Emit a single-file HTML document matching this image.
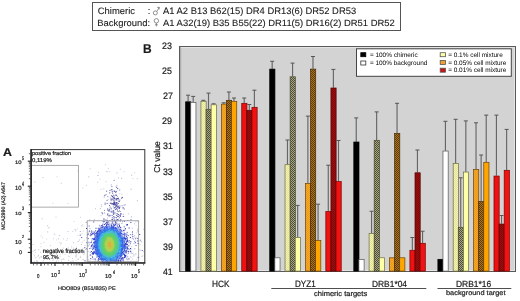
<!DOCTYPE html><html><head><meta charset="utf-8"><style>
*{margin:0;padding:0;box-sizing:border-box}
html,body{width:520px;height:301px;overflow:hidden;background:#fff}
body{position:relative;font-family:"Liberation Sans",sans-serif;color:#1a1a1a;text-rendering:geometricPrecision}
.t,.hl,.leg{filter:grayscale(1);-webkit-text-stroke:0.2px currentColor}
.hl{-webkit-text-stroke:0.1px currentColor}
.leg{-webkit-text-stroke:0}
svg{position:absolute;left:0;top:0}
.t{position:absolute;white-space:nowrap;line-height:1}
.hdr{position:absolute;left:91.5px;top:2.2px;width:309.8px;height:29.2px;border:1px solid #555;}
.hl{position:absolute;font-size:9.45px;white-space:nowrap;line-height:1}
.yl{position:absolute;font-size:8.5px;width:20px;text-align:right;line-height:1}
.leg{position:absolute;font-size:6.45px;line-height:1;white-space:nowrap;color:#000}
.xl{position:absolute;font-size:8.5px;line-height:1;white-space:nowrap;text-align:center}
.fs{position:absolute;font-size:4.6px;line-height:1;white-space:nowrap;color:#222}
.fa{position:absolute;font-size:5.5px;line-height:1;white-space:nowrap;color:#222}
.fa sup{font-size:4px;position:relative;top:-1px;vertical-align:top}
</style></head><body>
<div class="hdr"></div>
<div class="hl" style="left:97.72px;top:6.90px;font-size:9.45px;font-weight:normal;transform-origin:0 0;transform:scale(1.000,0.985);">Chimeric</div>
<div class="hl" style="left:147.71px;top:7.14px;font-size:9.45px;font-weight:normal;transform-origin:0 0;transform:scale(1.000,0.985);">:</div>
<div class="hl" style="left:162.67px;top:7.02px;font-size:9.45px;font-weight:normal;transform-origin:0 0;transform:scale(0.995,0.985);">A1 A2 B13 B62(15) DR4 DR13(6) DR52 DR53</div>
<div class="hl" style="left:97.19px;top:18.62px;font-size:9.45px;font-weight:normal;transform-origin:0 0;transform:scale(1.000,0.969);">Background:</div>
<div class="hl" style="left:162.83px;top:18.61px;font-size:9.45px;font-weight:normal;transform-origin:0 0;transform:scale(0.998,0.969);">A1 A32(19) B35 B55(22) DR11(5) DR16(2) DR51 DR52</div>
<svg width="520" height="40" viewBox="0 0 520 40" style="position:absolute;left:0;top:0">
<g fill="none" stroke="#777" stroke-width="0.8">
<circle cx="155.3" cy="12.9" r="2.0"/>
<line x1="156.8" y1="11.4" x2="159.2" y2="7.4"/>
<path d="M157.2 7.6 L159.3 7.2 L159.1 9.4"/>
<circle cx="156.4" cy="20.8" r="2.2"/>
<line x1="156.4" y1="23" x2="156.4" y2="26.4"/>
<line x1="154.9" y1="24.8" x2="157.9" y2="24.8"/>
</g></svg>
<svg class="flow" width="520" height="301" viewBox="0 0 520 301">
<defs>
<radialGradient id="lg0" cx="0.5" cy="0.5" r="0.5"><stop offset="0" stop-color="#2850e8"/><stop offset="0.72" stop-color="#2850e8"/><stop offset="1" stop-color="#2850e8" stop-opacity="0"/></radialGradient>
<radialGradient id="lg1" cx="0.5" cy="0.5" r="0.5"><stop offset="0" stop-color="#48b0f0"/><stop offset="0.72" stop-color="#48b0f0"/><stop offset="1" stop-color="#48b0f0" stop-opacity="0"/></radialGradient>
<radialGradient id="lg2" cx="0.5" cy="0.5" r="0.5"><stop offset="0" stop-color="#58d070"/><stop offset="0.72" stop-color="#58d070"/><stop offset="1" stop-color="#58d070" stop-opacity="0"/></radialGradient>
<radialGradient id="lg3" cx="0.5" cy="0.5" r="0.5"><stop offset="0" stop-color="#b0d050"/><stop offset="0.72" stop-color="#b0d050"/><stop offset="1" stop-color="#b0d050" stop-opacity="0"/></radialGradient>
<radialGradient id="lg4" cx="0.5" cy="0.5" r="0.5"><stop offset="0" stop-color="#d8b048"/><stop offset="0.72" stop-color="#d8b048"/><stop offset="1" stop-color="#d8b048" stop-opacity="0"/></radialGradient>
</defs>
<rect x="30.9" y="149.6" width="113.9" height="113.5" fill="#fff" stroke="#333" stroke-width="1"/>
<rect x="82.6" y="226.2" width="1" height="1" fill="#dadae2"/>
<rect x="82.5" y="247.9" width="1" height="1" fill="#d2d2dc"/>
<rect x="52.9" y="238.2" width="1" height="1" fill="#d2d2dc"/>
<rect x="42.8" y="260.3" width="1" height="1" fill="#bcbed2"/>
<rect x="48.1" y="227.4" width="1" height="1" fill="#c8c8d6"/>
<rect x="98.4" y="253.5" width="1" height="1" fill="#dadae2"/>
<rect x="139.4" y="248.8" width="1" height="1" fill="#d2d2dc"/>
<rect x="101.5" y="242.7" width="1" height="1" fill="#c8c8d6"/>
<rect x="39.0" y="257.5" width="1" height="1" fill="#c8c8d6"/>
<rect x="118.7" y="250.3" width="1" height="1" fill="#bcbed2"/>
<rect x="81.3" y="250.8" width="1" height="1" fill="#bcbed2"/>
<rect x="87.8" y="244.9" width="1" height="1" fill="#c8c8d6"/>
<rect x="83.1" y="251.7" width="1" height="1" fill="#c8c8d6"/>
<rect x="110.9" y="203.9" width="1" height="1" fill="#bcbed2"/>
<rect x="116.5" y="257.9" width="1" height="1" fill="#c8c8d6"/>
<rect x="76.8" y="261.8" width="1" height="1" fill="#bcbed2"/>
<rect x="75.3" y="230.3" width="1" height="1" fill="#c8c8d6"/>
<rect x="56.1" y="253.5" width="1" height="1" fill="#c8c8d6"/>
<rect x="84.5" y="245.1" width="1" height="1" fill="#c8c8d6"/>
<rect x="95.2" y="260.0" width="1" height="1" fill="#d2d2dc"/>
<rect x="118.7" y="261.2" width="1" height="1" fill="#bcbed2"/>
<rect x="34.1" y="254.9" width="1" height="1" fill="#dadae2"/>
<rect x="116.5" y="252.7" width="1" height="1" fill="#c8c8d6"/>
<rect x="33.6" y="253.5" width="1" height="1" fill="#dadae2"/>
<rect x="120.8" y="252.5" width="1" height="1" fill="#dadae2"/>
<rect x="88.8" y="242.5" width="1" height="1" fill="#d2d2dc"/>
<rect x="78.9" y="249.4" width="1" height="1" fill="#d2d2dc"/>
<rect x="32.5" y="250.7" width="1" height="1" fill="#bcbed2"/>
<rect x="143.1" y="251.2" width="1" height="1" fill="#c8c8d6"/>
<rect x="37.1" y="260.8" width="1" height="1" fill="#d2d2dc"/>
<rect x="56.0" y="260.6" width="1" height="1" fill="#bcbed2"/>
<rect x="124.5" y="232.9" width="1" height="1" fill="#dadae2"/>
<rect x="40.5" y="243.1" width="1" height="1" fill="#d2d2dc"/>
<rect x="34.1" y="250.0" width="1" height="1" fill="#bcbed2"/>
<rect x="73.6" y="221.0" width="1" height="1" fill="#dadae2"/>
<rect x="124.7" y="249.6" width="1" height="1" fill="#d2d2dc"/>
<rect x="128.5" y="258.1" width="1" height="1" fill="#d2d2dc"/>
<rect x="123.1" y="253.1" width="1" height="1" fill="#d2d2dc"/>
<rect x="112.8" y="249.1" width="1" height="1" fill="#d2d2dc"/>
<rect x="108.6" y="242.0" width="1" height="1" fill="#dadae2"/>
<rect x="130.2" y="247.9" width="1" height="1" fill="#c8c8d6"/>
<rect x="44.5" y="251.3" width="1" height="1" fill="#bcbed2"/>
<rect x="58.8" y="258.4" width="1" height="1" fill="#dadae2"/>
<rect x="64.9" y="249.5" width="1" height="1" fill="#d2d2dc"/>
<rect x="135.5" y="253.4" width="1" height="1" fill="#dadae2"/>
<rect x="94.4" y="260.8" width="1" height="1" fill="#c8c8d6"/>
<rect x="63.5" y="252.1" width="1" height="1" fill="#c8c8d6"/>
<rect x="40.1" y="256.4" width="1" height="1" fill="#dadae2"/>
<rect x="81.8" y="252.3" width="1" height="1" fill="#bcbed2"/>
<rect x="91.3" y="258.2" width="1" height="1" fill="#d2d2dc"/>
<rect x="42.6" y="250.1" width="1" height="1" fill="#bcbed2"/>
<rect x="105.3" y="247.9" width="1" height="1" fill="#d2d2dc"/>
<rect x="97.8" y="245.0" width="1" height="1" fill="#bcbed2"/>
<rect x="110.1" y="253.2" width="1" height="1" fill="#c8c8d6"/>
<rect x="34.8" y="249.3" width="1" height="1" fill="#bcbed2"/>
<rect x="67.8" y="247.4" width="1" height="1" fill="#c8c8d6"/>
<rect x="40.7" y="235.5" width="1" height="1" fill="#d2d2dc"/>
<rect x="120.4" y="254.2" width="1" height="1" fill="#bcbed2"/>
<rect x="71.4" y="247.6" width="1" height="1" fill="#dadae2"/>
<rect x="137.1" y="228.5" width="1" height="1" fill="#c8c8d6"/>
<rect x="128.2" y="240.7" width="1" height="1" fill="#dadae2"/>
<rect x="74.5" y="251.6" width="1" height="1" fill="#c8c8d6"/>
<rect x="99.9" y="240.8" width="1" height="1" fill="#bcbed2"/>
<rect x="130.0" y="250.4" width="1" height="1" fill="#bcbed2"/>
<rect x="75.5" y="260.0" width="1" height="1" fill="#dadae2"/>
<rect x="83.7" y="239.8" width="1" height="1" fill="#c8c8d6"/>
<rect x="89.9" y="247.5" width="1" height="1" fill="#c8c8d6"/>
<rect x="85.7" y="260.8" width="1" height="1" fill="#d2d2dc"/>
<rect x="138.6" y="239.7" width="1" height="1" fill="#dadae2"/>
<rect x="60.8" y="242.8" width="1" height="1" fill="#c8c8d6"/>
<rect x="73.2" y="247.6" width="1" height="1" fill="#d2d2dc"/>
<rect x="116.0" y="243.8" width="1" height="1" fill="#bcbed2"/>
<rect x="105.6" y="228.6" width="1" height="1" fill="#bcbed2"/>
<rect x="77.3" y="249.3" width="1" height="1" fill="#bcbed2"/>
<rect x="54.4" y="234.2" width="1" height="1" fill="#d2d2dc"/>
<rect x="130.0" y="249.1" width="1" height="1" fill="#dadae2"/>
<rect x="56.8" y="251.8" width="1" height="1" fill="#d2d2dc"/>
<rect x="87.5" y="256.5" width="1" height="1" fill="#c8c8d6"/>
<rect x="111.3" y="249.1" width="1" height="1" fill="#d2d2dc"/>
<rect x="44.9" y="257.9" width="1" height="1" fill="#dadae2"/>
<rect x="62.9" y="258.2" width="1" height="1" fill="#dadae2"/>
<rect x="106.9" y="245.0" width="1" height="1" fill="#dadae2"/>
<rect x="67.9" y="255.6" width="1" height="1" fill="#c8c8d6"/>
<rect x="107.6" y="250.0" width="1" height="1" fill="#bcbed2"/>
<rect x="95.7" y="251.2" width="1" height="1" fill="#c8c8d6"/>
<rect x="103.5" y="234.0" width="1" height="1" fill="#dadae2"/>
<rect x="82.8" y="230.5" width="1" height="1" fill="#d2d2dc"/>
<rect x="118.8" y="257.2" width="1" height="1" fill="#c8c8d6"/>
<rect x="141.5" y="256.0" width="1" height="1" fill="#bcbed2"/>
<rect x="138.7" y="256.7" width="1" height="1" fill="#d2d2dc"/>
<rect x="54.5" y="251.6" width="1" height="1" fill="#c8c8d6"/>
<rect x="116.1" y="260.4" width="1" height="1" fill="#c8c8d6"/>
<rect x="52.3" y="259.9" width="1" height="1" fill="#d2d2dc"/>
<rect x="76.0" y="246.6" width="1" height="1" fill="#d2d2dc"/>
<rect x="42.1" y="237.3" width="1" height="1" fill="#d2d2dc"/>
<rect x="82.4" y="250.9" width="1" height="1" fill="#d2d2dc"/>
<rect x="101.8" y="248.1" width="1" height="1" fill="#bcbed2"/>
<rect x="83.8" y="253.2" width="1" height="1" fill="#d2d2dc"/>
<rect x="43.4" y="241.8" width="1" height="1" fill="#c8c8d6"/>
<rect x="56.1" y="239.4" width="1" height="1" fill="#dadae2"/>
<rect x="141.1" y="241.2" width="1" height="1" fill="#bcbed2"/>
<rect x="61.4" y="259.1" width="1" height="1" fill="#c8c8d6"/>
<rect x="71.0" y="246.2" width="1" height="1" fill="#dadae2"/>
<rect x="117.6" y="253.0" width="1" height="1" fill="#dadae2"/>
<rect x="134.4" y="255.3" width="1" height="1" fill="#dadae2"/>
<rect x="121.1" y="228.6" width="1" height="1" fill="#d2d2dc"/>
<rect x="91.5" y="247.4" width="1" height="1" fill="#dadae2"/>
<rect x="48.9" y="227.2" width="1" height="1" fill="#dadae2"/>
<rect x="137.3" y="220.7" width="1" height="1" fill="#c8c8d6"/>
<rect x="116.4" y="260.2" width="1" height="1" fill="#dadae2"/>
<rect x="90.8" y="255.2" width="1" height="1" fill="#d2d2dc"/>
<rect x="90.4" y="235.5" width="1" height="1" fill="#bcbed2"/>
<rect x="67.0" y="238.0" width="1" height="1" fill="#d2d2dc"/>
<rect x="66.2" y="239.8" width="1" height="1" fill="#d2d2dc"/>
<rect x="139.8" y="240.2" width="1" height="1" fill="#d2d2dc"/>
<rect x="78.0" y="258.7" width="1" height="1" fill="#c8c8d6"/>
<rect x="88.2" y="258.9" width="1" height="1" fill="#c8c8d6"/>
<rect x="89.6" y="259.6" width="1" height="1" fill="#dadae2"/>
<rect x="92.7" y="253.4" width="1" height="1" fill="#c8c8d6"/>
<rect x="109.0" y="261.5" width="1" height="1" fill="#c8c8d6"/>
<rect x="135.6" y="225.1" width="1" height="1" fill="#dadae2"/>
<rect x="62.3" y="252.3" width="1" height="1" fill="#dadae2"/>
<rect x="87.1" y="242.6" width="1" height="1" fill="#dadae2"/>
<rect x="90.6" y="231.2" width="1" height="1" fill="#c8c8d6"/>
<rect x="53.6" y="233.5" width="1" height="1" fill="#d2d2dc"/>
<rect x="110.3" y="236.0" width="1" height="1" fill="#c8c8d6"/>
<rect x="36.4" y="260.6" width="1" height="1" fill="#bcbed2"/>
<rect x="68.1" y="259.9" width="1" height="1" fill="#bcbed2"/>
<rect x="59.5" y="242.1" width="1" height="1" fill="#c8c8d6"/>
<rect x="126.9" y="262.0" width="1" height="1" fill="#bcbed2"/>
<rect x="112.0" y="251.6" width="1" height="1" fill="#c8c8d6"/>
<rect x="74.1" y="228.8" width="1" height="1" fill="#dadae2"/>
<rect x="123.9" y="246.3" width="1" height="1" fill="#d2d2dc"/>
<rect x="91.1" y="248.0" width="1" height="1" fill="#d2d2dc"/>
<rect x="58.2" y="260.3" width="1" height="1" fill="#d2d2dc"/>
<rect x="67.4" y="231.1" width="1" height="1" fill="#bcbed2"/>
<rect x="131.2" y="252.0" width="1" height="1" fill="#d2d2dc"/>
<rect x="130.8" y="234.4" width="1" height="1" fill="#d2d2dc"/>
<rect x="131.0" y="257.2" width="1" height="1" fill="#dadae2"/>
<rect x="43.2" y="256.7" width="1" height="1" fill="#dadae2"/>
<rect x="92.6" y="258.9" width="1" height="1" fill="#c8c8d6"/>
<rect x="43.1" y="251.2" width="1" height="1" fill="#bcbed2"/>
<rect x="133.5" y="253.8" width="1" height="1" fill="#bcbed2"/>
<rect x="88.2" y="260.4" width="1" height="1" fill="#d2d2dc"/>
<rect x="121.4" y="258.4" width="1" height="1" fill="#dadae2"/>
<rect x="48.7" y="261.7" width="1" height="1" fill="#d2d2dc"/>
<rect x="45.1" y="257.4" width="1" height="1" fill="#bcbed2"/>
<rect x="135.2" y="253.3" width="1" height="1" fill="#c8c8d6"/>
<rect x="96.7" y="245.0" width="1" height="1" fill="#c8c8d6"/>
<rect x="117.2" y="242.9" width="1" height="1" fill="#bcbed2"/>
<rect x="75.7" y="247.9" width="1" height="1" fill="#d2d2dc"/>
<rect x="99.0" y="255.0" width="1" height="1" fill="#c8c8d6"/>
<rect x="102.7" y="251.1" width="1" height="1" fill="#dadae2"/>
<rect x="82.7" y="259.2" width="1" height="1" fill="#bcbed2"/>
<rect x="77.3" y="258.6" width="1" height="1" fill="#c8c8d6"/>
<rect x="68.3" y="252.5" width="1" height="1" fill="#c8c8d6"/>
<rect x="121.3" y="252.6" width="1" height="1" fill="#dadae2"/>
<rect x="95.6" y="229.7" width="1" height="1" fill="#d2d2dc"/>
<rect x="88.3" y="231.6" width="1" height="1" fill="#bcbed2"/>
<rect x="63.4" y="258.8" width="1" height="1" fill="#c8c8d6"/>
<rect x="115.0" y="256.6" width="1" height="1" fill="#dadae2"/>
<rect x="47.2" y="231.4" width="1" height="1" fill="#bcbed2"/>
<rect x="130.0" y="252.2" width="1" height="1" fill="#d2d2dc"/>
<rect x="77.4" y="234.8" width="1" height="1" fill="#d2d2dc"/>
<rect x="40.2" y="251.7" width="1" height="1" fill="#c8c8d6"/>
<rect x="130.9" y="246.1" width="1" height="1" fill="#c8c8d6"/>
<rect x="58.1" y="238.4" width="1" height="1" fill="#bcbed2"/>
<rect x="56.4" y="253.5" width="1" height="1" fill="#dadae2"/>
<rect x="95.6" y="245.6" width="1" height="1" fill="#dadae2"/>
<rect x="103.6" y="258.6" width="1" height="1" fill="#c8c8d6"/>
<rect x="116.9" y="258.5" width="1" height="1" fill="#c8c8d6"/>
<rect x="114.3" y="261.6" width="1" height="1" fill="#bcbed2"/>
<rect x="81.6" y="233.3" width="1" height="1" fill="#dadae2"/>
<rect x="33.6" y="261.2" width="1" height="1" fill="#bcbed2"/>
<rect x="60.2" y="244.3" width="1" height="1" fill="#dadae2"/>
<rect x="139.7" y="250.1" width="1" height="1" fill="#c8c8d6"/>
<rect x="103.2" y="259.6" width="1" height="1" fill="#c8c8d6"/>
<rect x="75.3" y="255.8" width="1" height="1" fill="#d2d2dc"/>
<rect x="75.2" y="229.2" width="1" height="1" fill="#c8c8d6"/>
<rect x="80.0" y="255.8" width="1" height="1" fill="#dadae2"/>
<rect x="79.1" y="239.5" width="1" height="1" fill="#bcbed2"/>
<rect x="91.2" y="258.3" width="1" height="1" fill="#dadae2"/>
<rect x="105.1" y="249.2" width="1" height="1" fill="#bcbed2"/>
<rect x="35.4" y="256.9" width="1" height="1" fill="#d2d2dc"/>
<rect x="97.4" y="250.4" width="1" height="1" fill="#dadae2"/>
<rect x="38.3" y="249.2" width="1" height="1" fill="#bcbed2"/>
<rect x="115.4" y="213.7" width="1" height="1" fill="#bcbed2"/>
<rect x="40.6" y="246.3" width="1" height="1" fill="#d2d2dc"/>
<rect x="80.0" y="216.8" width="1" height="1" fill="#d2d2dc"/>
<rect x="37.4" y="255.7" width="1" height="1" fill="#c8c8d6"/>
<rect x="136.3" y="258.8" width="1" height="1" fill="#d2d2dc"/>
<rect x="99.3" y="243.3" width="1" height="1" fill="#c8c8d6"/>
<rect x="38.0" y="254.7" width="1" height="1" fill="#c8c8d6"/>
<rect x="72.0" y="257.9" width="1" height="1" fill="#d2d2dc"/>
<rect x="46.2" y="238.5" width="1" height="1" fill="#dadae2"/>
<rect x="99.1" y="253.2" width="1" height="1" fill="#dadae2"/>
<rect x="72.8" y="260.9" width="1" height="1" fill="#d2d2dc"/>
<rect x="138.0" y="230.9" width="1" height="1" fill="#d2d2dc"/>
<rect x="58.8" y="235.0" width="1" height="1" fill="#bcbed2"/>
<rect x="62.9" y="238.5" width="1" height="1" fill="#d2d2dc"/>
<rect x="102.6" y="261.9" width="1" height="1" fill="#d2d2dc"/>
<rect x="88.1" y="251.1" width="1" height="1" fill="#d2d2dc"/>
<rect x="129.9" y="256.3" width="1" height="1" fill="#bcbed2"/>
<rect x="61.2" y="260.6" width="1" height="1" fill="#c8c8d6"/>
<rect x="101.5" y="245.1" width="1" height="1" fill="#c8c8d6"/>
<rect x="116.2" y="249.4" width="1" height="1" fill="#d2d2dc"/>
<rect x="93.5" y="250.9" width="1" height="1" fill="#dadae2"/>
<rect x="71.7" y="250.0" width="1" height="1" fill="#bcbed2"/>
<rect x="70.5" y="261.0" width="1" height="1" fill="#c8c8d6"/>
<rect x="121.4" y="229.7" width="1" height="1" fill="#dadae2"/>
<rect x="122.1" y="241.4" width="1" height="1" fill="#d2d2dc"/>
<rect x="81.7" y="241.7" width="1" height="1" fill="#bcbed2"/>
<rect x="75.7" y="256.4" width="1" height="1" fill="#bcbed2"/>
<rect x="64.7" y="254.1" width="1" height="1" fill="#d2d2dc"/>
<rect x="79.8" y="256.9" width="1" height="1" fill="#bcbed2"/>
<rect x="41.1" y="256.5" width="1" height="1" fill="#c8c8d6"/>
<rect x="80.3" y="233.7" width="1" height="1" fill="#dadae2"/>
<rect x="65.5" y="249.2" width="1" height="1" fill="#c8c8d6"/>
<rect x="40.8" y="256.4" width="1" height="1" fill="#c8c8d6"/>
<rect x="109.5" y="237.7" width="1" height="1" fill="#dadae2"/>
<rect x="112.8" y="257.3" width="1" height="1" fill="#d2d2dc"/>
<rect x="56.7" y="249.1" width="1" height="1" fill="#bcbed2"/>
<rect x="73.0" y="242.3" width="1" height="1" fill="#bcbed2"/>
<rect x="81.0" y="244.1" width="1" height="1" fill="#bcbed2"/>
<rect x="83.2" y="254.1" width="1" height="1" fill="#d2d2dc"/>
<rect x="41.7" y="218.3" width="1" height="1" fill="#bcbed2"/>
<rect x="35.1" y="252.1" width="1" height="1" fill="#d2d2dc"/>
<rect x="114.3" y="241.9" width="1" height="1" fill="#bcbed2"/>
<rect x="120.8" y="230.8" width="1" height="1" fill="#d2d2dc"/>
<rect x="52.0" y="253.9" width="1" height="1" fill="#dadae2"/>
<rect x="130.1" y="261.4" width="1" height="1" fill="#c8c8d6"/>
<rect x="92.7" y="258.6" width="1" height="1" fill="#bcbed2"/>
<rect x="139.6" y="244.2" width="1" height="1" fill="#c8c8d6"/>
<rect x="96.9" y="237.1" width="1" height="1" fill="#bcbed2"/>
<rect x="119.8" y="256.0" width="1" height="1" fill="#c8c8d6"/>
<rect x="132.1" y="258.6" width="1" height="1" fill="#c8c8d6"/>
<rect x="35.3" y="257.7" width="1" height="1" fill="#dadae2"/>
<rect x="59.6" y="255.8" width="1" height="1" fill="#d2d2dc"/>
<rect x="86.6" y="249.2" width="1" height="1" fill="#dadae2"/>
<rect x="76.1" y="253.6" width="1" height="1" fill="#bcbed2"/>
<rect x="121.9" y="257.5" width="1" height="1" fill="#dadae2"/>
<rect x="92.0" y="254.1" width="1" height="1" fill="#c8c8d6"/>
<rect x="110.9" y="247.1" width="1" height="1" fill="#bcbed2"/>
<rect x="127.1" y="253.2" width="1" height="1" fill="#dadae2"/>
<rect x="124.9" y="229.4" width="1" height="1" fill="#c8c8d6"/>
<rect x="90.5" y="234.6" width="1" height="1" fill="#c8c8d6"/>
<rect x="121.4" y="246.5" width="1" height="1" fill="#d2d2dc"/>
<rect x="59.7" y="253.7" width="1" height="1" fill="#d2d2dc"/>
<rect x="142.3" y="254.8" width="1" height="1" fill="#d2d2dc"/>
<rect x="75.6" y="254.8" width="1" height="1" fill="#bcbed2"/>
<rect x="62.8" y="247.6" width="1" height="1" fill="#c8c8d6"/>
<rect x="66.1" y="249.5" width="1" height="1" fill="#d2d2dc"/>
<rect x="118.5" y="259.5" width="1" height="1" fill="#dadae2"/>
<rect x="34.3" y="256.6" width="1" height="1" fill="#dadae2"/>
<rect x="133.2" y="254.2" width="1" height="1" fill="#d2d2dc"/>
<rect x="72.2" y="260.3" width="1" height="1" fill="#d2d2dc"/>
<rect x="98.9" y="242.1" width="1" height="1" fill="#dadae2"/>
<rect x="52.9" y="258.5" width="1" height="1" fill="#bcbed2"/>
<rect x="77.0" y="228.2" width="1" height="1" fill="#dadae2"/>
<rect x="127.0" y="240.8" width="1" height="1" fill="#dadae2"/>
<rect x="130.8" y="253.2" width="1" height="1" fill="#d0d0e0"/>
<rect x="105.6" y="239.1" width="1" height="1" fill="#c8c8dc"/>
<rect x="85.9" y="184.9" width="1" height="1" fill="#c8c8dc"/>
<rect x="56.5" y="176.3" width="1" height="1" fill="#d0d0e0"/>
<rect x="140.6" y="241.4" width="1" height="1" fill="#d0d0e0"/>
<rect x="119.8" y="168.8" width="1" height="1" fill="#c8c8dc"/>
<rect x="131.3" y="249.2" width="1" height="1" fill="#d0d0e0"/>
<rect x="82.3" y="187.4" width="1" height="1" fill="#d0d0e0"/>
<rect x="99.6" y="178.6" width="1" height="1" fill="#c8c8dc"/>
<rect x="118.0" y="177.4" width="1" height="1" fill="#c8c8dc"/>
<rect x="103.0" y="260.9" width="1" height="1" fill="#d0d0e0"/>
<rect x="89.6" y="168.3" width="1" height="1" fill="#c8c8dc"/>
<rect x="32.6" y="244.0" width="1" height="1" fill="#c8c8dc"/>
<rect x="123.6" y="171.2" width="1" height="1" fill="#d0d0e0"/>
<rect x="100.6" y="215.1" width="1" height="1" fill="#d0d0e0"/>
<rect x="109.3" y="171.3" width="1" height="1" fill="#d0d0e0"/>
<rect x="34.5" y="181.6" width="1" height="1" fill="#c8c8dc"/>
<rect x="134.1" y="172.1" width="1" height="1" fill="#d0d0e0"/>
<rect x="55.5" y="216.6" width="1" height="1" fill="#d0d0e0"/>
<rect x="49.9" y="245.1" width="1" height="1" fill="#d0d0e0"/>
<rect x="67.5" y="203.0" width="1" height="1" fill="#d0d0e0"/>
<rect x="143.0" y="228.8" width="1" height="1" fill="#c8c8dc"/>
<rect x="72.3" y="230.8" width="1" height="1" fill="#c8c8dc"/>
<rect x="106.4" y="229.7" width="1" height="1" fill="#c8c8dc"/>
<rect x="104.9" y="164.3" width="1" height="1" fill="#d0d0e0"/>
<rect x="111.3" y="209.9" width="1" height="1" fill="#d0d0e0"/>
<rect x="95.0" y="208.2" width="1" height="1" fill="#c8c8dc"/>
<rect x="127.3" y="246.3" width="1" height="1" fill="#c8c8dc"/>
<rect x="132.4" y="178.1" width="1" height="1" fill="#d0d0e0"/>
<rect x="136.4" y="236.9" width="1" height="1" fill="#d0d0e0"/>
<rect x="116.1" y="217.8" width="1" height="1" fill="#c8c8dc"/>
<rect x="60.8" y="182.8" width="1" height="1" fill="#c8c8dc"/>
<rect x="68.9" y="256.2" width="1" height="1" fill="#d0d0e0"/>
<rect x="112.7" y="195.8" width="1" height="1" fill="#d0d0e0"/>
<rect x="42.6" y="177.0" width="1" height="1" fill="#c8c8dc"/>
<rect x="47.0" y="225.2" width="1" height="1" fill="#c8c8dc"/>
<rect x="52.3" y="202.7" width="1" height="1" fill="#d0d0e0"/>
<rect x="98.1" y="172.0" width="1" height="1" fill="#c8c8dc"/>
<rect x="36.0" y="260.4" width="1" height="1" fill="#d0d0e0"/>
<rect x="77.5" y="170.3" width="1" height="1" fill="#d0d0e0"/>
<rect x="116.4" y="184.9" width="1" height="1" fill="#b0b4d8"/>
<rect x="106.8" y="244.6" width="1" height="1" fill="#a0a6d4"/>
<rect x="80.9" y="225.4" width="1" height="1" fill="#c4c6dc"/>
<rect x="113.2" y="203.9" width="1" height="1" fill="#c4c6dc"/>
<rect x="100.5" y="188.8" width="1" height="1" fill="#c4c6dc"/>
<rect x="130.9" y="216.4" width="1" height="1" fill="#a0a6d4"/>
<rect x="104.2" y="228.1" width="1" height="1" fill="#b0b4d8"/>
<rect x="120.4" y="219.0" width="1" height="1" fill="#b0b4d8"/>
<rect x="87.1" y="245.0" width="1" height="1" fill="#c4c6dc"/>
<rect x="108.7" y="234.2" width="1" height="1" fill="#a0a6d4"/>
<rect x="112.9" y="218.2" width="1" height="1" fill="#a0a6d4"/>
<rect x="82.1" y="224.4" width="1" height="1" fill="#c4c6dc"/>
<rect x="122.9" y="260.7" width="1" height="1" fill="#c4c6dc"/>
<rect x="126.0" y="261.8" width="1" height="1" fill="#c4c6dc"/>
<rect x="114.4" y="256.7" width="1" height="1" fill="#c4c6dc"/>
<rect x="102.6" y="229.0" width="1" height="1" fill="#b0b4d8"/>
<rect x="119.7" y="205.5" width="1" height="1" fill="#a0a6d4"/>
<rect x="121.2" y="196.9" width="1" height="1" fill="#a0a6d4"/>
<rect x="107.3" y="208.9" width="1" height="1" fill="#c4c6dc"/>
<rect x="136.8" y="178.2" width="1" height="1" fill="#c4c6dc"/>
<rect x="93.9" y="219.4" width="1" height="1" fill="#a0a6d4"/>
<rect x="105.5" y="181.3" width="1" height="1" fill="#c4c6dc"/>
<rect x="133.9" y="223.3" width="1" height="1" fill="#b0b4d8"/>
<rect x="108.8" y="255.6" width="1" height="1" fill="#b0b4d8"/>
<rect x="103.3" y="188.4" width="1" height="1" fill="#c4c6dc"/>
<rect x="136.9" y="200.2" width="1" height="1" fill="#b0b4d8"/>
<rect x="116.5" y="172.4" width="1" height="1" fill="#b0b4d8"/>
<rect x="125.1" y="204.1" width="1" height="1" fill="#c4c6dc"/>
<rect x="124.1" y="247.2" width="1" height="1" fill="#a0a6d4"/>
<rect x="126.7" y="224.7" width="1" height="1" fill="#c4c6dc"/>
<rect x="110.8" y="184.4" width="1" height="1" fill="#a0a6d4"/>
<rect x="107.8" y="168.2" width="1" height="1" fill="#c4c6dc"/>
<rect x="97.2" y="181.8" width="1" height="1" fill="#c4c6dc"/>
<rect x="121.1" y="177.8" width="1" height="1" fill="#b0b4d8"/>
<rect x="99.4" y="227.2" width="1" height="1" fill="#b0b4d8"/>
<rect x="105.2" y="235.0" width="1" height="1" fill="#b0b4d8"/>
<rect x="97.5" y="174.9" width="1" height="1" fill="#a0a6d4"/>
<rect x="118.7" y="204.9" width="1" height="1" fill="#c4c6dc"/>
<rect x="124.3" y="204.5" width="1" height="1" fill="#a0a6d4"/>
<rect x="101.3" y="212.1" width="1" height="1" fill="#a0a6d4"/>
<rect x="123.5" y="204.7" width="1" height="1" fill="#a0a6d4"/>
<rect x="88.3" y="176.4" width="1" height="1" fill="#b0b4d8"/>
<rect x="123.2" y="215.9" width="1" height="1" fill="#a0a6d4"/>
<rect x="101.1" y="205.8" width="1" height="1" fill="#b0b4d8"/>
<rect x="108.1" y="235.4" width="1" height="1" fill="#a0a6d4"/>
<rect x="113.9" y="236.0" width="1" height="1" fill="#c4c6dc"/>
<rect x="100.0" y="250.6" width="1" height="1" fill="#b0b4d8"/>
<rect x="130.6" y="188.7" width="1" height="1" fill="#a0a6d4"/>
<rect x="111.3" y="259.3" width="1" height="1" fill="#a0a6d4"/>
<rect x="136.4" y="232.4" width="1" height="1" fill="#c4c6dc"/>
<rect x="123.8" y="228.7" width="1" height="1" fill="#b0b4d8"/>
<rect x="101.3" y="250.3" width="1" height="1" fill="#c4c6dc"/>
<rect x="128.8" y="249.0" width="1" height="1" fill="#a0a6d4"/>
<rect x="106.0" y="219.7" width="1" height="1" fill="#b0b4d8"/>
<rect x="113.8" y="220.0" width="1" height="1" fill="#b0b4d8"/>
<rect x="131.2" y="174.6" width="1" height="1" fill="#b0b4d8"/>
<rect x="121.5" y="257.2" width="1" height="1" fill="#b0b4d8"/>
<rect x="121.3" y="193.7" width="1" height="1" fill="#c4c6dc"/>
<rect x="106.5" y="171.1" width="1" height="1" fill="#a0a6d4"/>
<rect x="121.0" y="244.1" width="1" height="1" fill="#a0a6d4"/>
<rect x="112.1" y="195.9" width="1" height="1" fill="#7070b4"/>
<rect x="111.4" y="186.1" width="1" height="1" fill="#7070b4"/>
<rect x="100.8" y="204.2" width="1" height="1" fill="#c4c4dc"/>
<rect x="112.7" y="210.3" width="1" height="1" fill="#5c5cac"/>
<rect x="117.5" y="199.4" width="1" height="1" fill="#4a4aa4"/>
<rect x="107.6" y="199.0" width="1" height="1" fill="#c4c4dc"/>
<rect x="113.1" y="220.8" width="1" height="1" fill="#b0b0d4"/>
<rect x="111.4" y="221.3" width="1" height="1" fill="#9a9aca"/>
<rect x="111.0" y="199.4" width="1" height="1" fill="#4a4aa4"/>
<rect x="109.3" y="215.5" width="1" height="1" fill="#7070b4"/>
<rect x="106.9" y="217.6" width="1" height="1" fill="#c4c4dc"/>
<rect x="123.7" y="208.5" width="1" height="1" fill="#5c5cac"/>
<rect x="121.6" y="205.3" width="1" height="1" fill="#8484c0"/>
<rect x="111.6" y="191.3" width="1" height="1" fill="#5c5cac"/>
<rect x="119.8" y="220.9" width="1" height="1" fill="#7070b4"/>
<rect x="117.8" y="198.2" width="1" height="1" fill="#5c5cac"/>
<rect x="111.2" y="211.2" width="1" height="1" fill="#c4c4dc"/>
<rect x="117.2" y="215.9" width="1" height="1" fill="#4a4aa4"/>
<rect x="113.1" y="213.9" width="1" height="1" fill="#5c5cac"/>
<rect x="117.7" y="216.0" width="1" height="1" fill="#7070b4"/>
<rect x="110.9" y="195.3" width="1" height="1" fill="#4a4aa4"/>
<rect x="107.1" y="209.2" width="1" height="1" fill="#9a9aca"/>
<rect x="113.8" y="190.9" width="1" height="1" fill="#9a9aca"/>
<rect x="112.5" y="203.3" width="1" height="1" fill="#7070b4"/>
<rect x="109.6" y="208.6" width="1" height="1" fill="#c4c4dc"/>
<rect x="111.9" y="198.7" width="1" height="1" fill="#5c5cac"/>
<rect x="109.8" y="203.0" width="1" height="1" fill="#5c5cac"/>
<rect x="110.6" y="223.7" width="1" height="1" fill="#4a4aa4"/>
<rect x="119.5" y="214.8" width="1" height="1" fill="#4a4aa4"/>
<rect x="107.4" y="222.4" width="1" height="1" fill="#8484c0"/>
<rect x="119.2" y="189.6" width="1" height="1" fill="#7070b4"/>
<rect x="116.3" y="204.8" width="1" height="1" fill="#8484c0"/>
<rect x="104.3" y="219.0" width="1" height="1" fill="#c4c4dc"/>
<rect x="111.6" y="215.1" width="1" height="1" fill="#9a9aca"/>
<rect x="103.6" y="218.0" width="1" height="1" fill="#c4c4dc"/>
<rect x="111.9" y="197.3" width="1" height="1" fill="#9a9aca"/>
<rect x="109.1" y="209.0" width="1" height="1" fill="#7070b4"/>
<rect x="104.9" y="219.1" width="1" height="1" fill="#c4c4dc"/>
<rect x="111.8" y="217.4" width="1" height="1" fill="#c4c4dc"/>
<rect x="120.1" y="213.6" width="1" height="1" fill="#8484c0"/>
<rect x="116.8" y="202.2" width="1" height="1" fill="#4a4aa4"/>
<rect x="127.9" y="213.3" width="1" height="1" fill="#c4c4dc"/>
<rect x="107.8" y="221.3" width="1" height="1" fill="#9a9aca"/>
<rect x="119.7" y="211.0" width="1" height="1" fill="#8484c0"/>
<rect x="110.6" y="211.3" width="1" height="1" fill="#4a4aa4"/>
<rect x="106.1" y="190.7" width="1" height="1" fill="#5c5cac"/>
<rect x="102.1" y="213.2" width="1" height="1" fill="#5c5cac"/>
<rect x="109.4" y="214.8" width="1" height="1" fill="#4a4aa4"/>
<rect x="117.1" y="204.4" width="1" height="1" fill="#9a9aca"/>
<rect x="113.8" y="217.9" width="1" height="1" fill="#c4c4dc"/>
<rect x="111.1" y="202.4" width="1" height="1" fill="#c4c4dc"/>
<rect x="111.2" y="211.5" width="1" height="1" fill="#8484c0"/>
<rect x="117.0" y="201.9" width="1" height="1" fill="#c4c4dc"/>
<rect x="120.4" y="214.0" width="1" height="1" fill="#8484c0"/>
<rect x="110.5" y="189.6" width="1" height="1" fill="#5c5cac"/>
<rect x="115.6" y="217.0" width="1" height="1" fill="#4a4aa4"/>
<rect x="113.4" y="195.1" width="1" height="1" fill="#5c5cac"/>
<rect x="107.3" y="196.1" width="1" height="1" fill="#8484c0"/>
<rect x="113.0" y="211.8" width="1" height="1" fill="#8484c0"/>
<rect x="112.1" y="221.5" width="1" height="1" fill="#5c5cac"/>
<rect x="109.2" y="192.4" width="1" height="1" fill="#4a4aa4"/>
<rect x="109.2" y="223.4" width="1" height="1" fill="#b0b0d4"/>
<rect x="113.0" y="223.9" width="1" height="1" fill="#5c5cac"/>
<rect x="104.6" y="203.7" width="1" height="1" fill="#4a4aa4"/>
<rect x="112.8" y="212.7" width="1" height="1" fill="#5c5cac"/>
<rect x="118.7" y="206.5" width="1" height="1" fill="#7070b4"/>
<rect x="116.4" y="222.8" width="1" height="1" fill="#5c5cac"/>
<rect x="110.9" y="207.9" width="1" height="1" fill="#b0b0d4"/>
<rect x="111.3" y="223.9" width="1" height="1" fill="#c4c4dc"/>
<rect x="103.2" y="221.4" width="1" height="1" fill="#5c5cac"/>
<rect x="104.0" y="209.9" width="1" height="1" fill="#8484c0"/>
<rect x="119.2" y="207.0" width="1" height="1" fill="#4a4aa4"/>
<rect x="111.3" y="200.1" width="1" height="1" fill="#9a9aca"/>
<rect x="115.7" y="219.5" width="1" height="1" fill="#8484c0"/>
<rect x="114.2" y="199.5" width="1" height="1" fill="#7070b4"/>
<rect x="118.9" y="210.3" width="1" height="1" fill="#8484c0"/>
<rect x="105.8" y="223.9" width="1" height="1" fill="#5c5cac"/>
<rect x="101.7" y="212.4" width="1" height="1" fill="#8484c0"/>
<rect x="112.1" y="190.8" width="1" height="1" fill="#7070b4"/>
<rect x="106.9" y="214.7" width="1" height="1" fill="#9a9aca"/>
<rect x="112.7" y="198.3" width="1" height="1" fill="#b0b0d4"/>
<rect x="118.8" y="217.3" width="1" height="1" fill="#7070b4"/>
<rect x="119.3" y="193.3" width="1" height="1" fill="#c4c4dc"/>
<rect x="115.8" y="206.3" width="1" height="1" fill="#c4c4dc"/>
<rect x="114.2" y="201.3" width="1" height="1" fill="#7070b4"/>
<rect x="109.2" y="220.3" width="1" height="1" fill="#8484c0"/>
<rect x="115.9" y="191.7" width="1" height="1" fill="#c4c4dc"/>
<rect x="108.0" y="221.3" width="1" height="1" fill="#b0b0d4"/>
<rect x="111.4" y="189.0" width="1" height="1" fill="#4a4aa4"/>
<rect x="115.1" y="198.6" width="1" height="1" fill="#9a9aca"/>
<rect x="117.6" y="214.0" width="1" height="1" fill="#8484c0"/>
<rect x="113.6" y="210.5" width="1" height="1" fill="#b0b0d4"/>
<rect x="112.3" y="195.6" width="1" height="1" fill="#b0b0d4"/>
<rect x="108.3" y="209.6" width="1" height="1" fill="#8484c0"/>
<rect x="114.1" y="196.3" width="1" height="1" fill="#b0b0d4"/>
<rect x="117.0" y="209.5" width="1" height="1" fill="#5c5cac"/>
<rect x="115.3" y="207.3" width="1" height="1" fill="#7070b4"/>
<rect x="109.8" y="206.7" width="1" height="1" fill="#9a9aca"/>
<rect x="114.0" y="200.1" width="1" height="1" fill="#b0b0d4"/>
<rect x="112.9" y="210.6" width="1" height="1" fill="#4a4aa4"/>
<rect x="117.8" y="219.6" width="1" height="1" fill="#b0b0d4"/>
<rect x="112.9" y="190.2" width="1" height="1" fill="#c4c4dc"/>
<rect x="110.4" y="200.1" width="1" height="1" fill="#c4c4dc"/>
<rect x="102.6" y="221.0" width="1" height="1" fill="#5c5cac"/>
<rect x="111.5" y="219.0" width="1" height="1" fill="#4a4aa4"/>
<rect x="122.5" y="207.5" width="1" height="1" fill="#4a4aa4"/>
<rect x="116.9" y="210.8" width="1" height="1" fill="#b0b0d4"/>
<rect x="111.1" y="203.1" width="1" height="1" fill="#5c5cac"/>
<rect x="115.6" y="222.4" width="1" height="1" fill="#7070b4"/>
<rect x="122.7" y="216.0" width="1" height="1" fill="#5c5cac"/>
<rect x="111.9" y="211.8" width="1" height="1" fill="#c4c4dc"/>
<rect x="103.7" y="196.5" width="1" height="1" fill="#9a9aca"/>
<rect x="115.5" y="202.0" width="1" height="1" fill="#4a4aa4"/>
<rect x="107.3" y="221.8" width="1" height="1" fill="#4a4aa4"/>
<rect x="117.8" y="206.5" width="1" height="1" fill="#4a4aa4"/>
<rect x="114.8" y="207.0" width="1" height="1" fill="#c4c4dc"/>
<rect x="107.1" y="213.7" width="1" height="1" fill="#7070b4"/>
<rect x="114.0" y="190.7" width="1" height="1" fill="#4a4aa4"/>
<rect x="118.1" y="205.8" width="1" height="1" fill="#7070b4"/>
<rect x="106.7" y="219.8" width="1" height="1" fill="#5c5cac"/>
<rect x="108.1" y="215.3" width="1" height="1" fill="#7070b4"/>
<rect x="115.6" y="186.1" width="1" height="1" fill="#b0b0d4"/>
<rect x="113.4" y="222.7" width="1" height="1" fill="#9a9aca"/>
<rect x="104.1" y="212.5" width="1" height="1" fill="#9a9aca"/>
<rect x="110.9" y="208.3" width="1" height="1" fill="#8484c0"/>
<rect x="122.8" y="207.1" width="1" height="1" fill="#8484c0"/>
<rect x="116.2" y="187.0" width="1" height="1" fill="#7070b4"/>
<rect x="117.8" y="211.0" width="1" height="1" fill="#8484c0"/>
<rect x="114.8" y="223.5" width="1" height="1" fill="#5c5cac"/>
<rect x="115.5" y="202.1" width="1" height="1" fill="#5c5cac"/>
<rect x="119.0" y="201.0" width="1" height="1" fill="#8484c0"/>
<rect x="113.9" y="179.8" width="1" height="1" fill="#9a9aca"/>
<rect x="108.2" y="210.9" width="1" height="1" fill="#9a9aca"/>
<rect x="105.2" y="220.0" width="1" height="1" fill="#c4c4dc"/>
<rect x="113.8" y="216.6" width="1" height="1" fill="#4a4aa4"/>
<rect x="106.9" y="221.5" width="1" height="1" fill="#7070b4"/>
<rect x="114.0" y="219.6" width="1" height="1" fill="#5c5cac"/>
<rect x="118.9" y="223.2" width="1" height="1" fill="#c4c4dc"/>
<rect x="109.8" y="197.1" width="1" height="1" fill="#c4c4dc"/>
<rect x="120.5" y="213.1" width="1" height="1" fill="#7070b4"/>
<rect x="107.1" y="208.3" width="1" height="1" fill="#8484c0"/>
<rect x="118.3" y="201.1" width="1" height="1" fill="#5c5cac"/>
<rect x="109.5" y="206.4" width="1" height="1" fill="#b0b0d4"/>
<rect x="104.3" y="194.9" width="1" height="1" fill="#4a4aa4"/>
<rect x="118.2" y="223.8" width="1" height="1" fill="#7070b4"/>
<rect x="105.5" y="194.0" width="1" height="1" fill="#8484c0"/>
<rect x="111.8" y="211.5" width="1" height="1" fill="#9a9aca"/>
<rect x="110.3" y="221.0" width="1" height="1" fill="#c4c4dc"/>
<rect x="109.3" y="210.6" width="1" height="1" fill="#b0b0d4"/>
<rect x="117.8" y="219.3" width="1" height="1" fill="#8484c0"/>
<rect x="109.8" y="201.9" width="1" height="1" fill="#b0b0d4"/>
<rect x="109.0" y="205.0" width="1" height="1" fill="#7070b4"/>
<rect x="114.6" y="220.8" width="1" height="1" fill="#5c5cac"/>
<rect x="120.0" y="213.2" width="1" height="1" fill="#8484c0"/>
<rect x="119.6" y="215.3" width="1" height="1" fill="#7070b4"/>
<rect x="120.0" y="219.4" width="1" height="1" fill="#5c5cac"/>
<rect x="110.2" y="199.3" width="1" height="1" fill="#b0b0d4"/>
<rect x="110.5" y="198.4" width="1" height="1" fill="#4a4aa4"/>
<rect x="109.0" y="210.2" width="1" height="1" fill="#5c5cac"/>
<rect x="104.7" y="202.5" width="1" height="1" fill="#7070b4"/>
<rect x="108.8" y="208.5" width="1" height="1" fill="#b0b0d4"/>
<rect x="106.7" y="223.8" width="1" height="1" fill="#4a4aa4"/>
<rect x="122.0" y="196.9" width="1" height="1" fill="#5c5cac"/>
<rect x="112.7" y="203.3" width="1" height="1" fill="#b0b0d4"/>
<rect x="114.4" y="212.3" width="1" height="1" fill="#4a4aa4"/>
<rect x="105.6" y="220.2" width="1" height="1" fill="#c4c4dc"/>
<rect x="109.1" y="210.6" width="1" height="1" fill="#c4c4dc"/>
<rect x="116.4" y="221.1" width="1" height="1" fill="#b0b0d4"/>
<rect x="107.4" y="203.2" width="1" height="1" fill="#c4c4dc"/>
<rect x="116.9" y="195.9" width="1" height="1" fill="#9a9aca"/>
<rect x="110.3" y="207.4" width="1" height="1" fill="#c4c4dc"/>
<rect x="104.0" y="221.0" width="1" height="1" fill="#8484c0"/>
<rect x="121.2" y="197.9" width="1" height="1" fill="#7070b4"/>
<rect x="122.2" y="221.3" width="1" height="1" fill="#8484c0"/>
<rect x="112.9" y="194.5" width="1" height="1" fill="#9a9aca"/>
<rect x="113.5" y="213.2" width="1" height="1" fill="#7070b4"/>
<rect x="111.7" y="214.9" width="1" height="1" fill="#8484c0"/>
<rect x="116.3" y="199.3" width="1" height="1" fill="#9a9aca"/>
<rect x="114.6" y="202.2" width="1" height="1" fill="#c4c4dc"/>
<rect x="113.4" y="204.3" width="1" height="1" fill="#4a4aa4"/>
<rect x="113.1" y="180.0" width="1" height="1" fill="#c4c4dc"/>
<rect x="115.2" y="199.4" width="1" height="1" fill="#c4c4dc"/>
<rect x="117.7" y="208.1" width="1" height="1" fill="#9a9aca"/>
<rect x="113.7" y="207.6" width="1" height="1" fill="#4a4aa4"/>
<rect x="106.5" y="200.0" width="1" height="1" fill="#7070b4"/>
<rect x="106.6" y="202.9" width="1" height="1" fill="#7070b4"/>
<rect x="119.6" y="221.0" width="1" height="1" fill="#c4c4dc"/>
<rect x="111.8" y="222.7" width="1" height="1" fill="#4a4aa4"/>
<rect x="115.8" y="198.0" width="1" height="1" fill="#4a4aa4"/>
<rect x="113.0" y="216.2" width="1" height="1" fill="#7070b4"/>
<rect x="112.8" y="206.3" width="1" height="1" fill="#9a9aca"/>
<rect x="107.6" y="210.0" width="1" height="1" fill="#5c5cac"/>
<rect x="109.3" y="189.9" width="1" height="1" fill="#7070b4"/>
<rect x="120.8" y="219.7" width="1" height="1" fill="#c4c4dc"/>
<rect x="106.0" y="222.3" width="1" height="1" fill="#9a9aca"/>
<rect x="112.3" y="220.1" width="1" height="1" fill="#c4c4dc"/>
<rect x="114.0" y="219.5" width="1" height="1" fill="#8484c0"/>
<rect x="99.8" y="207.9" width="1" height="1" fill="#b0b0d4"/>
<rect x="118.9" y="208.1" width="1" height="1" fill="#4a4aa4"/>
<rect x="107.4" y="213.5" width="1" height="1" fill="#5c5cac"/>
<rect x="117.9" y="197.7" width="1" height="1" fill="#5656a8"/>
<rect x="112.0" y="196.0" width="1" height="1" fill="#4a4aa4"/>
<rect x="113.4" y="197.4" width="1" height="1" fill="#4a4aa4"/>
<rect x="119.3" y="199.6" width="1" height="1" fill="#4a4aa4"/>
<rect x="114.1" y="198.1" width="1" height="1" fill="#3c3c9c"/>
<rect x="113.6" y="201.8" width="1" height="1" fill="#5656a8"/>
<rect x="116.2" y="205.5" width="1" height="1" fill="#3c3c9c"/>
<rect x="115.8" y="203.3" width="1" height="1" fill="#3c3c9c"/>
<rect x="115.9" y="199.3" width="1" height="1" fill="#3c3c9c"/>
<rect x="115.1" y="209.1" width="1" height="1" fill="#4a4aa4"/>
<rect x="117.8" y="214.2" width="1" height="1" fill="#3c3c9c"/>
<rect x="115.2" y="205.7" width="1" height="1" fill="#3c3c9c"/>
<rect x="114.0" y="202.1" width="1" height="1" fill="#4a4aa4"/>
<rect x="117.2" y="188.1" width="1" height="1" fill="#3c3c9c"/>
<rect x="115.0" y="191.6" width="1" height="1" fill="#3c3c9c"/>
<rect x="114.3" y="202.9" width="1" height="1" fill="#4a4aa4"/>
<rect x="114.4" y="207.0" width="1" height="1" fill="#3c3c9c"/>
<rect x="112.6" y="203.3" width="1" height="1" fill="#3c3c9c"/>
<rect x="117.3" y="207.1" width="1" height="1" fill="#4a4aa4"/>
<rect x="114.6" y="203.7" width="1" height="1" fill="#5656a8"/>
<rect x="112.2" y="192.7" width="1" height="1" fill="#5656a8"/>
<rect x="113.3" y="197.1" width="1" height="1" fill="#5656a8"/>
<rect x="114.5" y="204.7" width="1" height="1" fill="#5656a8"/>
<rect x="113.0" y="199.6" width="1" height="1" fill="#5656a8"/>
<rect x="115.8" y="190.8" width="1" height="1" fill="#5656a8"/>
<rect x="117.7" y="203.0" width="1" height="1" fill="#5656a8"/>
<rect x="116.2" y="215.0" width="1" height="1" fill="#5656a8"/>
<rect x="113.4" y="197.5" width="1" height="1" fill="#5656a8"/>
<rect x="115.2" y="203.9" width="1" height="1" fill="#4a4aa4"/>
<rect x="116.8" y="205.9" width="1" height="1" fill="#4a4aa4"/>
<rect x="113.3" y="201.6" width="1" height="1" fill="#5656a8"/>
<rect x="115.5" y="194.5" width="1" height="1" fill="#3c3c9c"/>
<rect x="114.2" y="204.1" width="1" height="1" fill="#4a4aa4"/>
<rect x="115.8" y="205.0" width="1" height="1" fill="#5656a8"/>
<rect x="113.9" y="202.8" width="1" height="1" fill="#3c3c9c"/>
<rect x="112.7" y="204.1" width="1" height="1" fill="#4a4aa4"/>
<rect x="116.6" y="213.1" width="1" height="1" fill="#5656a8"/>
<rect x="117.0" y="198.0" width="1" height="1" fill="#4a4aa4"/>
<rect x="115.7" y="194.9" width="1" height="1" fill="#4a4aa4"/>
<rect x="116.5" y="203.6" width="1" height="1" fill="#5656a8"/>
<rect x="116.0" y="202.2" width="1" height="1" fill="#4a4aa4"/>
<rect x="112.7" y="203.6" width="1" height="1" fill="#3c3c9c"/>
<rect x="116.0" y="208.3" width="1" height="1" fill="#3c3c9c"/>
<rect x="112.5" y="203.0" width="1" height="1" fill="#3c3c9c"/>
<rect x="113.9" y="203.0" width="1" height="1" fill="#4a4aa4"/>
<rect x="113.9" y="253.4" width="1" height="1" fill="#5058bc"/>
<rect x="117.2" y="242.4" width="1" height="1" fill="#5058bc"/>
<rect x="114.8" y="249.2" width="1" height="1" fill="#6a70c4"/>
<rect x="126.5" y="247.7" width="1" height="1" fill="#6a70c4"/>
<rect x="113.0" y="242.0" width="1" height="1" fill="#a0a4d4"/>
<rect x="113.7" y="259.4" width="1" height="1" fill="#a0a4d4"/>
<rect x="123.9" y="241.9" width="1" height="1" fill="#6a70c4"/>
<rect x="94.1" y="258.5" width="1" height="1" fill="#a0a4d4"/>
<rect x="102.9" y="258.7" width="1" height="1" fill="#5058bc"/>
<rect x="105.1" y="238.2" width="1" height="1" fill="#3a40b8"/>
<rect x="111.9" y="249.7" width="1" height="1" fill="#a0a4d4"/>
<rect x="106.5" y="243.0" width="1" height="1" fill="#5058bc"/>
<rect x="129.8" y="261.9" width="1" height="1" fill="#8488cc"/>
<rect x="102.3" y="237.9" width="1" height="1" fill="#2630b0"/>
<rect x="127.0" y="244.0" width="1" height="1" fill="#a0a4d4"/>
<rect x="104.7" y="222.7" width="1" height="1" fill="#b8bada"/>
<rect x="104.0" y="247.9" width="1" height="1" fill="#a0a4d4"/>
<rect x="108.3" y="255.1" width="1" height="1" fill="#8488cc"/>
<rect x="98.7" y="251.1" width="1" height="1" fill="#8488cc"/>
<rect x="113.1" y="247.9" width="1" height="1" fill="#8488cc"/>
<rect x="107.0" y="236.8" width="1" height="1" fill="#8488cc"/>
<rect x="113.8" y="248.3" width="1" height="1" fill="#5058bc"/>
<rect x="113.8" y="243.2" width="1" height="1" fill="#a0a4d4"/>
<rect x="83.7" y="251.7" width="1" height="1" fill="#6a70c4"/>
<rect x="113.2" y="255.3" width="1" height="1" fill="#3a40b8"/>
<rect x="105.4" y="245.8" width="1" height="1" fill="#6a70c4"/>
<rect x="101.8" y="257.1" width="1" height="1" fill="#a0a4d4"/>
<rect x="118.6" y="241.9" width="1" height="1" fill="#a0a4d4"/>
<rect x="125.1" y="245.7" width="1" height="1" fill="#2630b0"/>
<rect x="104.2" y="247.6" width="1" height="1" fill="#b8bada"/>
<rect x="109.3" y="256.0" width="1" height="1" fill="#5058bc"/>
<rect x="128.4" y="258.1" width="1" height="1" fill="#b8bada"/>
<rect x="97.2" y="237.0" width="1" height="1" fill="#2630b0"/>
<rect x="101.9" y="246.7" width="1" height="1" fill="#b8bada"/>
<rect x="102.1" y="252.6" width="1" height="1" fill="#a0a4d4"/>
<rect x="94.4" y="235.4" width="1" height="1" fill="#b8bada"/>
<rect x="111.8" y="243.8" width="1" height="1" fill="#a0a4d4"/>
<rect x="111.9" y="248.0" width="1" height="1" fill="#3a40b8"/>
<rect x="99.6" y="246.6" width="1" height="1" fill="#a0a4d4"/>
<rect x="107.0" y="241.3" width="1" height="1" fill="#3a40b8"/>
<rect x="92.3" y="257.1" width="1" height="1" fill="#a0a4d4"/>
<rect x="104.0" y="243.1" width="1" height="1" fill="#2630b0"/>
<rect x="121.1" y="249.5" width="1" height="1" fill="#6a70c4"/>
<rect x="116.1" y="219.8" width="1" height="1" fill="#8488cc"/>
<rect x="117.3" y="244.0" width="1" height="1" fill="#5058bc"/>
<rect x="116.1" y="232.9" width="1" height="1" fill="#2630b0"/>
<rect x="109.2" y="239.9" width="1" height="1" fill="#3a40b8"/>
<rect x="126.5" y="240.1" width="1" height="1" fill="#b8bada"/>
<rect x="109.0" y="236.1" width="1" height="1" fill="#b8bada"/>
<rect x="122.2" y="242.2" width="1" height="1" fill="#2630b0"/>
<rect x="103.3" y="247.1" width="1" height="1" fill="#5058bc"/>
<rect x="127.0" y="224.1" width="1" height="1" fill="#2630b0"/>
<rect x="118.6" y="251.7" width="1" height="1" fill="#8488cc"/>
<rect x="103.9" y="243.4" width="1" height="1" fill="#b8bada"/>
<rect x="105.4" y="242.9" width="1" height="1" fill="#3a40b8"/>
<rect x="112.8" y="247.9" width="1" height="1" fill="#8488cc"/>
<rect x="105.5" y="254.1" width="1" height="1" fill="#3a40b8"/>
<rect x="109.6" y="255.9" width="1" height="1" fill="#2630b0"/>
<rect x="124.7" y="243.6" width="1" height="1" fill="#3a40b8"/>
<rect x="97.5" y="240.1" width="1" height="1" fill="#b8bada"/>
<rect x="126.2" y="232.6" width="1" height="1" fill="#8488cc"/>
<rect x="97.8" y="242.7" width="1" height="1" fill="#8488cc"/>
<rect x="127.1" y="240.5" width="1" height="1" fill="#2630b0"/>
<rect x="108.0" y="245.3" width="1" height="1" fill="#3a40b8"/>
<rect x="111.0" y="239.4" width="1" height="1" fill="#a0a4d4"/>
<rect x="107.8" y="238.3" width="1" height="1" fill="#8488cc"/>
<rect x="100.8" y="236.9" width="1" height="1" fill="#6a70c4"/>
<rect x="95.5" y="227.8" width="1" height="1" fill="#2630b0"/>
<rect x="101.9" y="250.4" width="1" height="1" fill="#3a40b8"/>
<rect x="109.0" y="249.8" width="1" height="1" fill="#6a70c4"/>
<rect x="103.1" y="255.7" width="1" height="1" fill="#a0a4d4"/>
<rect x="124.1" y="243.9" width="1" height="1" fill="#3a40b8"/>
<rect x="97.1" y="239.1" width="1" height="1" fill="#2630b0"/>
<rect x="101.8" y="250.2" width="1" height="1" fill="#a0a4d4"/>
<rect x="102.8" y="240.0" width="1" height="1" fill="#2630b0"/>
<rect x="97.6" y="249.9" width="1" height="1" fill="#5058bc"/>
<rect x="103.2" y="236.5" width="1" height="1" fill="#2630b0"/>
<rect x="130.2" y="250.9" width="1" height="1" fill="#2630b0"/>
<rect x="115.3" y="253.7" width="1" height="1" fill="#5058bc"/>
<rect x="102.8" y="249.1" width="1" height="1" fill="#2630b0"/>
<rect x="108.7" y="241.8" width="1" height="1" fill="#5058bc"/>
<rect x="101.1" y="245.3" width="1" height="1" fill="#a0a4d4"/>
<rect x="91.0" y="241.5" width="1" height="1" fill="#5058bc"/>
<rect x="84.5" y="260.4" width="1" height="1" fill="#2630b0"/>
<rect x="105.3" y="234.9" width="1" height="1" fill="#3a40b8"/>
<rect x="99.1" y="255.6" width="1" height="1" fill="#5058bc"/>
<rect x="113.6" y="238.1" width="1" height="1" fill="#b8bada"/>
<rect x="100.9" y="239.4" width="1" height="1" fill="#6a70c4"/>
<rect x="123.7" y="257.0" width="1" height="1" fill="#5058bc"/>
<rect x="114.2" y="246.1" width="1" height="1" fill="#5058bc"/>
<rect x="91.7" y="233.9" width="1" height="1" fill="#6a70c4"/>
<rect x="102.7" y="236.0" width="1" height="1" fill="#2630b0"/>
<rect x="105.5" y="260.7" width="1" height="1" fill="#2630b0"/>
<rect x="102.9" y="249.3" width="1" height="1" fill="#5058bc"/>
<rect x="104.7" y="253.0" width="1" height="1" fill="#b8bada"/>
<rect x="114.7" y="252.0" width="1" height="1" fill="#5058bc"/>
<rect x="127.7" y="251.0" width="1" height="1" fill="#2630b0"/>
<rect x="105.6" y="247.3" width="1" height="1" fill="#3a40b8"/>
<rect x="124.1" y="237.6" width="1" height="1" fill="#2630b0"/>
<rect x="96.5" y="233.3" width="1" height="1" fill="#3a40b8"/>
<rect x="108.3" y="243.9" width="1" height="1" fill="#a0a4d4"/>
<rect x="99.1" y="245.8" width="1" height="1" fill="#a0a4d4"/>
<rect x="134.9" y="242.0" width="1" height="1" fill="#2630b0"/>
<rect x="111.6" y="248.6" width="1" height="1" fill="#a0a4d4"/>
<rect x="109.5" y="233.8" width="1" height="1" fill="#6a70c4"/>
<rect x="100.3" y="226.8" width="1" height="1" fill="#6a70c4"/>
<rect x="101.4" y="260.7" width="1" height="1" fill="#2630b0"/>
<rect x="124.1" y="220.8" width="1" height="1" fill="#5058bc"/>
<rect x="102.1" y="232.5" width="1" height="1" fill="#2630b0"/>
<rect x="106.0" y="233.9" width="1" height="1" fill="#a0a4d4"/>
<rect x="123.5" y="240.5" width="1" height="1" fill="#b8bada"/>
<rect x="112.3" y="255.5" width="1" height="1" fill="#8488cc"/>
<rect x="114.6" y="251.8" width="1" height="1" fill="#6a70c4"/>
<rect x="121.4" y="246.8" width="1" height="1" fill="#6a70c4"/>
<rect x="114.9" y="260.8" width="1" height="1" fill="#6a70c4"/>
<rect x="91.8" y="245.2" width="1" height="1" fill="#6a70c4"/>
<rect x="96.2" y="243.6" width="1" height="1" fill="#8488cc"/>
<rect x="109.1" y="237.9" width="1" height="1" fill="#8488cc"/>
<rect x="108.5" y="246.2" width="1" height="1" fill="#b8bada"/>
<rect x="114.9" y="253.2" width="1" height="1" fill="#8488cc"/>
<rect x="115.1" y="228.7" width="1" height="1" fill="#6a70c4"/>
<rect x="89.7" y="235.0" width="1" height="1" fill="#5058bc"/>
<rect x="110.3" y="238.3" width="1" height="1" fill="#a0a4d4"/>
<rect x="119.6" y="243.3" width="1" height="1" fill="#a0a4d4"/>
<rect x="93.2" y="245.5" width="1" height="1" fill="#5058bc"/>
<rect x="107.6" y="230.2" width="1" height="1" fill="#5058bc"/>
<rect x="127.7" y="235.1" width="1" height="1" fill="#5058bc"/>
<rect x="96.3" y="256.6" width="1" height="1" fill="#6a70c4"/>
<rect x="112.9" y="242.3" width="1" height="1" fill="#3a40b8"/>
<rect x="134.3" y="240.8" width="1" height="1" fill="#6a70c4"/>
<rect x="105.0" y="248.1" width="1" height="1" fill="#3a40b8"/>
<rect x="109.5" y="239.4" width="1" height="1" fill="#5058bc"/>
<rect x="102.8" y="244.5" width="1" height="1" fill="#a0a4d4"/>
<rect x="105.3" y="249.7" width="1" height="1" fill="#6a70c4"/>
<rect x="106.1" y="250.0" width="1" height="1" fill="#b8bada"/>
<rect x="103.3" y="251.8" width="1" height="1" fill="#3a40b8"/>
<rect x="111.1" y="237.0" width="1" height="1" fill="#3a40b8"/>
<rect x="121.5" y="230.7" width="1" height="1" fill="#5058bc"/>
<rect x="123.6" y="257.4" width="1" height="1" fill="#8488cc"/>
<rect x="102.5" y="251.7" width="1" height="1" fill="#2630b0"/>
<rect x="126.9" y="239.2" width="1" height="1" fill="#5058bc"/>
<rect x="92.5" y="231.5" width="1" height="1" fill="#5058bc"/>
<rect x="117.7" y="251.1" width="1" height="1" fill="#3a40b8"/>
<rect x="100.8" y="242.6" width="1" height="1" fill="#5058bc"/>
<rect x="106.0" y="258.2" width="1" height="1" fill="#5058bc"/>
<rect x="100.3" y="245.3" width="1" height="1" fill="#5058bc"/>
<rect x="116.9" y="219.1" width="1" height="1" fill="#3a40b8"/>
<rect x="114.2" y="239.9" width="1" height="1" fill="#b8bada"/>
<rect x="103.5" y="242.9" width="1" height="1" fill="#2630b0"/>
<rect x="91.4" y="239.6" width="1" height="1" fill="#8488cc"/>
<rect x="109.4" y="227.4" width="1" height="1" fill="#8488cc"/>
<rect x="110.8" y="236.1" width="1" height="1" fill="#2630b0"/>
<rect x="91.5" y="253.0" width="1" height="1" fill="#a0a4d4"/>
<rect x="111.3" y="236.7" width="1" height="1" fill="#6a70c4"/>
<rect x="105.3" y="235.2" width="1" height="1" fill="#3a40b8"/>
<rect x="122.2" y="240.0" width="1" height="1" fill="#8488cc"/>
<rect x="105.9" y="221.8" width="1" height="1" fill="#2630b0"/>
<rect x="114.7" y="242.9" width="1" height="1" fill="#a0a4d4"/>
<rect x="109.0" y="235.2" width="1" height="1" fill="#2630b0"/>
<rect x="121.3" y="253.0" width="1" height="1" fill="#2630b0"/>
<rect x="113.1" y="254.4" width="1" height="1" fill="#5058bc"/>
<rect x="112.2" y="241.7" width="1" height="1" fill="#a0a4d4"/>
<rect x="106.2" y="239.3" width="1" height="1" fill="#6a70c4"/>
<rect x="79.8" y="231.0" width="1" height="1" fill="#a0a4d4"/>
<rect x="140.2" y="239.7" width="1" height="1" fill="#8488cc"/>
<rect x="97.5" y="241.4" width="1" height="1" fill="#a0a4d4"/>
<rect x="115.0" y="256.8" width="1" height="1" fill="#5058bc"/>
<rect x="89.5" y="228.2" width="1" height="1" fill="#a0a4d4"/>
<rect x="114.5" y="248.1" width="1" height="1" fill="#3a40b8"/>
<rect x="121.1" y="250.5" width="1" height="1" fill="#8488cc"/>
<rect x="132.3" y="235.8" width="1" height="1" fill="#2630b0"/>
<rect x="115.8" y="251.5" width="1" height="1" fill="#5058bc"/>
<rect x="111.2" y="253.1" width="1" height="1" fill="#3a40b8"/>
<rect x="137.2" y="240.5" width="1" height="1" fill="#3a40b8"/>
<rect x="126.4" y="224.5" width="1" height="1" fill="#2630b0"/>
<rect x="93.5" y="232.1" width="1" height="1" fill="#a0a4d4"/>
<rect x="87.2" y="234.3" width="1" height="1" fill="#5058bc"/>
<rect x="113.9" y="242.6" width="1" height="1" fill="#8488cc"/>
<rect x="116.9" y="250.4" width="1" height="1" fill="#5058bc"/>
<rect x="111.8" y="243.9" width="1" height="1" fill="#2630b0"/>
<rect x="113.8" y="250.2" width="1" height="1" fill="#8488cc"/>
<rect x="94.4" y="242.7" width="1" height="1" fill="#b8bada"/>
<rect x="107.1" y="240.5" width="1" height="1" fill="#5058bc"/>
<rect x="128.0" y="252.6" width="1" height="1" fill="#6a70c4"/>
<rect x="115.3" y="234.8" width="1" height="1" fill="#5058bc"/>
<rect x="111.6" y="255.3" width="1" height="1" fill="#b8bada"/>
<rect x="109.6" y="247.9" width="1" height="1" fill="#5058bc"/>
<rect x="99.1" y="242.9" width="1" height="1" fill="#a0a4d4"/>
<rect x="99.4" y="257.3" width="1" height="1" fill="#6a70c4"/>
<rect x="112.4" y="250.1" width="1" height="1" fill="#5058bc"/>
<rect x="101.7" y="246.8" width="1" height="1" fill="#5058bc"/>
<rect x="116.3" y="259.7" width="1" height="1" fill="#8488cc"/>
<rect x="108.5" y="257.9" width="1" height="1" fill="#5058bc"/>
<rect x="107.2" y="243.5" width="1" height="1" fill="#5058bc"/>
<rect x="110.5" y="253.8" width="1" height="1" fill="#5058bc"/>
<rect x="108.9" y="237.1" width="1" height="1" fill="#2630b0"/>
<rect x="113.0" y="231.2" width="1" height="1" fill="#2630b0"/>
<rect x="104.0" y="232.6" width="1" height="1" fill="#6a70c4"/>
<rect x="111.8" y="255.6" width="1" height="1" fill="#3a40b8"/>
<rect x="102.0" y="252.0" width="1" height="1" fill="#2630b0"/>
<rect x="120.8" y="243.8" width="1" height="1" fill="#3a40b8"/>
<rect x="94.4" y="252.5" width="1" height="1" fill="#3a40b8"/>
<rect x="98.7" y="261.0" width="1" height="1" fill="#6a70c4"/>
<rect x="121.7" y="236.7" width="1" height="1" fill="#a0a4d4"/>
<rect x="137.7" y="256.9" width="1" height="1" fill="#2630b0"/>
<rect x="112.2" y="245.4" width="1" height="1" fill="#2630b0"/>
<rect x="103.4" y="247.4" width="1" height="1" fill="#2630b0"/>
<rect x="135.2" y="238.2" width="1" height="1" fill="#5058bc"/>
<rect x="113.4" y="249.1" width="1" height="1" fill="#b8bada"/>
<rect x="103.3" y="218.6" width="1" height="1" fill="#3a40b8"/>
<rect x="110.8" y="261.6" width="1" height="1" fill="#3a40b8"/>
<rect x="123.1" y="232.6" width="1" height="1" fill="#a0a4d4"/>
<rect x="98.8" y="247.5" width="1" height="1" fill="#2630b0"/>
<rect x="115.1" y="241.6" width="1" height="1" fill="#b8bada"/>
<rect x="116.0" y="247.6" width="1" height="1" fill="#5058bc"/>
<rect x="106.8" y="239.5" width="1" height="1" fill="#5058bc"/>
<rect x="111.8" y="249.6" width="1" height="1" fill="#8488cc"/>
<rect x="88.4" y="241.7" width="1" height="1" fill="#6a70c4"/>
<rect x="110.5" y="231.1" width="1" height="1" fill="#2630b0"/>
<rect x="116.5" y="248.3" width="1" height="1" fill="#2630b0"/>
<rect x="137.0" y="230.3" width="1" height="1" fill="#a0a4d4"/>
<rect x="102.6" y="244.3" width="1" height="1" fill="#5058bc"/>
<rect x="105.9" y="240.5" width="1" height="1" fill="#6a70c4"/>
<rect x="117.6" y="216.1" width="1" height="1" fill="#6a70c4"/>
<rect x="106.2" y="244.7" width="1" height="1" fill="#3a40b8"/>
<rect x="139.2" y="234.0" width="1" height="1" fill="#2630b0"/>
<rect x="95.3" y="250.0" width="1" height="1" fill="#8488cc"/>
<rect x="115.9" y="246.6" width="1" height="1" fill="#3a40b8"/>
<rect x="92.0" y="256.4" width="1" height="1" fill="#2630b0"/>
<rect x="121.3" y="246.3" width="1" height="1" fill="#6a70c4"/>
<rect x="106.2" y="241.9" width="1" height="1" fill="#2630b0"/>
<rect x="110.2" y="246.3" width="1" height="1" fill="#5058bc"/>
<rect x="119.7" y="242.8" width="1" height="1" fill="#b8bada"/>
<rect x="101.3" y="237.3" width="1" height="1" fill="#6a70c4"/>
<rect x="112.6" y="249.8" width="1" height="1" fill="#8488cc"/>
<rect x="99.0" y="238.9" width="1" height="1" fill="#8488cc"/>
<rect x="101.8" y="240.1" width="1" height="1" fill="#6a70c4"/>
<rect x="123.7" y="226.4" width="1" height="1" fill="#3a40b8"/>
<rect x="94.9" y="247.3" width="1" height="1" fill="#5058bc"/>
<rect x="112.0" y="219.0" width="1" height="1" fill="#5058bc"/>
<rect x="110.8" y="259.0" width="1" height="1" fill="#3a40b8"/>
<rect x="106.3" y="234.9" width="1" height="1" fill="#a0a4d4"/>
<rect x="123.8" y="254.1" width="1" height="1" fill="#5058bc"/>
<rect x="103.8" y="245.2" width="1" height="1" fill="#a0a4d4"/>
<rect x="121.6" y="238.3" width="1" height="1" fill="#6a70c4"/>
<rect x="102.7" y="229.6" width="1" height="1" fill="#6a70c4"/>
<rect x="107.6" y="258.8" width="1" height="1" fill="#a0a4d4"/>
<rect x="105.8" y="242.9" width="1" height="1" fill="#5058bc"/>
<rect x="96.2" y="244.7" width="1" height="1" fill="#a0a4d4"/>
<rect x="111.1" y="246.5" width="1" height="1" fill="#8488cc"/>
<rect x="104.9" y="246.1" width="1" height="1" fill="#b8bada"/>
<rect x="123.9" y="249.0" width="1" height="1" fill="#6a70c4"/>
<rect x="112.0" y="236.4" width="1" height="1" fill="#a0a4d4"/>
<rect x="97.3" y="244.2" width="1" height="1" fill="#8488cc"/>
<rect x="113.6" y="246.0" width="1" height="1" fill="#b8bada"/>
<rect x="99.9" y="245.5" width="1" height="1" fill="#b8bada"/>
<rect x="102.5" y="233.3" width="1" height="1" fill="#3a40b8"/>
<rect x="98.8" y="231.1" width="1" height="1" fill="#6a70c4"/>
<rect x="119.9" y="215.7" width="1" height="1" fill="#3a40b8"/>
<rect x="101.3" y="226.5" width="1" height="1" fill="#a0a4d4"/>
<rect x="108.0" y="253.6" width="1" height="1" fill="#3a40b8"/>
<rect x="119.1" y="252.9" width="1" height="1" fill="#a0a4d4"/>
<rect x="123.0" y="246.4" width="1" height="1" fill="#5058bc"/>
<rect x="93.1" y="247.4" width="1" height="1" fill="#a0a4d4"/>
<rect x="132.0" y="231.0" width="1" height="1" fill="#a0a4d4"/>
<rect x="130.3" y="222.0" width="1" height="1" fill="#3a40b8"/>
<rect x="116.3" y="237.6" width="1" height="1" fill="#3a40b8"/>
<rect x="94.1" y="232.4" width="1" height="1" fill="#5058bc"/>
<rect x="125.4" y="243.1" width="1" height="1" fill="#3a40b8"/>
<rect x="109.3" y="228.1" width="1" height="1" fill="#6a70c4"/>
<rect x="122.7" y="230.6" width="1" height="1" fill="#b8bada"/>
<rect x="109.4" y="243.7" width="1" height="1" fill="#5058bc"/>
<rect x="124.8" y="239.0" width="1" height="1" fill="#6a70c4"/>
<rect x="112.2" y="261.6" width="1" height="1" fill="#2630b0"/>
<rect x="116.1" y="245.4" width="1" height="1" fill="#b8bada"/>
<rect x="117.7" y="243.5" width="1" height="1" fill="#8488cc"/>
<rect x="112.2" y="227.8" width="1" height="1" fill="#8488cc"/>
<rect x="97.7" y="249.7" width="1" height="1" fill="#a0a4d4"/>
<rect x="115.8" y="259.2" width="1" height="1" fill="#a0a4d4"/>
<rect x="110.1" y="239.4" width="1" height="1" fill="#5058bc"/>
<rect x="132.1" y="233.8" width="1" height="1" fill="#5058bc"/>
<rect x="94.6" y="241.5" width="1" height="1" fill="#5058bc"/>
<rect x="128.7" y="240.1" width="1" height="1" fill="#5058bc"/>
<rect x="115.6" y="249.4" width="1" height="1" fill="#6a70c4"/>
<rect x="114.1" y="246.5" width="1" height="1" fill="#a0a4d4"/>
<rect x="96.7" y="241.7" width="1" height="1" fill="#a0a4d4"/>
<rect x="100.0" y="243.0" width="1" height="1" fill="#8488cc"/>
<rect x="101.3" y="253.3" width="1" height="1" fill="#6a70c4"/>
<rect x="112.8" y="246.0" width="1" height="1" fill="#5058bc"/>
<rect x="118.2" y="233.9" width="1" height="1" fill="#3a40b8"/>
<rect x="102.4" y="249.0" width="1" height="1" fill="#6a70c4"/>
<rect x="113.4" y="242.3" width="1" height="1" fill="#6a70c4"/>
<rect x="93.4" y="251.3" width="1" height="1" fill="#b8bada"/>
<rect x="95.0" y="230.0" width="1" height="1" fill="#8488cc"/>
<rect x="116.6" y="239.7" width="1" height="1" fill="#8488cc"/>
<rect x="107.8" y="245.3" width="1" height="1" fill="#2630b0"/>
<rect x="116.7" y="261.9" width="1" height="1" fill="#2630b0"/>
<rect x="103.9" y="239.9" width="1" height="1" fill="#5058bc"/>
<rect x="112.9" y="230.3" width="1" height="1" fill="#5058bc"/>
<rect x="113.2" y="245.5" width="1" height="1" fill="#2630b0"/>
<rect x="104.4" y="246.7" width="1" height="1" fill="#6a70c4"/>
<rect x="112.4" y="252.4" width="1" height="1" fill="#2630b0"/>
<rect x="108.7" y="244.3" width="1" height="1" fill="#6a70c4"/>
<rect x="105.2" y="233.4" width="1" height="1" fill="#3a40b8"/>
<rect x="122.9" y="244.1" width="1" height="1" fill="#b8bada"/>
<rect x="109.0" y="233.3" width="1" height="1" fill="#a0a4d4"/>
<rect x="105.3" y="247.0" width="1" height="1" fill="#8488cc"/>
<rect x="112.1" y="247.2" width="1" height="1" fill="#6a70c4"/>
<rect x="100.1" y="250.7" width="1" height="1" fill="#a0a4d4"/>
<rect x="99.4" y="252.3" width="1" height="1" fill="#2630b0"/>
<rect x="111.7" y="252.5" width="1" height="1" fill="#a0a4d4"/>
<rect x="94.1" y="245.7" width="1" height="1" fill="#5058bc"/>
<rect x="124.1" y="237.5" width="1" height="1" fill="#5058bc"/>
<rect x="106.7" y="251.8" width="1" height="1" fill="#b8bada"/>
<rect x="106.7" y="230.3" width="1" height="1" fill="#a0a4d4"/>
<rect x="90.1" y="258.1" width="1" height="1" fill="#5058bc"/>
<rect x="114.4" y="245.5" width="1" height="1" fill="#5058bc"/>
<rect x="99.0" y="247.8" width="1" height="1" fill="#6a70c4"/>
<rect x="112.9" y="255.8" width="1" height="1" fill="#3a40b8"/>
<rect x="101.0" y="236.6" width="1" height="1" fill="#5058bc"/>
<rect x="105.8" y="241.2" width="1" height="1" fill="#a0a4d4"/>
<rect x="86.1" y="248.2" width="1" height="1" fill="#6a70c4"/>
<rect x="100.1" y="230.6" width="1" height="1" fill="#8488cc"/>
<rect x="129.4" y="241.6" width="1" height="1" fill="#6a70c4"/>
<rect x="112.8" y="241.7" width="1" height="1" fill="#3a40b8"/>
<rect x="104.1" y="261.4" width="1" height="1" fill="#8488cc"/>
<rect x="99.9" y="230.9" width="1" height="1" fill="#6a70c4"/>
<rect x="111.6" y="253.5" width="1" height="1" fill="#8488cc"/>
<rect x="111.2" y="230.9" width="1" height="1" fill="#a0a4d4"/>
<rect x="99.5" y="259.0" width="1" height="1" fill="#2630b0"/>
<rect x="115.1" y="236.0" width="1" height="1" fill="#6a70c4"/>
<rect x="108.5" y="259.6" width="1" height="1" fill="#3a40b8"/>
<rect x="115.8" y="237.5" width="1" height="1" fill="#3a40b8"/>
<rect x="109.2" y="232.8" width="1" height="1" fill="#6a70c4"/>
<rect x="90.9" y="234.3" width="1" height="1" fill="#b8bada"/>
<rect x="106.9" y="241.2" width="1" height="1" fill="#a0a4d4"/>
<rect x="106.9" y="234.8" width="1" height="1" fill="#5058bc"/>
<rect x="101.7" y="240.5" width="1" height="1" fill="#a0a4d4"/>
<rect x="104.5" y="234.3" width="1" height="1" fill="#3a40b8"/>
<rect x="115.6" y="244.0" width="1" height="1" fill="#b8bada"/>
<rect x="91.3" y="234.3" width="1" height="1" fill="#8488cc"/>
<rect x="118.2" y="241.8" width="1" height="1" fill="#8488cc"/>
<rect x="113.0" y="232.1" width="1" height="1" fill="#6a70c4"/>
<rect x="103.8" y="247.5" width="1" height="1" fill="#8488cc"/>
<rect x="121.6" y="248.2" width="1" height="1" fill="#8488cc"/>
<rect x="124.3" y="243.7" width="1" height="1" fill="#5058bc"/>
<rect x="97.7" y="259.3" width="1" height="1" fill="#2630b0"/>
<rect x="123.8" y="245.3" width="1" height="1" fill="#3a40b8"/>
<rect x="101.5" y="225.3" width="1" height="1" fill="#6a70c4"/>
<rect x="107.6" y="238.6" width="1" height="1" fill="#8488cc"/>
<rect x="106.9" y="243.9" width="1" height="1" fill="#5058bc"/>
<rect x="100.0" y="251.2" width="1" height="1" fill="#b8bada"/>
<rect x="117.4" y="241.1" width="1" height="1" fill="#3a40b8"/>
<rect x="134.3" y="248.3" width="1" height="1" fill="#a0a4d4"/>
<rect x="114.6" y="227.2" width="1" height="1" fill="#5058bc"/>
<rect x="113.3" y="245.0" width="1" height="1" fill="#8488cc"/>
<rect x="130.3" y="248.1" width="1" height="1" fill="#b8bada"/>
<rect x="101.6" y="258.0" width="1" height="1" fill="#5058bc"/>
<rect x="106.1" y="235.0" width="1" height="1" fill="#3a40b8"/>
<rect x="119.5" y="230.4" width="1" height="1" fill="#2630b0"/>
<rect x="89.8" y="251.7" width="1" height="1" fill="#8488cc"/>
<rect x="106.7" y="257.3" width="1" height="1" fill="#5058bc"/>
<rect x="110.8" y="252.2" width="1" height="1" fill="#8488cc"/>
<rect x="102.4" y="258.9" width="1" height="1" fill="#5058bc"/>
<rect x="115.1" y="222.2" width="1" height="1" fill="#3a40b8"/>
<rect x="121.4" y="222.9" width="1" height="1" fill="#a0a4d4"/>
<rect x="110.5" y="232.1" width="1" height="1" fill="#8488cc"/>
<rect x="107.2" y="237.1" width="1" height="1" fill="#5058bc"/>
<rect x="115.1" y="238.8" width="1" height="1" fill="#5058bc"/>
<rect x="121.9" y="249.2" width="1" height="1" fill="#a0a4d4"/>
<rect x="126.4" y="249.4" width="1" height="1" fill="#2630b0"/>
<rect x="111.2" y="228.0" width="1" height="1" fill="#8488cc"/>
<rect x="119.5" y="246.0" width="1" height="1" fill="#8488cc"/>
<rect x="90.9" y="231.6" width="1" height="1" fill="#2630b0"/>
<rect x="112.6" y="233.5" width="1" height="1" fill="#a0a4d4"/>
<rect x="98.4" y="235.3" width="1" height="1" fill="#2630b0"/>
<rect x="100.6" y="229.8" width="1" height="1" fill="#5058bc"/>
<rect x="128.3" y="250.8" width="1" height="1" fill="#3a40b8"/>
<rect x="99.4" y="240.6" width="1" height="1" fill="#5058bc"/>
<rect x="135.5" y="245.0" width="1" height="1" fill="#5058bc"/>
<rect x="109.3" y="246.5" width="1" height="1" fill="#5058bc"/>
<rect x="103.3" y="247.9" width="1" height="1" fill="#3a40b8"/>
<rect x="126.3" y="258.4" width="1" height="1" fill="#6a70c4"/>
<rect x="106.1" y="238.1" width="1" height="1" fill="#8488cc"/>
<rect x="124.0" y="232.5" width="1" height="1" fill="#8488cc"/>
<rect x="113.2" y="233.2" width="1" height="1" fill="#a0a4d4"/>
<rect x="97.5" y="244.5" width="1" height="1" fill="#6a70c4"/>
<rect x="103.5" y="251.1" width="1" height="1" fill="#6a70c4"/>
<rect x="95.4" y="242.0" width="1" height="1" fill="#b8bada"/>
<rect x="116.7" y="224.4" width="1" height="1" fill="#5058bc"/>
<rect x="119.0" y="245.8" width="1" height="1" fill="#2630b0"/>
<rect x="107.5" y="242.0" width="1" height="1" fill="#6a70c4"/>
<rect x="107.7" y="251.5" width="1" height="1" fill="#b8bada"/>
<rect x="122.4" y="238.0" width="1" height="1" fill="#6a70c4"/>
<rect x="102.6" y="227.5" width="1" height="1" fill="#6a70c4"/>
<rect x="120.8" y="251.5" width="1" height="1" fill="#3a40b8"/>
<rect x="135.3" y="221.4" width="1" height="1" fill="#b8bada"/>
<rect x="111.7" y="240.8" width="1" height="1" fill="#3a40b8"/>
<rect x="99.2" y="242.4" width="1" height="1" fill="#6a70c4"/>
<rect x="99.5" y="243.6" width="1" height="1" fill="#b8bada"/>
<rect x="106.8" y="254.5" width="1" height="1" fill="#2630b0"/>
<rect x="103.9" y="243.4" width="1" height="1" fill="#b8bada"/>
<rect x="116.2" y="253.3" width="1" height="1" fill="#a0a4d4"/>
<rect x="109.5" y="232.5" width="1" height="1" fill="#6a70c4"/>
<rect x="97.3" y="237.0" width="1" height="1" fill="#2630b0"/>
<rect x="103.2" y="241.1" width="1" height="1" fill="#6a70c4"/>
<rect x="109.1" y="236.3" width="1" height="1" fill="#6a70c4"/>
<rect x="112.0" y="256.2" width="1" height="1" fill="#8488cc"/>
<rect x="122.7" y="213.8" width="1" height="1" fill="#a0a4d4"/>
<rect x="108.0" y="243.4" width="1" height="1" fill="#a0a4d4"/>
<rect x="105.0" y="238.1" width="1" height="1" fill="#2630b0"/>
<rect x="109.9" y="254.0" width="1" height="1" fill="#3a40b8"/>
<rect x="123.6" y="240.8" width="1" height="1" fill="#2630b0"/>
<rect x="116.7" y="243.5" width="1" height="1" fill="#3a40b8"/>
<rect x="116.7" y="228.3" width="1" height="1" fill="#b8bada"/>
<rect x="114.7" y="253.2" width="1" height="1" fill="#a0a4d4"/>
<rect x="111.3" y="238.7" width="1" height="1" fill="#3a40b8"/>
<rect x="96.9" y="231.0" width="1" height="1" fill="#6a70c4"/>
<rect x="89.1" y="219.4" width="1" height="1" fill="#b8bada"/>
<rect x="115.9" y="258.8" width="1" height="1" fill="#8488cc"/>
<rect x="126.8" y="245.2" width="1" height="1" fill="#b8bada"/>
<rect x="99.0" y="240.3" width="1" height="1" fill="#b8bada"/>
<rect x="103.1" y="235.4" width="1" height="1" fill="#a0a4d4"/>
<rect x="114.7" y="256.3" width="1" height="1" fill="#2630b0"/>
<rect x="110.0" y="253.4" width="1" height="1" fill="#3a40b8"/>
<rect x="107.5" y="240.9" width="1" height="1" fill="#3a40b8"/>
<rect x="105.6" y="234.4" width="1" height="1" fill="#b8bada"/>
<rect x="106.5" y="239.7" width="1" height="1" fill="#a0a4d4"/>
<rect x="101.6" y="231.0" width="1" height="1" fill="#6a70c4"/>
<rect x="118.7" y="240.7" width="1" height="1" fill="#2630b0"/>
<rect x="121.9" y="249.1" width="1" height="1" fill="#6a70c4"/>
<rect x="115.7" y="250.3" width="1" height="1" fill="#2630b0"/>
<rect x="141.7" y="250.0" width="1" height="1" fill="#5058bc"/>
<rect x="98.7" y="240.6" width="1" height="1" fill="#8488cc"/>
<rect x="99.6" y="232.7" width="1" height="1" fill="#3a40b8"/>
<rect x="95.9" y="244.5" width="1" height="1" fill="#b8bada"/>
<rect x="99.4" y="232.3" width="1" height="1" fill="#6a70c4"/>
<rect x="116.2" y="260.9" width="1" height="1" fill="#2630b0"/>
<rect x="81.2" y="237.1" width="1" height="1" fill="#3a40b8"/>
<rect x="114.2" y="256.0" width="1" height="1" fill="#b8bada"/>
<rect x="99.1" y="248.7" width="1" height="1" fill="#3a40b8"/>
<rect x="110.7" y="226.9" width="1" height="1" fill="#2630b0"/>
<rect x="106.9" y="247.8" width="1" height="1" fill="#5058bc"/>
<rect x="111.1" y="247.1" width="1" height="1" fill="#2630b0"/>
<rect x="110.3" y="260.4" width="1" height="1" fill="#3a40b8"/>
<rect x="112.4" y="246.3" width="1" height="1" fill="#b8bada"/>
<rect x="114.5" y="230.6" width="1" height="1" fill="#3a40b8"/>
<rect x="107.7" y="251.5" width="1" height="1" fill="#2630b0"/>
<rect x="105.2" y="246.2" width="1" height="1" fill="#8488cc"/>
<rect x="112.8" y="250.3" width="1" height="1" fill="#8488cc"/>
<rect x="112.5" y="233.6" width="1" height="1" fill="#6a70c4"/>
<rect x="96.9" y="239.1" width="1" height="1" fill="#6a70c4"/>
<rect x="119.3" y="244.8" width="1" height="1" fill="#8488cc"/>
<rect x="129.9" y="248.0" width="1" height="1" fill="#2630b0"/>
<rect x="91.5" y="253.5" width="1" height="1" fill="#b8bada"/>
<rect x="98.2" y="253.1" width="1" height="1" fill="#a0a4d4"/>
<rect x="117.0" y="252.5" width="1" height="1" fill="#a0a4d4"/>
<rect x="128.6" y="227.5" width="1" height="1" fill="#2630b0"/>
<rect x="112.2" y="242.8" width="1" height="1" fill="#5058bc"/>
<rect x="106.9" y="252.4" width="1" height="1" fill="#b8bada"/>
<rect x="124.6" y="254.9" width="1" height="1" fill="#a0a4d4"/>
<rect x="113.9" y="254.6" width="1" height="1" fill="#b8bada"/>
<rect x="104.6" y="251.5" width="1" height="1" fill="#8488cc"/>
<rect x="128.1" y="242.2" width="1" height="1" fill="#b8bada"/>
<rect x="103.2" y="231.0" width="1" height="1" fill="#a0a4d4"/>
<rect x="133.1" y="238.5" width="1" height="1" fill="#8488cc"/>
<rect x="116.5" y="238.8" width="1" height="1" fill="#3a40b8"/>
<rect x="118.3" y="230.9" width="1" height="1" fill="#8488cc"/>
<rect x="116.6" y="253.3" width="1" height="1" fill="#8488cc"/>
<rect x="126.2" y="254.7" width="1" height="1" fill="#a0a4d4"/>
<rect x="124.4" y="250.4" width="1" height="1" fill="#5058bc"/>
<rect x="102.4" y="250.1" width="1" height="1" fill="#a0a4d4"/>
<rect x="130.5" y="219.2" width="1" height="1" fill="#5058bc"/>
<rect x="114.7" y="256.6" width="1" height="1" fill="#8488cc"/>
<rect x="114.0" y="257.8" width="1" height="1" fill="#5058bc"/>
<rect x="108.8" y="239.1" width="1" height="1" fill="#a0a4d4"/>
<rect x="119.7" y="244.6" width="1" height="1" fill="#5058bc"/>
<rect x="96.0" y="247.0" width="1" height="1" fill="#2630b0"/>
<rect x="126.1" y="251.5" width="1" height="1" fill="#3a40b8"/>
<rect x="111.7" y="238.0" width="1" height="1" fill="#6a70c4"/>
<rect x="126.1" y="224.3" width="1" height="1" fill="#6a70c4"/>
<rect x="107.7" y="258.5" width="1" height="1" fill="#3a40b8"/>
<rect x="102.1" y="261.2" width="1" height="1" fill="#6a70c4"/>
<rect x="93.9" y="240.8" width="1" height="1" fill="#b8bada"/>
<rect x="93.2" y="221.5" width="1" height="1" fill="#3a40b8"/>
<rect x="104.3" y="240.1" width="1" height="1" fill="#2630b0"/>
<rect x="89.8" y="254.5" width="1" height="1" fill="#8488cc"/>
<rect x="107.6" y="230.3" width="1" height="1" fill="#a0a4d4"/>
<rect x="98.9" y="256.8" width="1" height="1" fill="#5058bc"/>
<rect x="111.9" y="246.2" width="1" height="1" fill="#6a70c4"/>
<rect x="105.5" y="236.9" width="1" height="1" fill="#5058bc"/>
<rect x="87.8" y="238.1" width="1" height="1" fill="#5058bc"/>
<rect x="113.1" y="243.1" width="1" height="1" fill="#a0a4d4"/>
<rect x="117.6" y="245.8" width="1" height="1" fill="#2630b0"/>
<rect x="90.1" y="233.4" width="1" height="1" fill="#3a40b8"/>
<rect x="103.5" y="243.4" width="1" height="1" fill="#8488cc"/>
<rect x="102.4" y="223.7" width="1" height="1" fill="#2630b0"/>
<rect x="97.8" y="255.9" width="1" height="1" fill="#5058bc"/>
<rect x="120.3" y="235.2" width="1" height="1" fill="#8488cc"/>
<rect x="109.6" y="248.2" width="1" height="1" fill="#8488cc"/>
<rect x="118.7" y="243.1" width="1" height="1" fill="#b8bada"/>
<rect x="106.7" y="255.8" width="1" height="1" fill="#3a40b8"/>
<rect x="122.5" y="245.3" width="1" height="1" fill="#5058bc"/>
<rect x="84.3" y="247.2" width="1" height="1" fill="#3a40b8"/>
<rect x="105.4" y="244.2" width="1" height="1" fill="#3a40b8"/>
<rect x="102.4" y="252.6" width="1" height="1" fill="#2630b0"/>
<rect x="129.8" y="243.3" width="1" height="1" fill="#5058bc"/>
<rect x="123.5" y="251.2" width="1" height="1" fill="#6a70c4"/>
<rect x="113.2" y="234.1" width="1" height="1" fill="#a0a4d4"/>
<rect x="97.9" y="245.6" width="1" height="1" fill="#6a70c4"/>
<rect x="112.3" y="240.9" width="1" height="1" fill="#2630b0"/>
<rect x="120.5" y="247.7" width="1" height="1" fill="#2630b0"/>
<rect x="137.1" y="238.1" width="1" height="1" fill="#6a70c4"/>
<rect x="116.5" y="253.8" width="1" height="1" fill="#8488cc"/>
<rect x="110.2" y="250.7" width="1" height="1" fill="#a0a4d4"/>
<rect x="106.3" y="254.6" width="1" height="1" fill="#3a40b8"/>
<rect x="109.3" y="243.6" width="1" height="1" fill="#3a40b8"/>
<rect x="103.3" y="245.1" width="1" height="1" fill="#3a40b8"/>
<rect x="127.2" y="259.2" width="1" height="1" fill="#a0a4d4"/>
<rect x="125.3" y="251.0" width="1" height="1" fill="#3a40b8"/>
<rect x="105.8" y="250.6" width="1" height="1" fill="#2630b0"/>
<rect x="108.7" y="247.9" width="1" height="1" fill="#a0a4d4"/>
<rect x="121.8" y="259.5" width="1" height="1" fill="#2630b0"/>
<rect x="79.7" y="234.7" width="1" height="1" fill="#5058bc"/>
<rect x="85.1" y="248.9" width="1" height="1" fill="#b8bada"/>
<rect x="111.2" y="223.9" width="1" height="1" fill="#8488cc"/>
<rect x="115.2" y="256.1" width="1" height="1" fill="#5058bc"/>
<rect x="116.2" y="240.7" width="1" height="1" fill="#a0a4d4"/>
<rect x="121.0" y="241.5" width="1" height="1" fill="#3a40b8"/>
<rect x="124.5" y="239.7" width="1" height="1" fill="#5058bc"/>
<rect x="120.5" y="248.7" width="1" height="1" fill="#b8bada"/>
<rect x="130.3" y="241.2" width="1" height="1" fill="#3a40b8"/>
<rect x="118.6" y="255.2" width="1" height="1" fill="#8488cc"/>
<rect x="115.1" y="238.3" width="1" height="1" fill="#8488cc"/>
<rect x="86.1" y="242.1" width="1" height="1" fill="#8488cc"/>
<rect x="108.6" y="225.9" width="1" height="1" fill="#5058bc"/>
<rect x="98.8" y="224.8" width="1" height="1" fill="#a0a4d4"/>
<rect x="110.1" y="248.4" width="1" height="1" fill="#8488cc"/>
<rect x="115.2" y="248.3" width="1" height="1" fill="#b8bada"/>
<rect x="89.8" y="254.6" width="1" height="1" fill="#6a70c4"/>
<rect x="102.1" y="252.4" width="1" height="1" fill="#3a40b8"/>
<rect x="111.8" y="259.3" width="1" height="1" fill="#3a40b8"/>
<rect x="121.8" y="256.9" width="1" height="1" fill="#8488cc"/>
<rect x="77.7" y="240.9" width="1" height="1" fill="#b8bada"/>
<rect x="91.1" y="230.3" width="1" height="1" fill="#6a70c4"/>
<rect x="95.5" y="253.3" width="1" height="1" fill="#5058bc"/>
<rect x="126.4" y="234.3" width="1" height="1" fill="#2630b0"/>
<rect x="102.9" y="236.3" width="1" height="1" fill="#5058bc"/>
<rect x="101.0" y="241.3" width="1" height="1" fill="#a0a4d4"/>
<rect x="99.5" y="225.5" width="1" height="1" fill="#6a70c4"/>
<rect x="108.0" y="241.5" width="1" height="1" fill="#6a70c4"/>
<rect x="107.3" y="249.1" width="1" height="1" fill="#b8bada"/>
<rect x="95.7" y="236.0" width="1" height="1" fill="#a0a4d4"/>
<rect x="119.7" y="256.7" width="1" height="1" fill="#a0a4d4"/>
<rect x="117.0" y="248.7" width="1" height="1" fill="#b8bada"/>
<rect x="104.3" y="244.8" width="1" height="1" fill="#2630b0"/>
<rect x="101.6" y="254.4" width="1" height="1" fill="#3a40b8"/>
<rect x="117.7" y="220.2" width="1" height="1" fill="#b8bada"/>
<rect x="106.1" y="262.0" width="1" height="1" fill="#2630b0"/>
<rect x="113.2" y="258.3" width="1" height="1" fill="#b8bada"/>
<rect x="105.9" y="250.9" width="1" height="1" fill="#2630b0"/>
<rect x="105.2" y="246.7" width="1" height="1" fill="#a0a4d4"/>
<rect x="107.8" y="243.3" width="1" height="1" fill="#6a70c4"/>
<rect x="96.4" y="247.1" width="1" height="1" fill="#5058bc"/>
<rect x="121.1" y="247.0" width="1" height="1" fill="#5058bc"/>
<rect x="109.1" y="250.4" width="1" height="1" fill="#8488cc"/>
<rect x="129.9" y="234.1" width="1" height="1" fill="#8488cc"/>
<rect x="116.9" y="251.5" width="1" height="1" fill="#a0a4d4"/>
<rect x="121.8" y="252.0" width="1" height="1" fill="#2630b0"/>
<rect x="102.2" y="244.3" width="1" height="1" fill="#8488cc"/>
<rect x="87.8" y="233.5" width="1" height="1" fill="#2630b0"/>
<rect x="110.2" y="228.7" width="1" height="1" fill="#6a70c4"/>
<rect x="116.1" y="251.6" width="1" height="1" fill="#2630b0"/>
<rect x="117.1" y="255.8" width="1" height="1" fill="#6a70c4"/>
<rect x="115.9" y="227.4" width="1" height="1" fill="#a0a4d4"/>
<rect x="92.8" y="231.7" width="1" height="1" fill="#b8bada"/>
<rect x="111.7" y="240.2" width="1" height="1" fill="#3a40b8"/>
<rect x="108.8" y="222.6" width="1" height="1" fill="#b8bada"/>
<rect x="104.9" y="255.5" width="1" height="1" fill="#6a70c4"/>
<rect x="116.7" y="257.0" width="1" height="1" fill="#a0a4d4"/>
<rect x="111.3" y="234.8" width="1" height="1" fill="#b8bada"/>
<rect x="103.3" y="254.4" width="1" height="1" fill="#6a70c4"/>
<rect x="104.5" y="243.1" width="1" height="1" fill="#3a40b8"/>
<rect x="117.6" y="248.2" width="1" height="1" fill="#b8bada"/>
<rect x="99.8" y="228.4" width="1" height="1" fill="#3a40b8"/>
<rect x="97.5" y="251.4" width="1" height="1" fill="#3a40b8"/>
<rect x="106.4" y="245.9" width="1" height="1" fill="#2630b0"/>
<rect x="106.9" y="239.8" width="1" height="1" fill="#3a40b8"/>
<rect x="97.2" y="236.4" width="1" height="1" fill="#8488cc"/>
<rect x="108.6" y="244.1" width="1" height="1" fill="#3a40b8"/>
<rect x="115.1" y="235.3" width="1" height="1" fill="#3a40b8"/>
<rect x="92.7" y="246.9" width="1" height="1" fill="#6a70c4"/>
<rect x="117.8" y="261.1" width="1" height="1" fill="#b8bada"/>
<rect x="94.1" y="245.0" width="1" height="1" fill="#a0a4d4"/>
<rect x="114.4" y="249.0" width="1" height="1" fill="#3a40b8"/>
<rect x="113.7" y="242.0" width="1" height="1" fill="#2630b0"/>
<rect x="103.5" y="245.4" width="1" height="1" fill="#5058bc"/>
<rect x="117.3" y="249.4" width="1" height="1" fill="#b8bada"/>
<rect x="105.7" y="225.8" width="1" height="1" fill="#6a70c4"/>
<rect x="112.0" y="243.9" width="1" height="1" fill="#b8bada"/>
<rect x="100.7" y="253.3" width="1" height="1" fill="#a0a4d4"/>
<rect x="131.8" y="237.7" width="1" height="1" fill="#8488cc"/>
<rect x="107.3" y="238.5" width="1" height="1" fill="#8488cc"/>
<rect x="101.2" y="251.3" width="1" height="1" fill="#2630b0"/>
<rect x="86.2" y="237.3" width="1" height="1" fill="#a0a4d4"/>
<rect x="129.9" y="237.1" width="1" height="1" fill="#2630b0"/>
<rect x="116.5" y="248.3" width="1" height="1" fill="#2630b0"/>
<rect x="107.1" y="250.0" width="1" height="1" fill="#8488cc"/>
<rect x="103.2" y="230.4" width="1" height="1" fill="#5058bc"/>
<rect x="111.8" y="249.1" width="1" height="1" fill="#2630b0"/>
<rect x="91.0" y="251.0" width="1" height="1" fill="#3a40b8"/>
<rect x="106.1" y="225.3" width="1" height="1" fill="#2630b0"/>
<rect x="112.9" y="254.7" width="1" height="1" fill="#6a70c4"/>
<rect x="111.6" y="226.7" width="1" height="1" fill="#5058bc"/>
<rect x="122.2" y="248.0" width="1" height="1" fill="#2630b0"/>
<rect x="89.3" y="248.0" width="1" height="1" fill="#5058bc"/>
<rect x="113.2" y="242.9" width="1" height="1" fill="#5058bc"/>
<rect x="86.0" y="228.0" width="1" height="1" fill="#2630b0"/>
<rect x="116.5" y="250.9" width="1" height="1" fill="#6a70c4"/>
<rect x="123.0" y="251.2" width="1" height="1" fill="#5058bc"/>
<rect x="118.5" y="234.7" width="1" height="1" fill="#2630b0"/>
<rect x="113.4" y="234.1" width="1" height="1" fill="#2630b0"/>
<rect x="91.8" y="233.0" width="1" height="1" fill="#2630b0"/>
<rect x="99.5" y="250.4" width="1" height="1" fill="#8488cc"/>
<rect x="105.0" y="251.2" width="1" height="1" fill="#2630b0"/>
<rect x="110.9" y="235.2" width="1" height="1" fill="#5058bc"/>
<rect x="98.3" y="241.3" width="1" height="1" fill="#8488cc"/>
<rect x="98.7" y="242.0" width="1" height="1" fill="#6a70c4"/>
<rect x="104.6" y="235.7" width="1" height="1" fill="#6a70c4"/>
<rect x="110.9" y="239.9" width="1" height="1" fill="#8488cc"/>
<rect x="118.5" y="247.4" width="1" height="1" fill="#5058bc"/>
<rect x="114.1" y="251.3" width="1" height="1" fill="#b8bada"/>
<rect x="107.1" y="244.8" width="1" height="1" fill="#2630b0"/>
<rect x="101.4" y="253.7" width="1" height="1" fill="#8488cc"/>
<rect x="115.7" y="254.3" width="1" height="1" fill="#6a70c4"/>
<rect x="112.6" y="230.8" width="1" height="1" fill="#6a70c4"/>
<rect x="118.7" y="250.7" width="1" height="1" fill="#5058bc"/>
<rect x="89.0" y="244.1" width="1" height="1" fill="#b8bada"/>
<rect x="102.8" y="226.2" width="1" height="1" fill="#3a40b8"/>
<rect x="103.5" y="233.6" width="1" height="1" fill="#8488cc"/>
<rect x="126.9" y="231.9" width="1" height="1" fill="#8488cc"/>
<rect x="119.0" y="224.8" width="1" height="1" fill="#2630b0"/>
<rect x="120.1" y="226.7" width="1" height="1" fill="#8488cc"/>
<rect x="88.9" y="230.6" width="1" height="1" fill="#2630b0"/>
<rect x="104.4" y="241.1" width="1" height="1" fill="#2630b0"/>
<rect x="115.9" y="242.4" width="1" height="1" fill="#8488cc"/>
<rect x="109.8" y="239.1" width="1" height="1" fill="#a0a4d4"/>
<rect x="117.6" y="244.8" width="1" height="1" fill="#a0a4d4"/>
<rect x="96.6" y="256.2" width="1" height="1" fill="#b8bada"/>
<rect x="108.7" y="249.0" width="1" height="1" fill="#a0a4d4"/>
<rect x="83.6" y="250.6" width="1" height="1" fill="#8488cc"/>
<rect x="122.3" y="239.1" width="1" height="1" fill="#2630b0"/>
<rect x="101.3" y="247.5" width="1" height="1" fill="#3a40b8"/>
<rect x="128.4" y="258.5" width="1" height="1" fill="#6a70c4"/>
<rect x="118.3" y="252.9" width="1" height="1" fill="#5058bc"/>
<rect x="96.6" y="240.3" width="1" height="1" fill="#3a40b8"/>
<rect x="103.5" y="254.3" width="1" height="1" fill="#6a70c4"/>
<rect x="103.3" y="243.6" width="1" height="1" fill="#5058bc"/>
<rect x="134.2" y="235.2" width="1" height="1" fill="#b8bada"/>
<rect x="113.3" y="237.5" width="1" height="1" fill="#3a40b8"/>
<rect x="91.6" y="246.4" width="1" height="1" fill="#a0a4d4"/>
<rect x="119.3" y="244.0" width="1" height="1" fill="#2630b0"/>
<rect x="137.6" y="242.9" width="1" height="1" fill="#2630b0"/>
<rect x="106.5" y="240.3" width="1" height="1" fill="#2630b0"/>
<rect x="115.0" y="221.6" width="1" height="1" fill="#5058bc"/>
<rect x="97.5" y="241.0" width="1" height="1" fill="#5058bc"/>
<rect x="127.4" y="241.4" width="1" height="1" fill="#6a70c4"/>
<rect x="116.8" y="251.9" width="1" height="1" fill="#8488cc"/>
<rect x="111.8" y="217.1" width="1" height="1" fill="#8488cc"/>
<rect x="104.1" y="236.2" width="1" height="1" fill="#a0a4d4"/>
<rect x="115.2" y="250.9" width="1" height="1" fill="#3a40b8"/>
<rect x="118.1" y="260.6" width="1" height="1" fill="#2630b0"/>
<rect x="134.3" y="236.8" width="1" height="1" fill="#b8bada"/>
<rect x="95.2" y="253.1" width="1" height="1" fill="#5058bc"/>
<rect x="105.3" y="242.7" width="1" height="1" fill="#a0a4d4"/>
<rect x="126.8" y="237.3" width="1" height="1" fill="#2630b0"/>
<rect x="113.3" y="245.6" width="1" height="1" fill="#a0a4d4"/>
<rect x="109.4" y="241.1" width="1" height="1" fill="#8488cc"/>
<rect x="121.9" y="243.8" width="1" height="1" fill="#a0a4d4"/>
<rect x="112.5" y="253.6" width="1" height="1" fill="#6a70c4"/>
<rect x="98.3" y="256.1" width="1" height="1" fill="#2630b0"/>
<rect x="110.2" y="233.8" width="1" height="1" fill="#a0a4d4"/>
<rect x="113.6" y="232.9" width="1" height="1" fill="#3a40b8"/>
<rect x="116.7" y="254.1" width="1" height="1" fill="#b8bada"/>
<rect x="104.1" y="242.9" width="1" height="1" fill="#2630b0"/>
<rect x="135.1" y="242.5" width="1" height="1" fill="#b8bada"/>
<rect x="110.6" y="252.2" width="1" height="1" fill="#6a70c4"/>
<rect x="116.0" y="231.2" width="1" height="1" fill="#3a40b8"/>
<rect x="108.4" y="242.5" width="1" height="1" fill="#b8bada"/>
<rect x="107.5" y="238.0" width="1" height="1" fill="#5058bc"/>
<rect x="101.3" y="237.8" width="1" height="1" fill="#5058bc"/>
<rect x="102.6" y="236.7" width="1" height="1" fill="#2630b0"/>
<rect x="117.9" y="233.2" width="1" height="1" fill="#2630b0"/>
<rect x="101.7" y="231.4" width="1" height="1" fill="#b8bada"/>
<rect x="132.6" y="255.6" width="1" height="1" fill="#b8bada"/>
<rect x="122.1" y="243.7" width="1" height="1" fill="#2630b0"/>
<rect x="96.8" y="235.6" width="1" height="1" fill="#3a40b8"/>
<rect x="119.7" y="233.0" width="1" height="1" fill="#5058bc"/>
<rect x="124.7" y="250.5" width="1" height="1" fill="#5058bc"/>
<rect x="85.7" y="221.9" width="1" height="1" fill="#8488cc"/>
<rect x="110.4" y="247.3" width="1" height="1" fill="#8488cc"/>
<rect x="122.2" y="243.8" width="1" height="1" fill="#a0a4d4"/>
<rect x="108.0" y="245.5" width="1" height="1" fill="#5058bc"/>
<rect x="112.9" y="242.6" width="1" height="1" fill="#8488cc"/>
<rect x="102.1" y="249.9" width="1" height="1" fill="#a0a4d4"/>
<rect x="120.1" y="234.3" width="1" height="1" fill="#a0a4d4"/>
<rect x="104.7" y="248.0" width="1" height="1" fill="#8488cc"/>
<rect x="98.6" y="243.9" width="1" height="1" fill="#2630b0"/>
<rect x="114.1" y="257.3" width="1" height="1" fill="#3a40b8"/>
<rect x="103.1" y="256.5" width="1" height="1" fill="#6a70c4"/>
<rect x="117.0" y="238.9" width="1" height="1" fill="#6a70c4"/>
<rect x="119.1" y="232.5" width="1" height="1" fill="#a0a4d4"/>
<rect x="105.3" y="243.6" width="1" height="1" fill="#5058bc"/>
<rect x="131.7" y="227.7" width="1" height="1" fill="#b8bada"/>
<rect x="111.6" y="227.5" width="1" height="1" fill="#8488cc"/>
<rect x="116.0" y="251.6" width="1" height="1" fill="#6a70c4"/>
<rect x="115.1" y="246.5" width="1" height="1" fill="#a0a4d4"/>
<rect x="127.2" y="256.3" width="1" height="1" fill="#8488cc"/>
<rect x="110.5" y="238.1" width="1" height="1" fill="#8488cc"/>
<rect x="119.0" y="251.9" width="1" height="1" fill="#6a70c4"/>
<rect x="100.3" y="243.9" width="1" height="1" fill="#6a70c4"/>
<rect x="106.1" y="247.3" width="1" height="1" fill="#a0a4d4"/>
<rect x="114.5" y="245.2" width="1" height="1" fill="#3a40b8"/>
<rect x="104.3" y="258.7" width="1" height="1" fill="#5058bc"/>
<rect x="127.4" y="219.9" width="1" height="1" fill="#8488cc"/>
<rect x="133.5" y="243.2" width="1" height="1" fill="#a0a4d4"/>
<rect x="122.2" y="252.3" width="1" height="1" fill="#2630b0"/>
<rect x="95.7" y="246.0" width="1" height="1" fill="#a0a4d4"/>
<rect x="122.2" y="257.0" width="1" height="1" fill="#8488cc"/>
<rect x="90.9" y="234.1" width="1" height="1" fill="#3a40b8"/>
<rect x="131.7" y="253.0" width="1" height="1" fill="#b8bada"/>
<rect x="107.1" y="222.9" width="1" height="1" fill="#6a70c4"/>
<rect x="127.0" y="247.5" width="1" height="1" fill="#2630b0"/>
<rect x="108.8" y="243.7" width="1" height="1" fill="#6a70c4"/>
<rect x="106.9" y="239.6" width="1" height="1" fill="#a0a4d4"/>
<rect x="114.7" y="254.7" width="1" height="1" fill="#a0a4d4"/>
<rect x="111.4" y="230.2" width="1" height="1" fill="#6a70c4"/>
<rect x="87.7" y="242.5" width="1" height="1" fill="#b8bada"/>
<rect x="97.8" y="259.8" width="1" height="1" fill="#5058bc"/>
<rect x="113.5" y="247.3" width="1" height="1" fill="#b8bada"/>
<rect x="105.9" y="242.4" width="1" height="1" fill="#3a40b8"/>
<rect x="124.4" y="234.9" width="1" height="1" fill="#5058bc"/>
<rect x="88.7" y="225.5" width="1" height="1" fill="#5058bc"/>
<rect x="108.7" y="249.1" width="1" height="1" fill="#2630b0"/>
<rect x="111.1" y="246.6" width="1" height="1" fill="#6a70c4"/>
<rect x="99.0" y="239.0" width="1" height="1" fill="#8488cc"/>
<rect x="118.9" y="241.6" width="1" height="1" fill="#b8bada"/>
<rect x="114.0" y="255.3" width="1" height="1" fill="#6a70c4"/>
<rect x="124.9" y="247.3" width="1" height="1" fill="#b8bada"/>
<rect x="100.8" y="243.7" width="1" height="1" fill="#3a40b8"/>
<rect x="111.3" y="261.2" width="1" height="1" fill="#b8bada"/>
<rect x="112.1" y="237.6" width="1" height="1" fill="#5058bc"/>
<rect x="131.9" y="231.9" width="1" height="1" fill="#8488cc"/>
<rect x="88.1" y="245.4" width="1" height="1" fill="#b8bada"/>
<rect x="113.0" y="242.3" width="1" height="1" fill="#5058bc"/>
<rect x="109.1" y="243.8" width="1" height="1" fill="#5058bc"/>
<rect x="125.0" y="228.2" width="1" height="1" fill="#2630b0"/>
<rect x="112.9" y="255.7" width="1" height="1" fill="#8488cc"/>
<rect x="114.4" y="238.2" width="1" height="1" fill="#5058bc"/>
<ellipse cx="109.4" cy="244.5" rx="17.0" ry="19.8" fill="url(#lg0)"/>
<ellipse cx="109.4" cy="244.5" rx="13.6" ry="17.0" fill="url(#lg1)"/>
<ellipse cx="109.4" cy="244.5" rx="10.6" ry="14.2" fill="url(#lg2)"/>
<ellipse cx="109.4" cy="244.5" rx="6.0" ry="9.0" fill="url(#lg3)"/>
<ellipse cx="109.4" cy="244.5" rx="2.2" ry="3.4" fill="url(#lg4)"/>
<rect x="95.0" y="240.8" width="1" height="1" fill="#2434c8"/>
<rect x="92.5" y="252.1" width="1" height="1" fill="#2434c8"/>
<rect x="113.2" y="228.2" width="1" height="1" fill="#2434c8"/>
<rect x="93.5" y="237.9" width="1" height="1" fill="#2434c8"/>
<rect x="105.3" y="223.1" width="1" height="1" fill="#2434c8"/>
<rect x="104.1" y="227.6" width="1" height="1" fill="#2434c8"/>
<rect x="124.3" y="255.5" width="1" height="1" fill="#2434c8"/>
<rect x="96.7" y="253.1" width="1" height="1" fill="#2434c8"/>
<rect x="123.0" y="259.5" width="1" height="1" fill="#2434c8"/>
<rect x="120.2" y="227.0" width="1" height="1" fill="#2434c8"/>
<rect x="94.8" y="258.6" width="1" height="1" fill="#2434c8"/>
<rect x="123.8" y="238.1" width="1" height="1" fill="#2434c8"/>
<rect x="124.4" y="245.0" width="1" height="1" fill="#2434c8"/>
<rect x="125.1" y="255.1" width="1" height="1" fill="#2434c8"/>
<rect x="96.3" y="232.5" width="1" height="1" fill="#2434c8"/>
<rect x="122.5" y="257.9" width="1" height="1" fill="#2434c8"/>
<rect x="119.2" y="257.8" width="1" height="1" fill="#2434c8"/>
<rect x="94.9" y="233.2" width="1" height="1" fill="#2434c8"/>
<rect x="115.1" y="224.3" width="1" height="1" fill="#2434c8"/>
<rect x="119.7" y="258.5" width="1" height="1" fill="#2434c8"/>
<rect x="119.7" y="259.8" width="1" height="1" fill="#2434c8"/>
<rect x="127.5" y="248.3" width="1" height="1" fill="#2434c8"/>
<rect x="101.8" y="225.3" width="1" height="1" fill="#2434c8"/>
<rect x="90.8" y="246.1" width="1" height="1" fill="#2434c8"/>
<rect x="118.7" y="226.2" width="1" height="1" fill="#2434c8"/>
<rect x="114.7" y="227.6" width="1" height="1" fill="#2434c8"/>
<rect x="101.1" y="258.6" width="1" height="1" fill="#2434c8"/>
<rect x="110.9" y="225.2" width="1" height="1" fill="#2434c8"/>
<rect x="125.1" y="242.9" width="1" height="1" fill="#2434c8"/>
<rect x="92.7" y="253.5" width="1" height="1" fill="#2434c8"/>
<rect x="127.0" y="240.4" width="1" height="1" fill="#2434c8"/>
<rect x="123.2" y="229.9" width="1" height="1" fill="#2434c8"/>
<rect x="125.6" y="252.5" width="1" height="1" fill="#2434c8"/>
<rect x="125.4" y="238.8" width="1" height="1" fill="#2434c8"/>
<rect x="119.8" y="260.3" width="1" height="1" fill="#2434c8"/>
<rect x="124.6" y="252.2" width="1" height="1" fill="#2434c8"/>
<rect x="123.7" y="253.7" width="1" height="1" fill="#2434c8"/>
<rect x="116.8" y="225.6" width="1" height="1" fill="#2434c8"/>
<rect x="119.4" y="229.2" width="1" height="1" fill="#2434c8"/>
<rect x="95.7" y="250.7" width="1" height="1" fill="#2434c8"/>
<rect x="113.5" y="225.2" width="1" height="1" fill="#2434c8"/>
<rect x="96.7" y="254.1" width="1" height="1" fill="#2434c8"/>
<rect x="95.2" y="248.9" width="1" height="1" fill="#2434c8"/>
<rect x="120.2" y="256.3" width="1" height="1" fill="#2434c8"/>
<rect x="96.0" y="252.5" width="1" height="1" fill="#2434c8"/>
<rect x="117.5" y="226.7" width="1" height="1" fill="#2434c8"/>
<rect x="120.8" y="229.8" width="1" height="1" fill="#2434c8"/>
<rect x="117.9" y="259.9" width="1" height="1" fill="#2434c8"/>
<rect x="118.5" y="227.6" width="1" height="1" fill="#2434c8"/>
<rect x="98.9" y="228.4" width="1" height="1" fill="#2434c8"/>
<rect x="124.1" y="249.8" width="1" height="1" fill="#2434c8"/>
<rect x="92.7" y="253.4" width="1" height="1" fill="#2434c8"/>
<rect x="125.5" y="237.5" width="1" height="1" fill="#2434c8"/>
<rect x="108.5" y="261.5" width="1" height="1" fill="#2434c8"/>
<rect x="94.2" y="237.6" width="1" height="1" fill="#2434c8"/>
<rect x="123.4" y="236.9" width="1" height="1" fill="#2434c8"/>
<rect x="113.5" y="260.7" width="1" height="1" fill="#2434c8"/>
<rect x="127.3" y="248.3" width="1" height="1" fill="#2434c8"/>
<rect x="119.9" y="231.7" width="1" height="1" fill="#2434c8"/>
<rect x="126.4" y="246.4" width="1" height="1" fill="#2434c8"/>
<rect x="124.6" y="233.5" width="1" height="1" fill="#2434c8"/>
<rect x="101.3" y="225.1" width="1" height="1" fill="#2434c8"/>
<rect x="95.8" y="235.5" width="1" height="1" fill="#2434c8"/>
<rect x="99.8" y="229.8" width="1" height="1" fill="#2434c8"/>
<rect x="120.5" y="255.6" width="1" height="1" fill="#2434c8"/>
<rect x="97.4" y="232.9" width="1" height="1" fill="#2434c8"/>
<rect x="124.0" y="256.8" width="1" height="1" fill="#2434c8"/>
<rect x="120.6" y="260.7" width="1" height="1" fill="#2434c8"/>
<rect x="126.0" y="235.8" width="1" height="1" fill="#2434c8"/>
<rect x="119.0" y="225.5" width="1" height="1" fill="#2434c8"/>
<rect x="94.5" y="231.3" width="1" height="1" fill="#2434c8"/>
<rect x="97.1" y="230.6" width="1" height="1" fill="#2434c8"/>
<rect x="102.2" y="261.4" width="1" height="1" fill="#2434c8"/>
<rect x="95.3" y="236.8" width="1" height="1" fill="#2434c8"/>
<rect x="97.8" y="227.8" width="1" height="1" fill="#2434c8"/>
<rect x="106.5" y="226.8" width="1" height="1" fill="#2434c8"/>
<rect x="125.3" y="247.8" width="1" height="1" fill="#2434c8"/>
<rect x="92.6" y="253.1" width="1" height="1" fill="#2434c8"/>
<rect x="93.3" y="238.8" width="1" height="1" fill="#2434c8"/>
<rect x="96.0" y="232.3" width="1" height="1" fill="#2434c8"/>
<rect x="102.0" y="226.7" width="1" height="1" fill="#2434c8"/>
<rect x="94.7" y="238.6" width="1" height="1" fill="#2434c8"/>
<rect x="121.2" y="257.9" width="1" height="1" fill="#2434c8"/>
<rect x="123.6" y="230.2" width="1" height="1" fill="#2434c8"/>
<rect x="93.0" y="242.3" width="1" height="1" fill="#2434c8"/>
<rect x="122.7" y="253.7" width="1" height="1" fill="#2434c8"/>
<rect x="106.6" y="262.1" width="1" height="1" fill="#2434c8"/>
<rect x="114.6" y="260.7" width="1" height="1" fill="#2434c8"/>
<rect x="94.3" y="241.9" width="1" height="1" fill="#2434c8"/>
<rect x="98.6" y="228.9" width="1" height="1" fill="#2434c8"/>
<rect x="97.6" y="230.8" width="1" height="1" fill="#2434c8"/>
<rect x="97.4" y="232.5" width="1" height="1" fill="#2434c8"/>
<rect x="92.2" y="249.1" width="1" height="1" fill="#2434c8"/>
<rect x="93.1" y="233.2" width="1" height="1" fill="#2434c8"/>
<rect x="96.8" y="231.3" width="1" height="1" fill="#2434c8"/>
<rect x="111.2" y="226.2" width="1" height="1" fill="#2434c8"/>
<rect x="98.0" y="258.2" width="1" height="1" fill="#2434c8"/>
<rect x="107.7" y="223.9" width="1" height="1" fill="#2434c8"/>
<rect x="126.0" y="242.3" width="1" height="1" fill="#2434c8"/>
<rect x="126.7" y="243.9" width="1" height="1" fill="#2434c8"/>
<rect x="98.3" y="256.0" width="1" height="1" fill="#2434c8"/>
<rect x="126.5" y="246.7" width="1" height="1" fill="#2434c8"/>
<rect x="106.0" y="224.8" width="1" height="1" fill="#2434c8"/>
<rect x="112.8" y="225.7" width="1" height="1" fill="#2434c8"/>
<rect x="108.5" y="224.5" width="1" height="1" fill="#2434c8"/>
<rect x="98.1" y="229.7" width="1" height="1" fill="#2434c8"/>
<rect x="100.9" y="227.3" width="1" height="1" fill="#2434c8"/>
<rect x="124.2" y="255.5" width="1" height="1" fill="#2434c8"/>
<rect x="104.7" y="226.2" width="1" height="1" fill="#2434c8"/>
<rect x="125.8" y="240.9" width="1" height="1" fill="#2434c8"/>
<rect x="117.8" y="261.4" width="1" height="1" fill="#2434c8"/>
<rect x="99.8" y="258.3" width="1" height="1" fill="#2434c8"/>
<rect x="121.1" y="233.0" width="1" height="1" fill="#2434c8"/>
<rect x="105.8" y="227.3" width="1" height="1" fill="#2434c8"/>
<rect x="90.5" y="242.1" width="1" height="1" fill="#2434c8"/>
<rect x="125.0" y="255.8" width="1" height="1" fill="#2434c8"/>
<rect x="128.3" y="245.3" width="1" height="1" fill="#2434c8"/>
<rect x="123.3" y="234.0" width="1" height="1" fill="#2434c8"/>
<rect x="98.7" y="229.8" width="1" height="1" fill="#2434c8"/>
<rect x="117.7" y="260.5" width="1" height="1" fill="#2434c8"/>
<rect x="92.2" y="252.3" width="1" height="1" fill="#2434c8"/>
<rect x="122.2" y="257.5" width="1" height="1" fill="#2434c8"/>
<rect x="92.7" y="248.0" width="1" height="1" fill="#2434c8"/>
<rect x="113.9" y="225.2" width="1" height="1" fill="#2434c8"/>
<rect x="96.6" y="233.9" width="1" height="1" fill="#2434c8"/>
<rect x="91.8" y="238.2" width="1" height="1" fill="#2434c8"/>
<rect x="126.1" y="250.3" width="1" height="1" fill="#2434c8"/>
<rect x="93.7" y="245.9" width="1" height="1" fill="#2434c8"/>
<rect x="117.8" y="259.7" width="1" height="1" fill="#2434c8"/>
<rect x="94.3" y="251.8" width="1" height="1" fill="#2434c8"/>
<rect x="96.8" y="233.6" width="1" height="1" fill="#2434c8"/>
<rect x="97.3" y="231.2" width="1" height="1" fill="#2434c8"/>
<rect x="114.5" y="224.2" width="1" height="1" fill="#2434c8"/>
<rect x="94.1" y="239.1" width="1" height="1" fill="#2434c8"/>
<rect x="93.2" y="252.4" width="1" height="1" fill="#2434c8"/>
<rect x="94.3" y="251.7" width="1" height="1" fill="#2434c8"/>
<rect x="94.5" y="235.3" width="1" height="1" fill="#2434c8"/>
<rect x="93.1" y="238.6" width="1" height="1" fill="#2434c8"/>
<rect x="126.4" y="238.1" width="1" height="1" fill="#2434c8"/>
<rect x="125.3" y="256.6" width="1" height="1" fill="#2434c8"/>
<rect x="124.0" y="246.2" width="1" height="1" fill="#2434c8"/>
<rect x="116.0" y="227.9" width="1" height="1" fill="#2434c8"/>
<rect x="124.4" y="247.8" width="1" height="1" fill="#2434c8"/>
<rect x="91.1" y="245.1" width="1" height="1" fill="#2434c8"/>
<rect x="124.5" y="246.7" width="1" height="1" fill="#2434c8"/>
<rect x="124.0" y="245.9" width="1" height="1" fill="#2434c8"/>
<rect x="102.8" y="262.3" width="1" height="1" fill="#2434c8"/>
<rect x="126.5" y="240.5" width="1" height="1" fill="#2434c8"/>
<rect x="119.9" y="228.7" width="1" height="1" fill="#2434c8"/>
<rect x="124.2" y="233.6" width="1" height="1" fill="#2434c8"/>
<rect x="94.6" y="246.7" width="1" height="1" fill="#2434c8"/>
<rect x="124.2" y="235.6" width="1" height="1" fill="#2434c8"/>
<rect x="114.7" y="227.3" width="1" height="1" fill="#2434c8"/>
<rect x="96.7" y="235.4" width="1" height="1" fill="#2434c8"/>
<rect x="110.2" y="262.3" width="1" height="1" fill="#2434c8"/>
<rect x="91.8" y="243.8" width="1" height="1" fill="#2434c8"/>
<rect x="94.1" y="233.8" width="1" height="1" fill="#2434c8"/>
<rect x="125.4" y="244.0" width="1" height="1" fill="#2434c8"/>
<rect x="125.9" y="244.1" width="1" height="1" fill="#2434c8"/>
<rect x="94.2" y="243.4" width="1" height="1" fill="#2434c8"/>
<rect x="124.4" y="254.8" width="1" height="1" fill="#2434c8"/>
<rect x="121.1" y="254.8" width="1" height="1" fill="#2434c8"/>
<rect x="124.0" y="254.5" width="1" height="1" fill="#2434c8"/>
<rect x="114.6" y="261.7" width="1" height="1" fill="#2434c8"/>
<rect x="111.2" y="225.4" width="1" height="1" fill="#2434c8"/>
<rect x="120.0" y="260.8" width="1" height="1" fill="#2434c8"/>
<rect x="126.7" y="243.8" width="1" height="1" fill="#2434c8"/>
<rect x="93.5" y="251.2" width="1" height="1" fill="#2434c8"/>
<rect x="104.0" y="224.1" width="1" height="1" fill="#2434c8"/>
<rect x="112.9" y="226.8" width="1" height="1" fill="#2434c8"/>
<rect x="112.2" y="227.4" width="1" height="1" fill="#2434c8"/>
<rect x="121.0" y="258.6" width="1" height="1" fill="#2434c8"/>
<rect x="92.8" y="253.1" width="1" height="1" fill="#2434c8"/>
<rect x="124.9" y="238.0" width="1" height="1" fill="#2434c8"/>
<rect x="111.0" y="227.9" width="1" height="1" fill="#3070e8"/>
<rect x="99.7" y="253.4" width="1" height="1" fill="#3070e8"/>
<rect x="101.3" y="228.8" width="1" height="1" fill="#3070e8"/>
<rect x="104.6" y="229.8" width="1" height="1" fill="#3070e8"/>
<rect x="96.7" y="242.0" width="1" height="1" fill="#3070e8"/>
<rect x="98.2" y="255.9" width="1" height="1" fill="#3070e8"/>
<rect x="122.7" y="245.2" width="1" height="1" fill="#3070e8"/>
<rect x="97.3" y="243.4" width="1" height="1" fill="#3070e8"/>
<rect x="108.0" y="229.0" width="1" height="1" fill="#3070e8"/>
<rect x="99.2" y="253.4" width="1" height="1" fill="#3070e8"/>
<rect x="98.6" y="235.1" width="1" height="1" fill="#3070e8"/>
<rect x="104.1" y="229.5" width="1" height="1" fill="#3070e8"/>
<rect x="112.2" y="227.9" width="1" height="1" fill="#3070e8"/>
<rect x="120.0" y="254.7" width="1" height="1" fill="#3070e8"/>
<rect x="109.2" y="260.3" width="1" height="1" fill="#3070e8"/>
<rect x="122.0" y="239.2" width="1" height="1" fill="#3070e8"/>
<rect x="108.6" y="229.4" width="1" height="1" fill="#3070e8"/>
<rect x="101.2" y="233.6" width="1" height="1" fill="#3070e8"/>
<rect x="111.5" y="259.3" width="1" height="1" fill="#3070e8"/>
<rect x="124.1" y="247.4" width="1" height="1" fill="#3070e8"/>
<rect x="122.0" y="240.9" width="1" height="1" fill="#3070e8"/>
<rect x="123.6" y="245.9" width="1" height="1" fill="#3070e8"/>
<rect x="103.3" y="232.0" width="1" height="1" fill="#3070e8"/>
<rect x="110.6" y="229.8" width="1" height="1" fill="#3070e8"/>
<rect x="110.7" y="229.1" width="1" height="1" fill="#3070e8"/>
<rect x="94.9" y="243.6" width="1" height="1" fill="#3070e8"/>
<rect x="98.7" y="234.3" width="1" height="1" fill="#3070e8"/>
<rect x="114.1" y="258.0" width="1" height="1" fill="#3070e8"/>
<rect x="114.5" y="260.1" width="1" height="1" fill="#3070e8"/>
<rect x="98.5" y="235.1" width="1" height="1" fill="#3070e8"/>
<rect x="100.5" y="231.6" width="1" height="1" fill="#3070e8"/>
<rect x="101.4" y="231.6" width="1" height="1" fill="#3070e8"/>
<rect x="116.8" y="230.4" width="1" height="1" fill="#3070e8"/>
<rect x="120.5" y="231.5" width="1" height="1" fill="#3070e8"/>
<rect x="116.2" y="228.6" width="1" height="1" fill="#3070e8"/>
<rect x="104.4" y="228.7" width="1" height="1" fill="#3070e8"/>
<rect x="109.6" y="259.4" width="1" height="1" fill="#3070e8"/>
<rect x="102.8" y="231.3" width="1" height="1" fill="#3070e8"/>
<rect x="99.1" y="233.5" width="1" height="1" fill="#3070e8"/>
<rect x="99.1" y="234.3" width="1" height="1" fill="#3070e8"/>
<rect x="110.2" y="260.3" width="1" height="1" fill="#3070e8"/>
<rect x="104.5" y="227.0" width="1" height="1" fill="#3070e8"/>
<rect x="104.1" y="258.9" width="1" height="1" fill="#3070e8"/>
<rect x="97.0" y="249.8" width="1" height="1" fill="#3070e8"/>
<rect x="99.7" y="231.3" width="1" height="1" fill="#3070e8"/>
<rect x="111.0" y="226.4" width="1" height="1" fill="#3070e8"/>
<rect x="107.1" y="225.8" width="1" height="1" fill="#3070e8"/>
<rect x="96.9" y="249.7" width="1" height="1" fill="#3070e8"/>
<rect x="102.0" y="231.6" width="1" height="1" fill="#3070e8"/>
<rect x="115.7" y="230.1" width="1" height="1" fill="#3070e8"/>
<rect x="96.8" y="238.6" width="1" height="1" fill="#3070e8"/>
<rect x="101.8" y="255.4" width="1" height="1" fill="#3070e8"/>
<rect x="107.0" y="260.9" width="1" height="1" fill="#3070e8"/>
<rect x="120.9" y="240.0" width="1" height="1" fill="#3070e8"/>
<rect x="121.8" y="233.7" width="1" height="1" fill="#3070e8"/>
<rect x="112.6" y="229.3" width="1" height="1" fill="#3070e8"/>
<rect x="124.1" y="246.7" width="1" height="1" fill="#3070e8"/>
<rect x="120.9" y="251.1" width="1" height="1" fill="#3070e8"/>
<rect x="122.4" y="237.9" width="1" height="1" fill="#3070e8"/>
<rect x="115.9" y="228.2" width="1" height="1" fill="#3070e8"/>
<rect x="115.2" y="259.6" width="1" height="1" fill="#3070e8"/>
<rect x="120.1" y="253.6" width="1" height="1" fill="#3070e8"/>
<rect x="94.8" y="245.0" width="1" height="1" fill="#3070e8"/>
<rect x="106.0" y="261.5" width="1" height="1" fill="#3070e8"/>
<rect x="117.3" y="256.6" width="1" height="1" fill="#3070e8"/>
<rect x="122.2" y="250.7" width="1" height="1" fill="#3070e8"/>
<rect x="97.3" y="235.4" width="1" height="1" fill="#3070e8"/>
<rect x="96.3" y="253.6" width="1" height="1" fill="#3070e8"/>
<rect x="107.1" y="227.7" width="1" height="1" fill="#3070e8"/>
<rect x="118.0" y="233.6" width="1" height="1" fill="#3070e8"/>
<rect x="105.8" y="260.9" width="1" height="1" fill="#3070e8"/>
<rect x="97.2" y="233.5" width="1" height="1" fill="#3070e8"/>
<rect x="104.3" y="231.3" width="1" height="1" fill="#3070e8"/>
<rect x="121.9" y="238.8" width="1" height="1" fill="#3070e8"/>
<rect x="113.4" y="261.8" width="1" height="1" fill="#3070e8"/>
<rect x="99.2" y="231.2" width="1" height="1" fill="#3070e8"/>
<rect x="97.5" y="239.6" width="1" height="1" fill="#3070e8"/>
<rect x="96.4" y="247.6" width="1" height="1" fill="#3070e8"/>
<rect x="101.2" y="258.2" width="1" height="1" fill="#3070e8"/>
<rect x="116.8" y="257.1" width="1" height="1" fill="#3070e8"/>
<rect x="118.0" y="254.4" width="1" height="1" fill="#3070e8"/>
<rect x="95.3" y="241.7" width="1" height="1" fill="#3070e8"/>
<rect x="97.2" y="255.2" width="1" height="1" fill="#3070e8"/>
<rect x="98.5" y="233.5" width="1" height="1" fill="#3070e8"/>
<rect x="100.9" y="259.5" width="1" height="1" fill="#3070e8"/>
<rect x="104.4" y="230.6" width="1" height="1" fill="#3070e8"/>
<rect x="108.0" y="229.4" width="1" height="1" fill="#3070e8"/>
<rect x="99.7" y="255.2" width="1" height="1" fill="#3070e8"/>
<rect x="102.9" y="258.4" width="1" height="1" fill="#3070e8"/>
<rect x="116.3" y="258.3" width="1" height="1" fill="#3070e8"/>
<rect x="121.5" y="254.5" width="1" height="1" fill="#3070e8"/>
<rect x="100.8" y="258.6" width="1" height="1" fill="#3070e8"/>
<rect x="95.8" y="252.8" width="1" height="1" fill="#3070e8"/>
<rect x="119.7" y="232.4" width="1" height="1" fill="#3070e8"/>
<rect x="117.5" y="228.8" width="1" height="1" fill="#3070e8"/>
<rect x="121.2" y="237.6" width="1" height="1" fill="#3070e8"/>
<rect x="99.5" y="236.4" width="1" height="1" fill="#3070e8"/>
<rect x="101.0" y="256.5" width="1" height="1" fill="#3070e8"/>
<rect x="101.1" y="234.4" width="1" height="1" fill="#3070e8"/>
<rect x="109.7" y="229.7" width="1" height="1" fill="#3070e8"/>
<rect x="97.6" y="252.3" width="1" height="1" fill="#3070e8"/>
<rect x="117.0" y="230.0" width="1" height="1" fill="#3070e8"/>
<rect x="117.8" y="258.5" width="1" height="1" fill="#3070e8"/>
<rect x="110.7" y="261.7" width="1" height="1" fill="#3070e8"/>
<rect x="96.5" y="254.2" width="1" height="1" fill="#3070e8"/>
<rect x="97.5" y="249.4" width="1" height="1" fill="#3070e8"/>
<rect x="103.8" y="262.0" width="1" height="1" fill="#3070e8"/>
<rect x="102.2" y="257.2" width="1" height="1" fill="#3070e8"/>
<rect x="95.7" y="240.7" width="1" height="1" fill="#3070e8"/>
<rect x="120.4" y="239.1" width="1" height="1" fill="#3070e8"/>
<rect x="102.6" y="260.1" width="1" height="1" fill="#3070e8"/>
<rect x="95.3" y="245.0" width="1" height="1" fill="#3070e8"/>
<rect x="104.0" y="231.3" width="1" height="1" fill="#3070e8"/>
<rect x="121.0" y="249.2" width="1" height="1" fill="#3070e8"/>
<rect x="105.3" y="258.9" width="1" height="1" fill="#3070e8"/>
<rect x="106.6" y="259.1" width="1" height="1" fill="#3070e8"/>
<rect x="122.7" y="247.3" width="1" height="1" fill="#3070e8"/>
<rect x="110.0" y="229.3" width="1" height="1" fill="#3070e8"/>
<rect x="121.2" y="254.4" width="1" height="1" fill="#3070e8"/>
<rect x="120.0" y="251.7" width="1" height="1" fill="#3070e8"/>
<rect x="96.8" y="245.4" width="1" height="1" fill="#3070e8"/>
<rect x="112.3" y="228.1" width="1" height="1" fill="#3070e8"/>
<rect x="96.6" y="242.1" width="1" height="1" fill="#3070e8"/>
<rect x="123.8" y="247.7" width="1" height="1" fill="#3070e8"/>
<rect x="98.2" y="256.2" width="1" height="1" fill="#3070e8"/>
<rect x="119.7" y="254.6" width="1" height="1" fill="#3070e8"/>
<rect x="97.6" y="240.8" width="1" height="1" fill="#3070e8"/>
<rect x="122.8" y="252.9" width="1" height="1" fill="#3070e8"/>
<rect x="123.5" y="237.3" width="1" height="1" fill="#3070e8"/>
<rect x="95.7" y="239.6" width="1" height="1" fill="#3070e8"/>
<rect x="98.7" y="234.6" width="1" height="1" fill="#3070e8"/>
<rect x="116.0" y="259.8" width="1" height="1" fill="#3070e8"/>
<rect x="96.2" y="250.6" width="1" height="1" fill="#3070e8"/>
<rect x="121.6" y="248.6" width="1" height="1" fill="#3070e8"/>
<rect x="120.3" y="256.2" width="1" height="1" fill="#3070e8"/>
<rect x="96.9" y="246.6" width="1" height="1" fill="#3070e8"/>
<rect x="112.0" y="228.0" width="1" height="1" fill="#3070e8"/>
<rect x="106.1" y="260.2" width="1" height="1" fill="#3070e8"/>
<rect x="121.2" y="244.7" width="1" height="1" fill="#3070e8"/>
<rect x="124.1" y="248.8" width="1" height="1" fill="#3070e8"/>
<rect x="119.2" y="232.8" width="1" height="1" fill="#3070e8"/>
<rect x="122.0" y="238.4" width="1" height="1" fill="#3070e8"/>
<rect x="104.4" y="230.9" width="1" height="1" fill="#3070e8"/>
<rect x="96.7" y="251.2" width="1" height="1" fill="#3070e8"/>
<rect x="97.7" y="253.9" width="1" height="1" fill="#3070e8"/>
<rect x="101.7" y="259.0" width="1" height="1" fill="#3070e8"/>
<rect x="112.9" y="260.6" width="1" height="1" fill="#3070e8"/>
<rect x="97.3" y="251.9" width="1" height="1" fill="#3070e8"/>
<rect x="121.1" y="249.8" width="1" height="1" fill="#3070e8"/>
<rect x="106.8" y="229.6" width="1" height="1" fill="#3070e8"/>
<rect x="94.4" y="247.3" width="1" height="1" fill="#3070e8"/>
<rect x="98.4" y="233.2" width="1" height="1" fill="#3070e8"/>
<rect x="111.4" y="225.8" width="1" height="1" fill="#3070e8"/>
<rect x="99.5" y="255.1" width="1" height="1" fill="#3070e8"/>
<rect x="109.8" y="229.9" width="1" height="1" fill="#3070e8"/>
<rect x="97.1" y="247.6" width="1" height="1" fill="#3070e8"/>
<rect x="96.0" y="238.3" width="1" height="1" fill="#3070e8"/>
<rect x="116.1" y="233.8" width="1" height="1" fill="#48c0e0"/>
<rect x="106.1" y="232.9" width="1" height="1" fill="#48c0e0"/>
<rect x="103.1" y="231.3" width="1" height="1" fill="#48c0e0"/>
<rect x="101.6" y="235.3" width="1" height="1" fill="#48c0e0"/>
<rect x="99.2" y="243.6" width="1" height="1" fill="#48c0e0"/>
<rect x="113.5" y="256.1" width="1" height="1" fill="#48c0e0"/>
<rect x="112.3" y="231.0" width="1" height="1" fill="#48c0e0"/>
<rect x="119.9" y="248.0" width="1" height="1" fill="#48c0e0"/>
<rect x="114.7" y="231.8" width="1" height="1" fill="#48c0e0"/>
<rect x="114.4" y="258.7" width="1" height="1" fill="#48c0e0"/>
<rect x="113.7" y="257.3" width="1" height="1" fill="#48c0e0"/>
<rect x="100.2" y="247.7" width="1" height="1" fill="#48c0e0"/>
<rect x="108.4" y="257.2" width="1" height="1" fill="#48c0e0"/>
<rect x="113.9" y="255.1" width="1" height="1" fill="#48c0e0"/>
<rect x="102.7" y="232.9" width="1" height="1" fill="#48c0e0"/>
<rect x="109.3" y="260.2" width="1" height="1" fill="#48c0e0"/>
<rect x="100.3" y="250.9" width="1" height="1" fill="#48c0e0"/>
<rect x="119.2" y="238.1" width="1" height="1" fill="#48c0e0"/>
<rect x="98.5" y="247.7" width="1" height="1" fill="#48c0e0"/>
<rect x="108.8" y="231.3" width="1" height="1" fill="#48c0e0"/>
<rect x="119.5" y="250.8" width="1" height="1" fill="#48c0e0"/>
<rect x="109.3" y="230.1" width="1" height="1" fill="#48c0e0"/>
<rect x="117.7" y="254.5" width="1" height="1" fill="#48c0e0"/>
<rect x="114.5" y="258.0" width="1" height="1" fill="#48c0e0"/>
<rect x="101.6" y="234.4" width="1" height="1" fill="#48c0e0"/>
<rect x="118.4" y="250.6" width="1" height="1" fill="#48c0e0"/>
<rect x="108.4" y="232.1" width="1" height="1" fill="#48c0e0"/>
<rect x="119.3" y="247.8" width="1" height="1" fill="#48c0e0"/>
<rect x="115.9" y="232.9" width="1" height="1" fill="#48c0e0"/>
<rect x="110.6" y="256.8" width="1" height="1" fill="#48c0e0"/>
<rect x="115.3" y="231.4" width="1" height="1" fill="#48c0e0"/>
<rect x="106.5" y="232.2" width="1" height="1" fill="#48c0e0"/>
<rect x="109.4" y="232.4" width="1" height="1" fill="#48c0e0"/>
<rect x="114.1" y="256.2" width="1" height="1" fill="#48c0e0"/>
<rect x="118.2" y="241.2" width="1" height="1" fill="#48c0e0"/>
<rect x="115.3" y="257.1" width="1" height="1" fill="#48c0e0"/>
<rect x="110.2" y="231.4" width="1" height="1" fill="#48c0e0"/>
<rect x="119.6" y="251.6" width="1" height="1" fill="#48c0e0"/>
<rect x="120.8" y="241.6" width="1" height="1" fill="#48c0e0"/>
<rect x="100.9" y="239.5" width="1" height="1" fill="#48c0e0"/>
<rect x="108.7" y="230.0" width="1" height="1" fill="#48c0e0"/>
<rect x="114.9" y="231.4" width="1" height="1" fill="#48c0e0"/>
<rect x="97.6" y="244.2" width="1" height="1" fill="#48c0e0"/>
<rect x="99.4" y="247.8" width="1" height="1" fill="#48c0e0"/>
<rect x="102.1" y="233.0" width="1" height="1" fill="#48c0e0"/>
<rect x="99.4" y="236.3" width="1" height="1" fill="#48c0e0"/>
<rect x="107.8" y="259.9" width="1" height="1" fill="#48c0e0"/>
<rect x="116.6" y="235.2" width="1" height="1" fill="#48c0e0"/>
<rect x="120.0" y="247.1" width="1" height="1" fill="#48c0e0"/>
<rect x="100.8" y="233.7" width="1" height="1" fill="#48c0e0"/>
<rect x="99.0" y="239.2" width="1" height="1" fill="#48c0e0"/>
<rect x="110.0" y="231.8" width="1" height="1" fill="#48c0e0"/>
<rect x="104.3" y="232.6" width="1" height="1" fill="#48c0e0"/>
<rect x="111.5" y="257.3" width="1" height="1" fill="#48c0e0"/>
<rect x="102.2" y="255.8" width="1" height="1" fill="#48c0e0"/>
<rect x="100.0" y="240.2" width="1" height="1" fill="#48c0e0"/>
<rect x="120.0" y="249.6" width="1" height="1" fill="#48c0e0"/>
<rect x="109.7" y="229.2" width="1" height="1" fill="#48c0e0"/>
<rect x="111.5" y="232.5" width="1" height="1" fill="#48c0e0"/>
<rect x="107.4" y="258.1" width="1" height="1" fill="#48c0e0"/>
<rect x="106.1" y="259.1" width="1" height="1" fill="#48c0e0"/>
<rect x="111.9" y="256.1" width="1" height="1" fill="#48c0e0"/>
<rect x="100.7" y="248.2" width="1" height="1" fill="#48c0e0"/>
<rect x="120.0" y="247.1" width="1" height="1" fill="#48c0e0"/>
<rect x="101.0" y="235.9" width="1" height="1" fill="#48c0e0"/>
<rect x="119.0" y="250.6" width="1" height="1" fill="#48c0e0"/>
<rect x="99.6" y="242.6" width="1" height="1" fill="#48c0e0"/>
<rect x="111.0" y="257.0" width="1" height="1" fill="#48c0e0"/>
<rect x="99.4" y="245.9" width="1" height="1" fill="#48c0e0"/>
<rect x="100.0" y="237.0" width="1" height="1" fill="#48c0e0"/>
<rect x="107.6" y="258.7" width="1" height="1" fill="#48c0e0"/>
<rect x="108.8" y="259.4" width="1" height="1" fill="#48c0e0"/>
<rect x="112.4" y="258.3" width="1" height="1" fill="#48c0e0"/>
<rect x="108.4" y="229.4" width="1" height="1" fill="#48c0e0"/>
<rect x="98.0" y="241.5" width="1" height="1" fill="#48c0e0"/>
<rect x="120.6" y="243.2" width="1" height="1" fill="#48c0e0"/>
<rect x="103.2" y="254.7" width="1" height="1" fill="#48c0e0"/>
<rect x="102.8" y="235.5" width="1" height="1" fill="#48c0e0"/>
<rect x="113.5" y="255.6" width="1" height="1" fill="#48c0e0"/>
<rect x="103.5" y="233.5" width="1" height="1" fill="#48c0e0"/>
<rect x="119.4" y="237.3" width="1" height="1" fill="#48c0e0"/>
<rect x="99.6" y="241.9" width="1" height="1" fill="#48c0e0"/>
<rect x="105.5" y="255.6" width="1" height="1" fill="#48c0e0"/>
<rect x="118.2" y="254.4" width="1" height="1" fill="#48c0e0"/>
<rect x="106.7" y="256.1" width="1" height="1" fill="#48c0e0"/>
<rect x="119.4" y="242.8" width="1" height="1" fill="#48c0e0"/>
<rect x="111.0" y="230.9" width="1" height="1" fill="#48c0e0"/>
<rect x="118.5" y="242.1" width="1" height="1" fill="#48c0e0"/>
<rect x="98.7" y="246.9" width="1" height="1" fill="#48c0e0"/>
<rect x="120.9" y="246.9" width="1" height="1" fill="#48c0e0"/>
<rect x="103.6" y="257.0" width="1" height="1" fill="#48c0e0"/>
<rect x="117.5" y="250.4" width="1" height="1" fill="#48c0e0"/>
<rect x="119.0" y="252.3" width="1" height="1" fill="#48c0e0"/>
<rect x="120.3" y="239.0" width="1" height="1" fill="#48c0e0"/>
<rect x="100.3" y="242.1" width="1" height="1" fill="#48c0e0"/>
<rect x="111.2" y="230.7" width="1" height="1" fill="#48c0e0"/>
<rect x="111.6" y="230.3" width="1" height="1" fill="#48c0e0"/>
<rect x="100.7" y="239.4" width="1" height="1" fill="#48c0e0"/>
<rect x="115.2" y="254.2" width="1" height="1" fill="#48c0e0"/>
<rect x="100.4" y="249.9" width="1" height="1" fill="#48c0e0"/>
<rect x="118.2" y="241.0" width="1" height="1" fill="#48c0e0"/>
<rect x="109.9" y="232.0" width="1" height="1" fill="#48c0e0"/>
<rect x="118.7" y="253.9" width="1" height="1" fill="#48c0e0"/>
<rect x="111.4" y="258.6" width="1" height="1" fill="#48c0e0"/>
<rect x="100.7" y="237.6" width="1" height="1" fill="#48c0e0"/>
<rect x="103.9" y="254.7" width="1" height="1" fill="#48c0e0"/>
<rect x="106.0" y="231.8" width="1" height="1" fill="#48c0e0"/>
<rect x="100.3" y="235.5" width="1" height="1" fill="#48c0e0"/>
<rect x="118.5" y="250.8" width="1" height="1" fill="#48c0e0"/>
<rect x="102.4" y="257.0" width="1" height="1" fill="#48c0e0"/>
<rect x="102.5" y="235.7" width="1" height="1" fill="#48c0e0"/>
<rect x="100.7" y="247.6" width="1" height="1" fill="#48c0e0"/>
<rect x="100.2" y="243.4" width="1" height="1" fill="#48c0e0"/>
<rect x="116.2" y="255.2" width="1" height="1" fill="#48c0e0"/>
<rect x="100.1" y="241.5" width="1" height="1" fill="#48c0e0"/>
<rect x="100.8" y="237.9" width="1" height="1" fill="#48c0e0"/>
<rect x="106.7" y="232.8" width="1" height="1" fill="#48c0e0"/>
<rect x="115.0" y="232.9" width="1" height="1" fill="#48c0e0"/>
<rect x="114.0" y="256.2" width="1" height="1" fill="#48c0e0"/>
<rect x="103.0" y="235.5" width="1" height="1" fill="#48c0e0"/>
<rect x="114.1" y="240.2" width="1" height="1" fill="#68d070"/>
<rect x="105.0" y="248.7" width="1" height="1" fill="#68d070"/>
<rect x="103.0" y="247.2" width="1" height="1" fill="#68d070"/>
<rect x="111.5" y="252.0" width="1" height="1" fill="#68d070"/>
<rect x="103.5" y="241.8" width="1" height="1" fill="#68d070"/>
<rect x="112.8" y="250.9" width="1" height="1" fill="#68d070"/>
<rect x="105.0" y="239.5" width="1" height="1" fill="#68d070"/>
<rect x="115.5" y="246.1" width="1" height="1" fill="#68d070"/>
<rect x="113.7" y="237.4" width="1" height="1" fill="#68d070"/>
<rect x="112.7" y="238.1" width="1" height="1" fill="#68d070"/>
<rect x="107.2" y="253.0" width="1" height="1" fill="#68d070"/>
<rect x="104.8" y="238.4" width="1" height="1" fill="#68d070"/>
<rect x="104.2" y="241.8" width="1" height="1" fill="#68d070"/>
<rect x="109.8" y="252.3" width="1" height="1" fill="#68d070"/>
<rect x="115.1" y="247.7" width="1" height="1" fill="#68d070"/>
<rect x="115.0" y="249.5" width="1" height="1" fill="#68d070"/>
<rect x="114.6" y="242.5" width="1" height="1" fill="#68d070"/>
<rect x="115.4" y="242.6" width="1" height="1" fill="#68d070"/>
<rect x="115.1" y="244.8" width="1" height="1" fill="#68d070"/>
<rect x="105.8" y="250.9" width="1" height="1" fill="#68d070"/>
<rect x="114.4" y="247.9" width="1" height="1" fill="#68d070"/>
<rect x="115.2" y="245.4" width="1" height="1" fill="#68d070"/>
<rect x="104.0" y="245.4" width="1" height="1" fill="#68d070"/>
<rect x="115.2" y="240.0" width="1" height="1" fill="#68d070"/>
<rect x="103.0" y="244.5" width="1" height="1" fill="#68d070"/>
<rect x="105.6" y="252.0" width="1" height="1" fill="#68d070"/>
<rect x="110.4" y="236.1" width="1" height="1" fill="#68d070"/>
<rect x="109.1" y="236.0" width="1" height="1" fill="#68d070"/>
<rect x="112.1" y="252.2" width="1" height="1" fill="#68d070"/>
<rect x="114.1" y="250.7" width="1" height="1" fill="#68d070"/>
<rect x="109.3" y="253.4" width="1" height="1" fill="#68d070"/>
<rect x="111.6" y="236.0" width="1" height="1" fill="#68d070"/>
<rect x="114.7" y="239.4" width="1" height="1" fill="#68d070"/>
<rect x="107.2" y="235.7" width="1" height="1" fill="#68d070"/>
<rect x="107.0" y="235.3" width="1" height="1" fill="#68d070"/>
<rect x="104.3" y="239.3" width="1" height="1" fill="#68d070"/>
<rect x="103.7" y="241.7" width="1" height="1" fill="#68d070"/>
<rect x="114.6" y="241.5" width="1" height="1" fill="#68d070"/>
<rect x="111.6" y="252.7" width="1" height="1" fill="#68d070"/>
<rect x="107.0" y="253.2" width="1" height="1" fill="#68d070"/>
<rect x="106.1" y="238.7" width="1" height="1" fill="#68d070"/>
<rect x="111.0" y="253.4" width="1" height="1" fill="#68d070"/>
<rect x="104.5" y="250.1" width="1" height="1" fill="#68d070"/>
<rect x="104.2" y="246.0" width="1" height="1" fill="#68d070"/>
<rect x="106.9" y="235.2" width="1" height="1" fill="#68d070"/>
<rect x="114.5" y="249.5" width="1" height="1" fill="#68d070"/>
<rect x="104.8" y="238.5" width="1" height="1" fill="#68d070"/>
<rect x="103.5" y="244.2" width="1" height="1" fill="#68d070"/>
<rect x="115.9" y="243.8" width="1" height="1" fill="#68d070"/>
<rect x="103.5" y="248.3" width="1" height="1" fill="#68d070"/>
<rect x="106.2" y="236.2" width="1" height="1" fill="#68d070"/>
<rect x="114.6" y="244.4" width="1" height="1" fill="#68d070"/>
<rect x="110.7" y="252.5" width="1" height="1" fill="#68d070"/>
<rect x="112.2" y="235.5" width="1" height="1" fill="#68d070"/>
<rect x="110.3" y="253.2" width="1" height="1" fill="#68d070"/>
<rect x="114.2" y="238.5" width="1" height="1" fill="#68d070"/>
<rect x="103.8" y="239.4" width="1" height="1" fill="#68d070"/>
<rect x="114.1" y="240.9" width="1" height="1" fill="#68d070"/>
<rect x="114.8" y="242.7" width="1" height="1" fill="#68d070"/>
<rect x="104.6" y="238.3" width="1" height="1" fill="#68d070"/>
<rect x="108.8" y="247.6" width="1" height="1" fill="#d0c040"/>
<rect x="111.3" y="242.5" width="1" height="1" fill="#d0c040"/>
<rect x="111.3" y="244.1" width="1" height="1" fill="#d0c040"/>
<rect x="107.8" y="242.0" width="1" height="1" fill="#d0c040"/>
<rect x="111.6" y="243.5" width="1" height="1" fill="#d0c040"/>
<rect x="109.0" y="247.4" width="1" height="1" fill="#d0c040"/>
<rect x="110.3" y="247.3" width="1" height="1" fill="#d0c040"/>
<rect x="107.5" y="243.1" width="1" height="1" fill="#d0c040"/>
<rect x="110.5" y="246.9" width="1" height="1" fill="#d0c040"/>
<rect x="108.5" y="241.2" width="1" height="1" fill="#d0c040"/>
<rect x="111.0" y="246.9" width="1" height="1" fill="#d0c040"/>
<rect x="111.5" y="244.1" width="1" height="1" fill="#d0c040"/>
<rect x="107.1" y="243.7" width="1" height="1" fill="#d0c040"/>
<rect x="111.8" y="245.0" width="1" height="1" fill="#d0c040"/>
<rect x="109.8" y="241.0" width="1" height="1" fill="#d0c040"/>
<rect x="108.2" y="247.3" width="1" height="1" fill="#d0c040"/>
<rect x="111.2" y="243.4" width="1" height="1" fill="#d0c040"/>
<rect x="111.4" y="246.2" width="1" height="1" fill="#d0c040"/>
<rect x="111.3" y="243.6" width="1" height="1" fill="#d0c040"/>
<rect x="110.2" y="247.6" width="1" height="1" fill="#d0c040"/>
<rect x="31.6" y="165.3" width="47" height="41.8" fill="none" stroke="#888" stroke-width="0.7"/>
<rect x="87.2" y="220.8" width="51.5" height="40.5" fill="none" stroke="#888" stroke-width="0.7"/>
<line x1="31.2" y1="149.1" x2="31.2" y2="263.6" stroke="#222" stroke-width="1.4"/>
<line x1="30.4" y1="262.90000000000003" x2="145.3" y2="262.90000000000003" stroke="#222" stroke-width="1.3"/>
<line x1="27.799999999999997" y1="161.2" x2="31.4" y2="161.2" stroke="#222" stroke-width="1.1"/>
<line x1="27.799999999999997" y1="186.2" x2="31.4" y2="186.2" stroke="#222" stroke-width="1.1"/>
<line x1="27.799999999999997" y1="212.6" x2="31.4" y2="212.6" stroke="#222" stroke-width="1.1"/>
<line x1="27.799999999999997" y1="239.2" x2="31.4" y2="239.2" stroke="#222" stroke-width="1.1"/>
<line x1="27.799999999999997" y1="252.4" x2="31.4" y2="252.4" stroke="#222" stroke-width="1.1"/>
<line x1="41.0" y1="262.6" x2="41.0" y2="266.0" stroke="#222" stroke-width="1.1"/>
<line x1="55.0" y1="262.6" x2="55.0" y2="266.0" stroke="#222" stroke-width="1.1"/>
<line x1="82.2" y1="262.6" x2="82.2" y2="266.0" stroke="#222" stroke-width="1.1"/>
<line x1="109.0" y1="262.6" x2="109.0" y2="266.0" stroke="#222" stroke-width="1.1"/>
<line x1="135.6" y1="262.6" x2="135.6" y2="266.0" stroke="#222" stroke-width="1.1"/>
<line x1="28.799999999999997" y1="231.2" x2="30.4" y2="231.2" stroke="#333" stroke-width="0.7"/>
<line x1="28.799999999999997" y1="226.5" x2="30.4" y2="226.5" stroke="#333" stroke-width="0.7"/>
<line x1="28.799999999999997" y1="223.2" x2="30.4" y2="223.2" stroke="#333" stroke-width="0.7"/>
<line x1="28.799999999999997" y1="220.6" x2="30.4" y2="220.6" stroke="#333" stroke-width="0.7"/>
<line x1="28.799999999999997" y1="218.5" x2="30.4" y2="218.5" stroke="#333" stroke-width="0.7"/>
<line x1="28.799999999999997" y1="216.7" x2="30.4" y2="216.7" stroke="#333" stroke-width="0.7"/>
<line x1="28.799999999999997" y1="215.2" x2="30.4" y2="215.2" stroke="#333" stroke-width="0.7"/>
<line x1="28.799999999999997" y1="213.8" x2="30.4" y2="213.8" stroke="#333" stroke-width="0.7"/>
<line x1="28.799999999999997" y1="204.7" x2="30.4" y2="204.7" stroke="#333" stroke-width="0.7"/>
<line x1="28.799999999999997" y1="200.0" x2="30.4" y2="200.0" stroke="#333" stroke-width="0.7"/>
<line x1="28.799999999999997" y1="196.7" x2="30.4" y2="196.7" stroke="#333" stroke-width="0.7"/>
<line x1="28.799999999999997" y1="194.1" x2="30.4" y2="194.1" stroke="#333" stroke-width="0.7"/>
<line x1="28.799999999999997" y1="192.1" x2="30.4" y2="192.1" stroke="#333" stroke-width="0.7"/>
<line x1="28.799999999999997" y1="190.3" x2="30.4" y2="190.3" stroke="#333" stroke-width="0.7"/>
<line x1="28.799999999999997" y1="188.8" x2="30.4" y2="188.8" stroke="#333" stroke-width="0.7"/>
<line x1="28.799999999999997" y1="187.4" x2="30.4" y2="187.4" stroke="#333" stroke-width="0.7"/>
<line x1="28.799999999999997" y1="178.7" x2="30.4" y2="178.7" stroke="#333" stroke-width="0.7"/>
<line x1="28.799999999999997" y1="174.3" x2="30.4" y2="174.3" stroke="#333" stroke-width="0.7"/>
<line x1="28.799999999999997" y1="171.1" x2="30.4" y2="171.1" stroke="#333" stroke-width="0.7"/>
<line x1="28.799999999999997" y1="168.7" x2="30.4" y2="168.7" stroke="#333" stroke-width="0.7"/>
<line x1="28.799999999999997" y1="166.7" x2="30.4" y2="166.7" stroke="#333" stroke-width="0.7"/>
<line x1="28.799999999999997" y1="165.1" x2="30.4" y2="165.1" stroke="#333" stroke-width="0.7"/>
<line x1="28.799999999999997" y1="163.6" x2="30.4" y2="163.6" stroke="#333" stroke-width="0.7"/>
<line x1="28.799999999999997" y1="162.3" x2="30.4" y2="162.3" stroke="#333" stroke-width="0.7"/>
<line x1="28.799999999999997" y1="153.7" x2="30.4" y2="153.7" stroke="#333" stroke-width="0.7"/>
<line x1="28.799999999999997" y1="243.5" x2="30.4" y2="243.5" stroke="#333" stroke-width="0.7"/>
<line x1="28.799999999999997" y1="247.8" x2="30.4" y2="247.8" stroke="#333" stroke-width="0.7"/>
<line x1="63.2" y1="263.6" x2="63.2" y2="265.40000000000003" stroke="#333" stroke-width="0.7"/>
<line x1="68.0" y1="263.6" x2="68.0" y2="265.40000000000003" stroke="#333" stroke-width="0.7"/>
<line x1="71.4" y1="263.6" x2="71.4" y2="265.40000000000003" stroke="#333" stroke-width="0.7"/>
<line x1="74.0" y1="263.6" x2="74.0" y2="265.40000000000003" stroke="#333" stroke-width="0.7"/>
<line x1="76.2" y1="263.6" x2="76.2" y2="265.40000000000003" stroke="#333" stroke-width="0.7"/>
<line x1="78.0" y1="263.6" x2="78.0" y2="265.40000000000003" stroke="#333" stroke-width="0.7"/>
<line x1="79.6" y1="263.6" x2="79.6" y2="265.40000000000003" stroke="#333" stroke-width="0.7"/>
<line x1="81.0" y1="263.6" x2="81.0" y2="265.40000000000003" stroke="#333" stroke-width="0.7"/>
<line x1="90.3" y1="263.6" x2="90.3" y2="265.40000000000003" stroke="#333" stroke-width="0.7"/>
<line x1="95.0" y1="263.6" x2="95.0" y2="265.40000000000003" stroke="#333" stroke-width="0.7"/>
<line x1="98.3" y1="263.6" x2="98.3" y2="265.40000000000003" stroke="#333" stroke-width="0.7"/>
<line x1="100.9" y1="263.6" x2="100.9" y2="265.40000000000003" stroke="#333" stroke-width="0.7"/>
<line x1="103.1" y1="263.6" x2="103.1" y2="265.40000000000003" stroke="#333" stroke-width="0.7"/>
<line x1="104.8" y1="263.6" x2="104.8" y2="265.40000000000003" stroke="#333" stroke-width="0.7"/>
<line x1="106.4" y1="263.6" x2="106.4" y2="265.40000000000003" stroke="#333" stroke-width="0.7"/>
<line x1="107.8" y1="263.6" x2="107.8" y2="265.40000000000003" stroke="#333" stroke-width="0.7"/>
<line x1="117.0" y1="263.6" x2="117.0" y2="265.40000000000003" stroke="#333" stroke-width="0.7"/>
<line x1="121.7" y1="263.6" x2="121.7" y2="265.40000000000003" stroke="#333" stroke-width="0.7"/>
<line x1="125.0" y1="263.6" x2="125.0" y2="265.40000000000003" stroke="#333" stroke-width="0.7"/>
<line x1="127.6" y1="263.6" x2="127.6" y2="265.40000000000003" stroke="#333" stroke-width="0.7"/>
<line x1="129.7" y1="263.6" x2="129.7" y2="265.40000000000003" stroke="#333" stroke-width="0.7"/>
<line x1="131.5" y1="263.6" x2="131.5" y2="265.40000000000003" stroke="#333" stroke-width="0.7"/>
<line x1="133.0" y1="263.6" x2="133.0" y2="265.40000000000003" stroke="#333" stroke-width="0.7"/>
<line x1="134.4" y1="263.6" x2="134.4" y2="265.40000000000003" stroke="#333" stroke-width="0.7"/>
<line x1="143.6" y1="263.6" x2="143.6" y2="265.40000000000003" stroke="#333" stroke-width="0.7"/>
<line x1="33.5" y1="263.6" x2="33.5" y2="265.40000000000003" stroke="#333" stroke-width="0.7"/>
<line x1="37.0" y1="263.6" x2="37.0" y2="265.40000000000003" stroke="#333" stroke-width="0.7"/>
<line x1="44.5" y1="263.6" x2="44.5" y2="265.40000000000003" stroke="#333" stroke-width="0.7"/>
<line x1="48.0" y1="263.6" x2="48.0" y2="265.40000000000003" stroke="#333" stroke-width="0.7"/>
<line x1="51.5" y1="263.6" x2="51.5" y2="265.40000000000003" stroke="#333" stroke-width="0.7"/>
</svg>
<svg class="chart" width="520" height="301" viewBox="0 0 520 301">
<defs>
<pattern id="py1" width="2" height="2" patternUnits="userSpaceOnUse"><rect width="2" height="2" fill="#f4f4b0"/><rect width="1" height="1" fill="#e2e29a"/><rect x="1" y="1" width="1" height="1" fill="#e2e29a"/></pattern>
<pattern id="py2" width="2" height="2" patternUnits="userSpaceOnUse"><rect width="2" height="2" fill="#a8a888"/><rect width="1" height="1" fill="#4e4e36"/><rect x="1" y="1" width="1" height="1" fill="#4e4e36"/></pattern>
<pattern id="po1" width="2" height="2" patternUnits="userSpaceOnUse"><rect width="2" height="2" fill="#f7a623"/><rect width="1" height="1" fill="#e89a20"/><rect x="1" y="1" width="1" height="1" fill="#e89a20"/></pattern>
<pattern id="po2" width="2" height="2" patternUnits="userSpaceOnUse"><rect width="2" height="2" fill="#ad7420"/><rect width="1" height="1" fill="#5e3c0a"/><rect x="1" y="1" width="1" height="1" fill="#5e3c0a"/></pattern>
<pattern id="pr2" width="2" height="2" patternUnits="userSpaceOnUse"><rect width="2" height="2" fill="#9a1010"/><rect width="1" height="1" fill="#800808"/><rect x="1" y="1" width="1" height="1" fill="#800808"/></pattern>
</defs>
<rect x="179.5" y="46.5" width="336" height="225" fill="#d3d3d3" stroke="#5a5a5a" stroke-width="1"/>
<path d="M180 47.5H514.5V270.5H180" fill="none" stroke="#e4e4e4" stroke-width="1"/>
<line x1="180.5" y1="47" x2="180.5" y2="271" stroke="#b0b0b0" stroke-width="1"/>
<line x1="181.5" y1="48" x2="181.5" y2="271" stroke="#c8c8c8" stroke-width="1"/>
<line x1="188.10" y1="95.20" x2="188.10" y2="101.50" stroke="#666" stroke-width="1.15"/>
<line x1="186.10" y1="95.20" x2="190.10" y2="95.20" stroke="#555" stroke-width="1"/>
<rect x="185.65" y="101.80" width="5.20" height="169.30" fill="#000" stroke="#000" stroke-width="0.7"/>
<line x1="193.20" y1="96.40" x2="193.20" y2="102.20" stroke="#666" stroke-width="1.15"/>
<line x1="191.20" y1="96.40" x2="195.20" y2="96.40" stroke="#555" stroke-width="1"/>
<rect x="190.75" y="102.50" width="5.20" height="168.60" fill="#fff" stroke="#555" stroke-width="0.7"/>
<line x1="203.40" y1="100.30" x2="203.40" y2="101.00" stroke="#666" stroke-width="1.15"/>
<line x1="201.40" y1="100.30" x2="205.40" y2="100.30" stroke="#555" stroke-width="1"/>
<rect x="200.95" y="101.30" width="5.20" height="169.80" fill="url(#py1)" stroke="#6b6b40" stroke-width="0.7"/>
<line x1="208.50" y1="93.10" x2="208.50" y2="109.00" stroke="#666" stroke-width="1.15"/>
<line x1="206.50" y1="93.10" x2="210.50" y2="93.10" stroke="#555" stroke-width="1"/>
<rect x="206.05" y="109.30" width="5.20" height="161.80" fill="url(#py2)" stroke="#4a4a28" stroke-width="0.7"/>
<line x1="213.60" y1="103.80" x2="213.60" y2="104.50" stroke="#666" stroke-width="1.15"/>
<line x1="211.60" y1="103.80" x2="215.60" y2="103.80" stroke="#555" stroke-width="1"/>
<rect x="211.15" y="104.80" width="5.20" height="166.30" fill="#ffffa8" stroke="#6b6b40" stroke-width="0.7"/>
<line x1="223.80" y1="102.80" x2="223.80" y2="103.80" stroke="#666" stroke-width="1.15"/>
<line x1="221.80" y1="102.80" x2="225.80" y2="102.80" stroke="#555" stroke-width="1"/>
<rect x="221.35" y="104.10" width="5.20" height="167.00" fill="url(#po1)" stroke="#6a4000" stroke-width="0.7"/>
<line x1="228.90" y1="92.00" x2="228.90" y2="100.00" stroke="#666" stroke-width="1.15"/>
<line x1="226.90" y1="92.00" x2="230.90" y2="92.00" stroke="#555" stroke-width="1"/>
<rect x="226.45" y="100.30" width="5.20" height="170.80" fill="url(#po2)" stroke="#4a2a00" stroke-width="0.7"/>
<line x1="234.00" y1="98.00" x2="234.00" y2="101.00" stroke="#666" stroke-width="1.15"/>
<line x1="232.00" y1="98.00" x2="236.00" y2="98.00" stroke="#555" stroke-width="1"/>
<rect x="231.55" y="101.30" width="5.20" height="169.80" fill="#ffa500" stroke="#6a4000" stroke-width="0.7"/>
<line x1="244.20" y1="98.00" x2="244.20" y2="103.00" stroke="#666" stroke-width="1.15"/>
<line x1="242.20" y1="98.00" x2="246.20" y2="98.00" stroke="#555" stroke-width="1"/>
<rect x="241.75" y="103.30" width="5.20" height="167.80" fill="#ee1111" stroke="#700" stroke-width="0.7"/>
<line x1="249.30" y1="104.50" x2="249.30" y2="110.00" stroke="#666" stroke-width="1.15"/>
<line x1="247.30" y1="104.50" x2="251.30" y2="104.50" stroke="#555" stroke-width="1"/>
<rect x="246.85" y="110.30" width="5.20" height="160.80" fill="url(#pr2)" stroke="#500" stroke-width="0.7"/>
<line x1="254.40" y1="90.20" x2="254.40" y2="107.00" stroke="#666" stroke-width="1.15"/>
<line x1="252.40" y1="90.20" x2="256.40" y2="90.20" stroke="#555" stroke-width="1"/>
<rect x="251.95" y="107.30" width="5.20" height="163.80" fill="#f21212" stroke="#700" stroke-width="0.7"/>
<line x1="272.18" y1="61.30" x2="272.18" y2="68.80" stroke="#666" stroke-width="1.15"/>
<line x1="270.18" y1="61.30" x2="274.18" y2="61.30" stroke="#555" stroke-width="1"/>
<rect x="269.73" y="69.10" width="5.20" height="202.00" fill="#000" stroke="#000" stroke-width="0.7"/>
<rect x="274.83" y="257.80" width="5.20" height="13.30" fill="#fff" stroke="#555" stroke-width="0.7"/>
<line x1="287.48" y1="140.00" x2="287.48" y2="164.40" stroke="#666" stroke-width="1.15"/>
<line x1="285.48" y1="140.00" x2="289.48" y2="140.00" stroke="#555" stroke-width="1"/>
<rect x="285.03" y="164.70" width="5.20" height="106.40" fill="url(#py1)" stroke="#6b6b40" stroke-width="0.7"/>
<line x1="292.57" y1="63.10" x2="292.57" y2="76.50" stroke="#666" stroke-width="1.15"/>
<line x1="290.57" y1="63.10" x2="294.57" y2="63.10" stroke="#555" stroke-width="1"/>
<rect x="290.12" y="76.80" width="5.20" height="194.30" fill="url(#py2)" stroke="#4a4a28" stroke-width="0.7"/>
<line x1="297.68" y1="205.40" x2="297.68" y2="237.30" stroke="#666" stroke-width="1.15"/>
<line x1="295.68" y1="205.40" x2="299.68" y2="205.40" stroke="#555" stroke-width="1"/>
<rect x="295.23" y="237.60" width="5.20" height="33.50" fill="#ffffa8" stroke="#6b6b40" stroke-width="0.7"/>
<line x1="307.88" y1="116.10" x2="307.88" y2="183.25" stroke="#666" stroke-width="1.15"/>
<line x1="305.88" y1="116.10" x2="309.88" y2="116.10" stroke="#555" stroke-width="1"/>
<rect x="305.43" y="183.55" width="5.20" height="87.55" fill="url(#po1)" stroke="#6a4000" stroke-width="0.7"/>
<line x1="312.98" y1="56.50" x2="312.98" y2="68.80" stroke="#666" stroke-width="1.15"/>
<line x1="310.98" y1="56.50" x2="314.98" y2="56.50" stroke="#555" stroke-width="1"/>
<rect x="310.53" y="69.10" width="5.20" height="202.00" fill="url(#po2)" stroke="#4a2a00" stroke-width="0.7"/>
<line x1="318.07" y1="204.20" x2="318.07" y2="240.30" stroke="#666" stroke-width="1.15"/>
<line x1="316.07" y1="204.20" x2="320.07" y2="204.20" stroke="#555" stroke-width="1"/>
<rect x="315.62" y="240.60" width="5.20" height="30.50" fill="#ffa500" stroke="#6a4000" stroke-width="0.7"/>
<line x1="328.28" y1="165.20" x2="328.28" y2="211.25" stroke="#666" stroke-width="1.15"/>
<line x1="326.28" y1="165.20" x2="330.28" y2="165.20" stroke="#555" stroke-width="1"/>
<rect x="325.83" y="211.55" width="5.20" height="59.55" fill="#ee1111" stroke="#700" stroke-width="0.7"/>
<line x1="333.38" y1="69.40" x2="333.38" y2="87.70" stroke="#666" stroke-width="1.15"/>
<line x1="331.38" y1="69.40" x2="335.38" y2="69.40" stroke="#555" stroke-width="1"/>
<rect x="330.93" y="88.00" width="5.20" height="183.10" fill="url(#pr2)" stroke="#500" stroke-width="0.7"/>
<line x1="338.48" y1="140.50" x2="338.48" y2="181.25" stroke="#666" stroke-width="1.15"/>
<line x1="336.48" y1="140.50" x2="340.48" y2="140.50" stroke="#555" stroke-width="1"/>
<rect x="336.03" y="181.55" width="5.20" height="89.55" fill="#f21212" stroke="#700" stroke-width="0.7"/>
<line x1="356.25" y1="117.90" x2="356.25" y2="141.70" stroke="#666" stroke-width="1.15"/>
<line x1="354.25" y1="117.90" x2="358.25" y2="117.90" stroke="#555" stroke-width="1"/>
<rect x="353.80" y="142.00" width="5.20" height="129.10" fill="#000" stroke="#000" stroke-width="0.7"/>
<rect x="358.90" y="259.55" width="5.20" height="11.55" fill="#fff" stroke="#555" stroke-width="0.7"/>
<line x1="371.55" y1="211.25" x2="371.55" y2="233.25" stroke="#666" stroke-width="1.15"/>
<line x1="369.55" y1="211.25" x2="373.55" y2="211.25" stroke="#555" stroke-width="1"/>
<rect x="369.10" y="233.55" width="5.20" height="37.55" fill="url(#py1)" stroke="#6b6b40" stroke-width="0.7"/>
<line x1="376.65" y1="111.90" x2="376.65" y2="140.00" stroke="#666" stroke-width="1.15"/>
<line x1="374.65" y1="111.90" x2="378.65" y2="111.90" stroke="#555" stroke-width="1"/>
<rect x="374.20" y="140.30" width="5.20" height="130.80" fill="url(#py2)" stroke="#4a4a28" stroke-width="0.7"/>
<rect x="379.30" y="257.80" width="5.20" height="13.30" fill="#ffffa8" stroke="#6b6b40" stroke-width="0.7"/>
<rect x="389.50" y="257.80" width="5.20" height="13.30" fill="url(#po1)" stroke="#6a4000" stroke-width="0.7"/>
<line x1="397.05" y1="103.30" x2="397.05" y2="133.10" stroke="#666" stroke-width="1.15"/>
<line x1="395.05" y1="103.30" x2="399.05" y2="103.30" stroke="#555" stroke-width="1"/>
<rect x="394.60" y="133.40" width="5.20" height="137.70" fill="url(#po2)" stroke="#4a2a00" stroke-width="0.7"/>
<rect x="399.70" y="257.80" width="5.20" height="13.30" fill="#ffa500" stroke="#6a4000" stroke-width="0.7"/>
<line x1="412.35" y1="237.50" x2="412.35" y2="250.00" stroke="#666" stroke-width="1.15"/>
<line x1="410.35" y1="237.50" x2="414.35" y2="237.50" stroke="#555" stroke-width="1"/>
<rect x="409.90" y="250.30" width="5.20" height="20.80" fill="#ee1111" stroke="#700" stroke-width="0.7"/>
<line x1="417.45" y1="150.00" x2="417.45" y2="172.50" stroke="#666" stroke-width="1.15"/>
<line x1="415.45" y1="150.00" x2="419.45" y2="150.00" stroke="#555" stroke-width="1"/>
<rect x="415.00" y="172.80" width="5.20" height="98.30" fill="url(#pr2)" stroke="#500" stroke-width="0.7"/>
<line x1="422.55" y1="231.25" x2="422.55" y2="243.00" stroke="#666" stroke-width="1.15"/>
<line x1="420.55" y1="231.25" x2="424.55" y2="231.25" stroke="#555" stroke-width="1"/>
<rect x="420.10" y="243.30" width="5.20" height="27.80" fill="#f21212" stroke="#700" stroke-width="0.7"/>
<rect x="437.88" y="259.30" width="5.20" height="11.80" fill="#000" stroke="#000" stroke-width="0.7"/>
<line x1="445.43" y1="121.30" x2="445.43" y2="150.75" stroke="#666" stroke-width="1.15"/>
<line x1="443.43" y1="121.30" x2="447.43" y2="121.30" stroke="#555" stroke-width="1"/>
<rect x="442.98" y="151.05" width="5.20" height="120.05" fill="#fff" stroke="#555" stroke-width="0.7"/>
<line x1="455.63" y1="119.30" x2="455.63" y2="163.25" stroke="#666" stroke-width="1.15"/>
<line x1="453.63" y1="119.30" x2="457.63" y2="119.30" stroke="#555" stroke-width="1"/>
<rect x="453.18" y="163.55" width="5.20" height="107.55" fill="url(#py1)" stroke="#6b6b40" stroke-width="0.7"/>
<line x1="460.73" y1="177.80" x2="460.73" y2="227.00" stroke="#666" stroke-width="1.15"/>
<line x1="458.73" y1="177.80" x2="462.73" y2="177.80" stroke="#555" stroke-width="1"/>
<rect x="458.28" y="227.30" width="5.20" height="43.80" fill="url(#py2)" stroke="#4a4a28" stroke-width="0.7"/>
<line x1="465.83" y1="120.90" x2="465.83" y2="171.75" stroke="#666" stroke-width="1.15"/>
<line x1="463.83" y1="120.90" x2="467.83" y2="120.90" stroke="#555" stroke-width="1"/>
<rect x="463.38" y="172.05" width="5.20" height="99.05" fill="#ffffa8" stroke="#6b6b40" stroke-width="0.7"/>
<line x1="476.03" y1="122.80" x2="476.03" y2="169.25" stroke="#666" stroke-width="1.15"/>
<line x1="474.03" y1="122.80" x2="478.03" y2="122.80" stroke="#555" stroke-width="1"/>
<rect x="473.58" y="169.55" width="5.20" height="101.55" fill="url(#po1)" stroke="#6a4000" stroke-width="0.7"/>
<line x1="481.13" y1="155.00" x2="481.13" y2="201.25" stroke="#666" stroke-width="1.15"/>
<line x1="479.13" y1="155.00" x2="483.13" y2="155.00" stroke="#555" stroke-width="1"/>
<rect x="478.68" y="201.55" width="5.20" height="69.55" fill="url(#po2)" stroke="#4a2a00" stroke-width="0.7"/>
<line x1="486.23" y1="115.10" x2="486.23" y2="162.00" stroke="#666" stroke-width="1.15"/>
<line x1="484.23" y1="115.10" x2="488.23" y2="115.10" stroke="#555" stroke-width="1"/>
<rect x="483.78" y="162.30" width="5.20" height="108.80" fill="#ffa500" stroke="#6a4000" stroke-width="0.7"/>
<line x1="496.43" y1="115.10" x2="496.43" y2="175.75" stroke="#666" stroke-width="1.15"/>
<line x1="494.43" y1="115.10" x2="498.43" y2="115.10" stroke="#555" stroke-width="1"/>
<rect x="493.98" y="176.05" width="5.20" height="95.05" fill="#ee1111" stroke="#700" stroke-width="0.7"/>
<line x1="501.53" y1="215.50" x2="501.53" y2="223.75" stroke="#666" stroke-width="1.15"/>
<line x1="499.53" y1="215.50" x2="503.53" y2="215.50" stroke="#555" stroke-width="1"/>
<rect x="499.08" y="224.05" width="5.20" height="47.05" fill="url(#pr2)" stroke="#500" stroke-width="0.7"/>
<line x1="506.63" y1="129.40" x2="506.63" y2="170.00" stroke="#666" stroke-width="1.15"/>
<line x1="504.63" y1="129.40" x2="508.63" y2="129.40" stroke="#555" stroke-width="1"/>
<rect x="504.18" y="170.30" width="5.20" height="100.80" fill="#f21212" stroke="#700" stroke-width="0.7"/>
<rect x="356.5" y="48.8" width="154.8" height="27.5" fill="#fff" stroke="#444" stroke-width="1"/>
<rect x="360.8" y="52.7" width="5" height="4" fill="#000" stroke="#000" stroke-width="0.8"/>
<rect x="360.8" y="61.0" width="5" height="4" fill="#fff" stroke="#333" stroke-width="0.8"/>
<rect x="440.2" y="52.7" width="5.2" height="4" fill="#ffffa8" stroke="#555" stroke-width="0.8"/>
<rect x="440.2" y="60.5" width="5.2" height="4" fill="#f0a030" stroke="#555" stroke-width="0.8"/>
<rect x="440.2" y="68.2" width="5.2" height="4" fill="#d01010" stroke="#555" stroke-width="0.8"/>
<line x1="271.3" y1="288.5" x2="426.3" y2="288.5" stroke="#222" stroke-width="0.8"/>
<line x1="437.5" y1="288.5" x2="511.3" y2="288.5" stroke="#222" stroke-width="0.8"/>
</svg>
<div class="t" style="left:143.30px;top:43.26px;font-size:12.5px;font-weight:bold;transform-origin:0 0;transform:scale(0.957,1.020);">B</div>
<div class="t" style="left:3.41px;top:148.12px;font-size:11px;font-weight:bold;transform-origin:0 0;transform:scale(1.125,1.040);">A</div>
<div class="t" style="left:162.46px;top:41.88px;font-size:9.2px;font-weight:normal;transform-origin:0 0;transform:scale(0.960,1.024);">23</div>
<div class="t" style="left:162.48px;top:67.07px;font-size:9.2px;font-weight:normal;transform-origin:0 0;transform:scale(0.960,1.024);">25</div>
<div class="t" style="left:162.56px;top:92.29px;font-size:9.2px;font-weight:normal;transform-origin:0 0;transform:scale(0.973,1.024);">27</div>
<div class="t" style="left:162.39px;top:117.34px;font-size:9.2px;font-weight:normal;transform-origin:0 0;transform:scale(0.973,1.024);">29</div>
<div class="t" style="left:162.61px;top:142.41px;font-size:9.2px;font-weight:normal;transform-origin:0 0;transform:scale(0.960,1.024);">31</div>
<div class="t" style="left:162.85px;top:167.52px;font-size:9.2px;font-weight:normal;transform-origin:0 0;transform:scale(0.947,1.024);">33</div>
<div class="t" style="left:162.85px;top:192.68px;font-size:9.2px;font-weight:normal;transform-origin:0 0;transform:scale(0.947,1.024);">35</div>
<div class="t" style="left:162.75px;top:217.81px;font-size:9.2px;font-weight:normal;transform-origin:0 0;transform:scale(0.960,1.024);">37</div>
<div class="t" style="left:162.56px;top:242.96px;font-size:9.2px;font-weight:normal;transform-origin:0 0;transform:scale(0.960,1.024);">39</div>
<div class="t" style="left:163.12px;top:268.18px;font-size:9.2px;font-weight:normal;transform-origin:0 0;transform:scale(0.947,1.024);">41</div>
<div class="t" style="left:157.2px;top:157.1px;font-size:8.55px;transform:translate(-50%,-50%) rotate(-90deg);transform-origin:center">Ct value</div>
<div class="leg" style="left:369.9px;top:52.6px">= 100% chimeric</div>
<div class="leg" style="left:369.9px;top:60.7px">= 100% background</div>
<div class="leg" style="left:448.2px;top:52.6px">= 0.1% cell mixture</div>
<div class="leg" style="left:448.2px;top:60.5px">= 0.05% cell mixture</div>
<div class="leg" style="left:448.2px;top:68.2px">= 0.01% cell mixture</div>
<div class="t" style="left:212.38px;top:279.90px;font-size:9.2px;font-weight:normal;transform-origin:0 0;transform:scale(0.897,0.992);">HCK</div>
<div class="t" style="left:295.40px;top:280.03px;font-size:9.2px;font-weight:normal;transform-origin:0 0;transform:scale(0.881,1.024);">DYZ1</div>
<div class="t" style="left:372.08px;top:279.84px;font-size:9.2px;font-weight:normal;transform-origin:0 0;transform:scale(0.913,0.960);">DRB1*04</div>
<div class="t" style="left:455.81px;top:279.86px;font-size:9.2px;font-weight:normal;transform-origin:0 0;transform:scale(0.921,0.960);">DRB1*16</div>
<div class="t" style="left:313.81px;top:290.77px;font-size:7px;font-weight:normal;transform-origin:0 0;transform:scale(1.076,1.032);">chimeric targets</div>
<div class="t" style="left:446.27px;top:289.86px;font-size:7px;font-weight:normal;transform-origin:0 0;transform:scale(1.054,0.968);">background target</div>
<div class="t" style="left:31.65px;top:152.44px;font-size:5.3px;font-weight:normal;transform-origin:0 0;transform:scale(1.060,1.048);color:#1a1a1a;">positive fraction</div>
<div class="t" style="left:31.83px;top:158.73px;font-size:5.3px;font-weight:normal;transform-origin:0 0;transform:scale(1.127,1.048);color:#1a1a1a;">0,119%</div>
<div class="t" style="left:42.85px;top:248.80px;font-size:5.3px;font-weight:normal;transform-origin:0 0;transform:scale(1.041,1.186);color:#1a1a1a;">negative fraction</div>
<div class="t" style="left:43.23px;top:256.26px;font-size:5.3px;font-weight:normal;transform-origin:0 0;transform:scale(1.039,1.021);color:#1a1a1a;">95,7%</div>
<div class="t" style="left:15.42px;top:160.74px;font-size:5.5px;font-weight:normal;transform-origin:0 0;transform:scale(1.073,0.933);color:#1a1a1a;">10</div>
<div class="t" style="left:22.31px;top:156.73px;font-size:4.6px;font-weight:normal;transform-origin:0 0;transform:scale(0.800,1.120);color:#1a1a1a;">5</div>
<div class="t" style="left:15.42px;top:186.77px;font-size:5.5px;font-weight:normal;transform-origin:0 0;transform:scale(1.073,1.120);color:#1a1a1a;">10</div>
<div class="t" style="left:22.49px;top:181.52px;font-size:4.6px;font-weight:normal;transform-origin:0 0;transform:scale(0.756,1.344);color:#1a1a1a;">4</div>
<div class="t" style="left:15.36px;top:211.86px;font-size:5.5px;font-weight:normal;transform-origin:0 0;transform:scale(1.073,0.853);color:#1a1a1a;">10</div>
<div class="t" style="left:22.28px;top:206.98px;font-size:4.6px;font-weight:normal;transform-origin:0 0;transform:scale(0.800,1.056);color:#1a1a1a;">3</div>
<div class="t" style="left:15.42px;top:240.51px;font-size:5.5px;font-weight:normal;transform-origin:0 0;transform:scale(1.073,1.040);color:#1a1a1a;">10</div>
<div class="t" style="left:22.35px;top:235.42px;font-size:4.6px;font-weight:normal;transform-origin:0 0;transform:scale(0.800,0.960);color:#1a1a1a;">2</div>
<div class="t" style="left:18.85px;top:251.30px;font-size:5.5px;font-weight:normal;transform-origin:0 0;transform:scale(0.990,0.960);color:#1a1a1a;">0</div>
<div class="t" style="left:36.73px;top:274.50px;font-size:5.5px;font-weight:normal;transform-origin:0 0;transform:scale(0.800,1.013);color:#1a1a1a;">0</div>
<div class="t" style="left:51.29px;top:274.45px;font-size:5.5px;font-weight:normal;transform-origin:0 0;transform:scale(0.945,1.013);color:#1a1a1a;">10</div>
<div class="t" style="left:57.79px;top:270.50px;font-size:4.6px;font-weight:normal;transform-origin:0 0;transform:scale(0.847,1.152);color:#1a1a1a;">2</div>
<div class="t" style="left:79.39px;top:274.45px;font-size:5.5px;font-weight:normal;transform-origin:0 0;transform:scale(0.945,1.013);color:#1a1a1a;">10</div>
<div class="t" style="left:85.29px;top:270.14px;font-size:4.6px;font-weight:normal;transform-origin:0 0;transform:scale(0.753,1.152);color:#1a1a1a;">3</div>
<div class="t" style="left:105.32px;top:274.56px;font-size:5.5px;font-weight:normal;transform-origin:0 0;transform:scale(1.073,1.013);color:#1a1a1a;">10</div>
<div class="t" style="left:112.63px;top:270.61px;font-size:4.6px;font-weight:normal;transform-origin:0 0;transform:scale(0.756,1.152);color:#1a1a1a;">4</div>
<div class="t" style="left:130.96px;top:274.55px;font-size:5.5px;font-weight:normal;transform-origin:0 0;transform:scale(1.036,1.013);color:#1a1a1a;">10</div>
<div class="t" style="left:138.28px;top:270.30px;font-size:4.6px;font-weight:normal;transform-origin:0 0;transform:scale(0.800,1.152);color:#1a1a1a;">5</div>
<div class="t" style="left:58.47px;top:286.63px;font-size:5.6px;font-weight:normal;transform-origin:0 0;transform:scale(0.987,0.929);color:#1a1a1a;">HDO8D9 (B51/B35) PE</div>
<div class="t" style="left:4.6px;top:205.5px;font-size:5.2px;color:#1a1a1a;transform:translate(-50%,-50%) rotate(-90deg)">MCA2990 (A2) A647</div>
</body></html>
